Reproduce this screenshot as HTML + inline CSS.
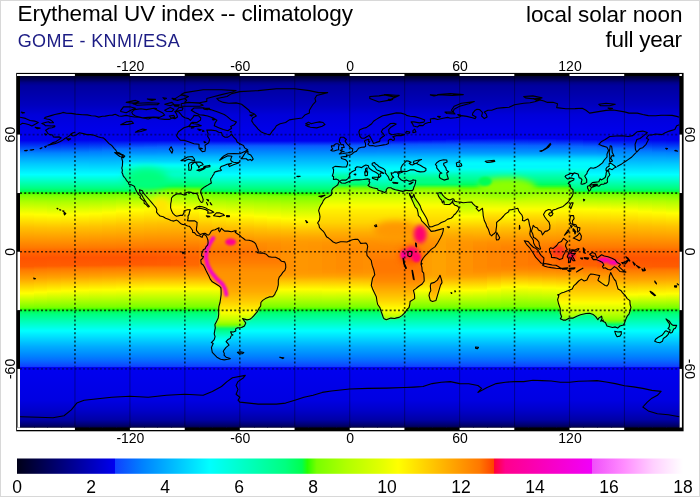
<!DOCTYPE html>
<html><head><meta charset="utf-8"><title>Erythemal UV index -- climatology</title>
<style>html,body{margin:0;padding:0;background:#fff}#wrap{position:relative;width:700px;height:497px;overflow:hidden;background:#fff}</style>
</head><body><div id="wrap"><svg width="700" height="497" viewBox="0 0 700 497" style="position:absolute;left:0;top:0"><defs><linearGradient id="s0" x1="0" y1="0" x2="0" y2="1"><stop offset="0.0000" stop-color="#000030"/><stop offset="0.0083" stop-color="#000051"/><stop offset="0.0194" stop-color="#00008a"/><stop offset="0.0278" stop-color="#00009e"/><stop offset="0.0833" stop-color="#0000bf"/><stop offset="0.1111" stop-color="#0000da"/><stop offset="0.1569" stop-color="#0000ea"/><stop offset="0.1833" stop-color="#0000ee"/><stop offset="0.2194" stop-color="#0084ff"/><stop offset="0.2333" stop-color="#00a6ff"/><stop offset="0.2500" stop-color="#00c8ff"/><stop offset="0.2806" stop-color="#00ffff"/><stop offset="0.3194" stop-color="#00ff80"/><stop offset="0.3278" stop-color="#00ff55"/><stop offset="0.3292" stop-color="#05ff46"/><stop offset="0.3319" stop-color="#24ff07"/><stop offset="0.3333" stop-color="#35ff00"/><stop offset="0.3389" stop-color="#79ff00"/><stop offset="0.3583" stop-color="#afff00"/><stop offset="0.3931" stop-color="#fffe00"/><stop offset="0.4306" stop-color="#ffc100"/><stop offset="0.4889" stop-color="#ff7900"/><stop offset="0.4958" stop-color="#ff6900"/><stop offset="0.5181" stop-color="#ff5300"/><stop offset="0.5417" stop-color="#ff5c00"/><stop offset="0.5514" stop-color="#ff7900"/><stop offset="0.5764" stop-color="#ffa200"/><stop offset="0.6181" stop-color="#ffff00"/><stop offset="0.6583" stop-color="#7cff00"/><stop offset="0.6597" stop-color="#74ff00"/><stop offset="0.6639" stop-color="#35ff00"/><stop offset="0.6653" stop-color="#21ff0d"/><stop offset="0.6681" stop-color="#00ff50"/><stop offset="0.6778" stop-color="#00ff7f"/><stop offset="0.7250" stop-color="#00ffff"/><stop offset="0.7694" stop-color="#00adff"/><stop offset="0.7972" stop-color="#0082ff"/><stop offset="0.8111" stop-color="#0668ff"/><stop offset="0.8264" stop-color="#1041ff"/><stop offset="0.8278" stop-color="#0000f0"/><stop offset="0.9222" stop-color="#0000e2"/><stop offset="0.9500" stop-color="#0000cb"/><stop offset="0.9778" stop-color="#0000a7"/><stop offset="0.9931" stop-color="#000070"/><stop offset="1.0000" stop-color="#000049"/></linearGradient><linearGradient id="s1" x1="0" y1="0" x2="0" y2="1"><stop offset="0.0000" stop-color="#000030"/><stop offset="0.0083" stop-color="#000051"/><stop offset="0.0194" stop-color="#00008a"/><stop offset="0.0278" stop-color="#00009e"/><stop offset="0.0833" stop-color="#0000bf"/><stop offset="0.1111" stop-color="#0000da"/><stop offset="0.1569" stop-color="#0000ea"/><stop offset="0.1833" stop-color="#0000ee"/><stop offset="0.2194" stop-color="#0083ff"/><stop offset="0.2333" stop-color="#00a5ff"/><stop offset="0.2500" stop-color="#00c8ff"/><stop offset="0.2806" stop-color="#00ffff"/><stop offset="0.3194" stop-color="#00ff80"/><stop offset="0.3278" stop-color="#00ff56"/><stop offset="0.3292" stop-color="#03ff4b"/><stop offset="0.3319" stop-color="#22ff0c"/><stop offset="0.3333" stop-color="#32ff00"/><stop offset="0.3389" stop-color="#77ff00"/><stop offset="0.3597" stop-color="#b0ff00"/><stop offset="0.3944" stop-color="#ffff00"/><stop offset="0.4319" stop-color="#ffc100"/><stop offset="0.4889" stop-color="#ff7900"/><stop offset="0.4958" stop-color="#ff6900"/><stop offset="0.5181" stop-color="#ff5300"/><stop offset="0.5403" stop-color="#ff5b00"/><stop offset="0.5500" stop-color="#ff7900"/><stop offset="0.5750" stop-color="#ffa300"/><stop offset="0.6153" stop-color="#fffe00"/><stop offset="0.6583" stop-color="#7aff00"/><stop offset="0.6597" stop-color="#6fff00"/><stop offset="0.6639" stop-color="#33ff00"/><stop offset="0.6653" stop-color="#21ff0f"/><stop offset="0.6681" stop-color="#00ff50"/><stop offset="0.6778" stop-color="#00ff7f"/><stop offset="0.7250" stop-color="#00ffff"/><stop offset="0.7694" stop-color="#00adff"/><stop offset="0.7972" stop-color="#0082ff"/><stop offset="0.8111" stop-color="#0668ff"/><stop offset="0.8264" stop-color="#1041ff"/><stop offset="0.8278" stop-color="#0000f0"/><stop offset="0.9222" stop-color="#0000e2"/><stop offset="0.9500" stop-color="#0000cb"/><stop offset="0.9778" stop-color="#0000a7"/><stop offset="0.9931" stop-color="#000070"/><stop offset="1.0000" stop-color="#000049"/></linearGradient><linearGradient id="s2" x1="0" y1="0" x2="0" y2="1"><stop offset="0.0000" stop-color="#000030"/><stop offset="0.0083" stop-color="#000051"/><stop offset="0.0194" stop-color="#00008a"/><stop offset="0.0278" stop-color="#00009e"/><stop offset="0.0833" stop-color="#0000bf"/><stop offset="0.1111" stop-color="#0000da"/><stop offset="0.1569" stop-color="#0000ea"/><stop offset="0.1833" stop-color="#0000ee"/><stop offset="0.1847" stop-color="#0001ee"/><stop offset="0.2194" stop-color="#0083ff"/><stop offset="0.2333" stop-color="#00a5ff"/><stop offset="0.2500" stop-color="#00c8ff"/><stop offset="0.2806" stop-color="#00ffff"/><stop offset="0.3194" stop-color="#00ff80"/><stop offset="0.3292" stop-color="#01ff4f"/><stop offset="0.3306" stop-color="#12ff2d"/><stop offset="0.3319" stop-color="#20ff11"/><stop offset="0.3333" stop-color="#2fff00"/><stop offset="0.3389" stop-color="#72ff00"/><stop offset="0.3403" stop-color="#7aff00"/><stop offset="0.3597" stop-color="#aeff00"/><stop offset="0.3833" stop-color="#e0ff00"/><stop offset="0.3958" stop-color="#ffff00"/><stop offset="0.4319" stop-color="#ffc200"/><stop offset="0.4889" stop-color="#ff7900"/><stop offset="0.4958" stop-color="#ff6900"/><stop offset="0.5167" stop-color="#ff5300"/><stop offset="0.5403" stop-color="#ff5d00"/><stop offset="0.5486" stop-color="#ff7800"/><stop offset="0.5736" stop-color="#ffa300"/><stop offset="0.6125" stop-color="#fffd00"/><stop offset="0.6583" stop-color="#79ff00"/><stop offset="0.6597" stop-color="#6aff00"/><stop offset="0.6639" stop-color="#31ff00"/><stop offset="0.6653" stop-color="#20ff10"/><stop offset="0.6681" stop-color="#00ff50"/><stop offset="0.6778" stop-color="#00ff7f"/><stop offset="0.7250" stop-color="#00ffff"/><stop offset="0.7694" stop-color="#00adff"/><stop offset="0.7972" stop-color="#0082ff"/><stop offset="0.8111" stop-color="#0668ff"/><stop offset="0.8264" stop-color="#1041ff"/><stop offset="0.8278" stop-color="#0000f0"/><stop offset="0.9222" stop-color="#0000e2"/><stop offset="0.9500" stop-color="#0000cb"/><stop offset="0.9778" stop-color="#0000a7"/><stop offset="0.9931" stop-color="#000070"/><stop offset="1.0000" stop-color="#000049"/></linearGradient><linearGradient id="s3" x1="0" y1="0" x2="0" y2="1"><stop offset="0.0000" stop-color="#000030"/><stop offset="0.0083" stop-color="#000051"/><stop offset="0.0194" stop-color="#00008a"/><stop offset="0.0278" stop-color="#00009e"/><stop offset="0.0833" stop-color="#0000bf"/><stop offset="0.1111" stop-color="#0000da"/><stop offset="0.1569" stop-color="#0000ea"/><stop offset="0.1833" stop-color="#0000ee"/><stop offset="0.2194" stop-color="#0084ff"/><stop offset="0.2333" stop-color="#00a6ff"/><stop offset="0.2500" stop-color="#00c8ff"/><stop offset="0.2806" stop-color="#00ffff"/><stop offset="0.3194" stop-color="#00ff80"/><stop offset="0.3278" stop-color="#00ff56"/><stop offset="0.3292" stop-color="#02ff4c"/><stop offset="0.3306" stop-color="#13ff2a"/><stop offset="0.3319" stop-color="#21ff0d"/><stop offset="0.3333" stop-color="#31ff00"/><stop offset="0.3389" stop-color="#76ff00"/><stop offset="0.3403" stop-color="#7bff00"/><stop offset="0.3597" stop-color="#b0ff00"/><stop offset="0.3819" stop-color="#e0ff00"/><stop offset="0.3944" stop-color="#ffff00"/><stop offset="0.3958" stop-color="#fffd00"/><stop offset="0.4319" stop-color="#ffc100"/><stop offset="0.4889" stop-color="#ff7900"/><stop offset="0.4944" stop-color="#ff6b00"/><stop offset="0.5167" stop-color="#ff5300"/><stop offset="0.5389" stop-color="#ff5b00"/><stop offset="0.5486" stop-color="#ff7900"/><stop offset="0.5722" stop-color="#ffa200"/><stop offset="0.6111" stop-color="#fffe00"/><stop offset="0.6583" stop-color="#78ff00"/><stop offset="0.6639" stop-color="#30ff00"/><stop offset="0.6653" stop-color="#1fff11"/><stop offset="0.6681" stop-color="#00ff50"/><stop offset="0.6778" stop-color="#00ff7f"/><stop offset="0.7250" stop-color="#00ffff"/><stop offset="0.7694" stop-color="#00adff"/><stop offset="0.7972" stop-color="#0082ff"/><stop offset="0.8111" stop-color="#0668ff"/><stop offset="0.8264" stop-color="#1041ff"/><stop offset="0.8278" stop-color="#0000f0"/><stop offset="0.9222" stop-color="#0000e2"/><stop offset="0.9500" stop-color="#0000cb"/><stop offset="0.9778" stop-color="#0000a7"/><stop offset="0.9931" stop-color="#000070"/><stop offset="1.0000" stop-color="#000049"/></linearGradient><linearGradient id="s4" x1="0" y1="0" x2="0" y2="1"><stop offset="0.0000" stop-color="#000030"/><stop offset="0.0083" stop-color="#000051"/><stop offset="0.0194" stop-color="#00008a"/><stop offset="0.0278" stop-color="#00009e"/><stop offset="0.0833" stop-color="#0000bf"/><stop offset="0.1111" stop-color="#0000da"/><stop offset="0.1569" stop-color="#0000ea"/><stop offset="0.1819" stop-color="#0000ee"/><stop offset="0.2181" stop-color="#0082ff"/><stop offset="0.2319" stop-color="#00a3ff"/><stop offset="0.2500" stop-color="#00c8ff"/><stop offset="0.2806" stop-color="#00ffff"/><stop offset="0.3194" stop-color="#00ff80"/><stop offset="0.3278" stop-color="#00ff55"/><stop offset="0.3292" stop-color="#04ff47"/><stop offset="0.3319" stop-color="#24ff08"/><stop offset="0.3333" stop-color="#35ff00"/><stop offset="0.3389" stop-color="#79ff00"/><stop offset="0.3583" stop-color="#afff00"/><stop offset="0.3931" stop-color="#ffff00"/><stop offset="0.4306" stop-color="#ffc100"/><stop offset="0.4889" stop-color="#ff7900"/><stop offset="0.4944" stop-color="#ff6b00"/><stop offset="0.5167" stop-color="#ff5300"/><stop offset="0.5389" stop-color="#ff5c00"/><stop offset="0.5472" stop-color="#ff7800"/><stop offset="0.5722" stop-color="#ffa400"/><stop offset="0.6097" stop-color="#fffe00"/><stop offset="0.6583" stop-color="#77ff00"/><stop offset="0.6639" stop-color="#2fff00"/><stop offset="0.6653" stop-color="#1fff12"/><stop offset="0.6681" stop-color="#00ff50"/><stop offset="0.6778" stop-color="#00ff7f"/><stop offset="0.7250" stop-color="#00ffff"/><stop offset="0.7694" stop-color="#00adff"/><stop offset="0.7972" stop-color="#0082ff"/><stop offset="0.8111" stop-color="#0668ff"/><stop offset="0.8264" stop-color="#1041ff"/><stop offset="0.8278" stop-color="#0000f0"/><stop offset="0.9222" stop-color="#0000e2"/><stop offset="0.9500" stop-color="#0000cb"/><stop offset="0.9778" stop-color="#0000a7"/><stop offset="0.9931" stop-color="#000070"/><stop offset="1.0000" stop-color="#000049"/></linearGradient><linearGradient id="s5" x1="0" y1="0" x2="0" y2="1"><stop offset="0.0000" stop-color="#000030"/><stop offset="0.0083" stop-color="#000051"/><stop offset="0.0194" stop-color="#00008a"/><stop offset="0.0278" stop-color="#00009e"/><stop offset="0.0833" stop-color="#0000bf"/><stop offset="0.1111" stop-color="#0000da"/><stop offset="0.1569" stop-color="#0000ea"/><stop offset="0.1819" stop-color="#0001ee"/><stop offset="0.2139" stop-color="#0277ff"/><stop offset="0.2181" stop-color="#0084ff"/><stop offset="0.2333" stop-color="#00a7ff"/><stop offset="0.2806" stop-color="#00ffff"/><stop offset="0.3194" stop-color="#00ff80"/><stop offset="0.3222" stop-color="#00ff72"/><stop offset="0.3278" stop-color="#00ff55"/><stop offset="0.3292" stop-color="#07ff42"/><stop offset="0.3319" stop-color="#27ff03"/><stop offset="0.3375" stop-color="#6fff00"/><stop offset="0.3389" stop-color="#7aff00"/><stop offset="0.3583" stop-color="#b1ff00"/><stop offset="0.3917" stop-color="#fffe00"/><stop offset="0.4292" stop-color="#ffc200"/><stop offset="0.4889" stop-color="#ff7800"/><stop offset="0.4944" stop-color="#ff6b00"/><stop offset="0.5167" stop-color="#ff5300"/><stop offset="0.5389" stop-color="#ff5d00"/><stop offset="0.5472" stop-color="#ff7900"/><stop offset="0.5708" stop-color="#ffa300"/><stop offset="0.6083" stop-color="#fffd00"/><stop offset="0.6569" stop-color="#7bff00"/><stop offset="0.6583" stop-color="#75ff00"/><stop offset="0.6639" stop-color="#2eff00"/><stop offset="0.6653" stop-color="#1fff13"/><stop offset="0.6681" stop-color="#00ff50"/><stop offset="0.6778" stop-color="#00ff7f"/><stop offset="0.7250" stop-color="#00ffff"/><stop offset="0.7694" stop-color="#00adff"/><stop offset="0.7972" stop-color="#0082ff"/><stop offset="0.8111" stop-color="#0668ff"/><stop offset="0.8264" stop-color="#1041ff"/><stop offset="0.8278" stop-color="#0000f0"/><stop offset="0.9222" stop-color="#0000e2"/><stop offset="0.9500" stop-color="#0000cb"/><stop offset="0.9778" stop-color="#0000a7"/><stop offset="0.9931" stop-color="#000070"/><stop offset="1.0000" stop-color="#000049"/></linearGradient><linearGradient id="s6" x1="0" y1="0" x2="0" y2="1"><stop offset="0.0000" stop-color="#000030"/><stop offset="0.0083" stop-color="#000051"/><stop offset="0.0194" stop-color="#00008a"/><stop offset="0.0278" stop-color="#00009e"/><stop offset="0.0833" stop-color="#0000bf"/><stop offset="0.1111" stop-color="#0000da"/><stop offset="0.1556" stop-color="#0000ea"/><stop offset="0.1819" stop-color="#0000ee"/><stop offset="0.2111" stop-color="#0473ff"/><stop offset="0.2167" stop-color="#0083ff"/><stop offset="0.2319" stop-color="#00a5ff"/><stop offset="0.2806" stop-color="#00ffff"/><stop offset="0.3194" stop-color="#00ff80"/><stop offset="0.3222" stop-color="#00ff72"/><stop offset="0.3278" stop-color="#00ff53"/><stop offset="0.3292" stop-color="#0bff3b"/><stop offset="0.3306" stop-color="#1bff19"/><stop offset="0.3319" stop-color="#2cff00"/><stop offset="0.3375" stop-color="#77ff00"/><stop offset="0.3569" stop-color="#b1ff00"/><stop offset="0.3889" stop-color="#fffe00"/><stop offset="0.4278" stop-color="#ffc100"/><stop offset="0.4889" stop-color="#ff7800"/><stop offset="0.4944" stop-color="#ff6a00"/><stop offset="0.5167" stop-color="#ff5300"/><stop offset="0.5375" stop-color="#ff5b00"/><stop offset="0.5472" stop-color="#ff7a00"/><stop offset="0.5708" stop-color="#ffa500"/><stop offset="0.6083" stop-color="#feff00"/><stop offset="0.6569" stop-color="#7bff00"/><stop offset="0.6583" stop-color="#73ff00"/><stop offset="0.6639" stop-color="#2eff00"/><stop offset="0.6653" stop-color="#1eff13"/><stop offset="0.6681" stop-color="#00ff50"/><stop offset="0.6778" stop-color="#00ff7f"/><stop offset="0.7250" stop-color="#00ffff"/><stop offset="0.7694" stop-color="#00adff"/><stop offset="0.7972" stop-color="#0082ff"/><stop offset="0.8111" stop-color="#0668ff"/><stop offset="0.8264" stop-color="#1041ff"/><stop offset="0.8278" stop-color="#0000f0"/><stop offset="0.9222" stop-color="#0000e2"/><stop offset="0.9500" stop-color="#0000cb"/><stop offset="0.9778" stop-color="#0000a7"/><stop offset="0.9931" stop-color="#000070"/><stop offset="1.0000" stop-color="#000049"/></linearGradient><linearGradient id="s7" x1="0" y1="0" x2="0" y2="1"><stop offset="0.0000" stop-color="#000030"/><stop offset="0.0083" stop-color="#000051"/><stop offset="0.0194" stop-color="#00008a"/><stop offset="0.0278" stop-color="#00009e"/><stop offset="0.0833" stop-color="#0000bf"/><stop offset="0.1111" stop-color="#0000da"/><stop offset="0.1556" stop-color="#0000ea"/><stop offset="0.1819" stop-color="#0000ee"/><stop offset="0.1833" stop-color="#0002ef"/><stop offset="0.2069" stop-color="#0569ff"/><stop offset="0.2153" stop-color="#0081ff"/><stop offset="0.2319" stop-color="#00a6ff"/><stop offset="0.2806" stop-color="#00ffff"/><stop offset="0.3194" stop-color="#00ff80"/><stop offset="0.3222" stop-color="#00ff72"/><stop offset="0.3278" stop-color="#00ff52"/><stop offset="0.3306" stop-color="#21ff0e"/><stop offset="0.3319" stop-color="#33ff00"/><stop offset="0.3361" stop-color="#6fff00"/><stop offset="0.3375" stop-color="#7aff00"/><stop offset="0.3542" stop-color="#afff00"/><stop offset="0.3847" stop-color="#ffff00"/><stop offset="0.4250" stop-color="#ffc200"/><stop offset="0.4875" stop-color="#ff7900"/><stop offset="0.4944" stop-color="#ff6a00"/><stop offset="0.5167" stop-color="#ff5300"/><stop offset="0.5375" stop-color="#ff5b00"/><stop offset="0.5458" stop-color="#ff7800"/><stop offset="0.5694" stop-color="#ffa300"/><stop offset="0.6069" stop-color="#ffff00"/><stop offset="0.6569" stop-color="#7aff00"/><stop offset="0.6583" stop-color="#71ff00"/><stop offset="0.6639" stop-color="#2dff00"/><stop offset="0.6653" stop-color="#1eff14"/><stop offset="0.6681" stop-color="#00ff50"/><stop offset="0.6778" stop-color="#00ff7f"/><stop offset="0.7250" stop-color="#00ffff"/><stop offset="0.7694" stop-color="#00adff"/><stop offset="0.7972" stop-color="#0082ff"/><stop offset="0.8111" stop-color="#0668ff"/><stop offset="0.8264" stop-color="#1041ff"/><stop offset="0.8278" stop-color="#0000f0"/><stop offset="0.9222" stop-color="#0000e2"/><stop offset="0.9500" stop-color="#0000cb"/><stop offset="0.9778" stop-color="#0000a7"/><stop offset="0.9931" stop-color="#000070"/><stop offset="1.0000" stop-color="#000049"/></linearGradient><linearGradient id="s8" x1="0" y1="0" x2="0" y2="1"><stop offset="0.0000" stop-color="#000030"/><stop offset="0.0083" stop-color="#000051"/><stop offset="0.0194" stop-color="#00008a"/><stop offset="0.0278" stop-color="#00009e"/><stop offset="0.0833" stop-color="#0000bf"/><stop offset="0.1111" stop-color="#0000da"/><stop offset="0.1556" stop-color="#0000ea"/><stop offset="0.1833" stop-color="#0000ef"/><stop offset="0.2042" stop-color="#0765ff"/><stop offset="0.2139" stop-color="#017fff"/><stop offset="0.2306" stop-color="#00a4ff"/><stop offset="0.2806" stop-color="#00ffff"/><stop offset="0.3194" stop-color="#00ff80"/><stop offset="0.3222" stop-color="#00ff72"/><stop offset="0.3278" stop-color="#01ff4e"/><stop offset="0.3292" stop-color="#16ff25"/><stop offset="0.3306" stop-color="#27ff02"/><stop offset="0.3361" stop-color="#79ff00"/><stop offset="0.3528" stop-color="#b0ff00"/><stop offset="0.3708" stop-color="#e0ff00"/><stop offset="0.3806" stop-color="#feff00"/><stop offset="0.3819" stop-color="#fffd00"/><stop offset="0.4222" stop-color="#ffc200"/><stop offset="0.4875" stop-color="#ff7900"/><stop offset="0.4944" stop-color="#ff6a00"/><stop offset="0.5167" stop-color="#ff5300"/><stop offset="0.5375" stop-color="#ff5c00"/><stop offset="0.5458" stop-color="#ff7800"/><stop offset="0.5694" stop-color="#ffa400"/><stop offset="0.6056" stop-color="#fffd00"/><stop offset="0.6569" stop-color="#7aff00"/><stop offset="0.6583" stop-color="#70ff00"/><stop offset="0.6639" stop-color="#2dff00"/><stop offset="0.6653" stop-color="#1eff14"/><stop offset="0.6681" stop-color="#00ff50"/><stop offset="0.6778" stop-color="#00ff7f"/><stop offset="0.7250" stop-color="#00ffff"/><stop offset="0.7694" stop-color="#00adff"/><stop offset="0.7972" stop-color="#0082ff"/><stop offset="0.8111" stop-color="#0668ff"/><stop offset="0.8264" stop-color="#1041ff"/><stop offset="0.8278" stop-color="#0000f0"/><stop offset="0.9222" stop-color="#0000e2"/><stop offset="0.9500" stop-color="#0000cb"/><stop offset="0.9778" stop-color="#0000a7"/><stop offset="0.9931" stop-color="#000070"/><stop offset="1.0000" stop-color="#000049"/></linearGradient><linearGradient id="s9" x1="0" y1="0" x2="0" y2="1"><stop offset="0.0000" stop-color="#000030"/><stop offset="0.0083" stop-color="#000051"/><stop offset="0.0194" stop-color="#00008a"/><stop offset="0.0278" stop-color="#00009e"/><stop offset="0.0833" stop-color="#0000bf"/><stop offset="0.1111" stop-color="#0000da"/><stop offset="0.1556" stop-color="#0000ea"/><stop offset="0.1833" stop-color="#0000ef"/><stop offset="0.2028" stop-color="#0762ff"/><stop offset="0.2139" stop-color="#0081ff"/><stop offset="0.2306" stop-color="#00a5ff"/><stop offset="0.2806" stop-color="#00ffff"/><stop offset="0.3194" stop-color="#00ff80"/><stop offset="0.3222" stop-color="#00ff72"/><stop offset="0.3264" stop-color="#00ff57"/><stop offset="0.3278" stop-color="#07ff43"/><stop offset="0.3292" stop-color="#1bff1a"/><stop offset="0.3306" stop-color="#2fff00"/><stop offset="0.3347" stop-color="#73ff00"/><stop offset="0.3361" stop-color="#7cff00"/><stop offset="0.3514" stop-color="#b2ff00"/><stop offset="0.3778" stop-color="#fffe00"/><stop offset="0.4208" stop-color="#ffc100"/><stop offset="0.4875" stop-color="#ff7800"/><stop offset="0.4944" stop-color="#ff6a00"/><stop offset="0.5167" stop-color="#ff5400"/><stop offset="0.5375" stop-color="#ff5d00"/><stop offset="0.5458" stop-color="#ff7900"/><stop offset="0.5694" stop-color="#ffa500"/><stop offset="0.6056" stop-color="#ffff00"/><stop offset="0.6167" stop-color="#e0ff00"/><stop offset="0.6569" stop-color="#7aff00"/><stop offset="0.6583" stop-color="#6fff00"/><stop offset="0.6639" stop-color="#2cff00"/><stop offset="0.6653" stop-color="#1eff14"/><stop offset="0.6681" stop-color="#00ff50"/><stop offset="0.6778" stop-color="#00ff7f"/><stop offset="0.7250" stop-color="#00ffff"/><stop offset="0.7694" stop-color="#00adff"/><stop offset="0.7972" stop-color="#0082ff"/><stop offset="0.8111" stop-color="#0668ff"/><stop offset="0.8264" stop-color="#1041ff"/><stop offset="0.8278" stop-color="#0000f0"/><stop offset="0.9222" stop-color="#0000e2"/><stop offset="0.9500" stop-color="#0000cb"/><stop offset="0.9778" stop-color="#0000a7"/><stop offset="0.9931" stop-color="#000070"/><stop offset="1.0000" stop-color="#000049"/></linearGradient><linearGradient id="s10" x1="0" y1="0" x2="0" y2="1"><stop offset="0.0000" stop-color="#000030"/><stop offset="0.0083" stop-color="#000051"/><stop offset="0.0194" stop-color="#00008a"/><stop offset="0.0278" stop-color="#00009e"/><stop offset="0.0833" stop-color="#0000bf"/><stop offset="0.1111" stop-color="#0000da"/><stop offset="0.1556" stop-color="#0000ea"/><stop offset="0.1833" stop-color="#0000ef"/><stop offset="0.2014" stop-color="#085fff"/><stop offset="0.2139" stop-color="#0082ff"/><stop offset="0.2306" stop-color="#00a5ff"/><stop offset="0.2806" stop-color="#00ffff"/><stop offset="0.3194" stop-color="#00ff80"/><stop offset="0.3222" stop-color="#00ff72"/><stop offset="0.3264" stop-color="#00ff55"/><stop offset="0.3278" stop-color="#0cff39"/><stop offset="0.3292" stop-color="#20ff10"/><stop offset="0.3306" stop-color="#36ff00"/><stop offset="0.3333" stop-color="#66ff00"/><stop offset="0.3347" stop-color="#79ff00"/><stop offset="0.3500" stop-color="#b2ff00"/><stop offset="0.3750" stop-color="#fffe00"/><stop offset="0.4194" stop-color="#ffc100"/><stop offset="0.4875" stop-color="#ff7800"/><stop offset="0.4944" stop-color="#ff6a00"/><stop offset="0.5167" stop-color="#ff5600"/><stop offset="0.5375" stop-color="#ff5e00"/><stop offset="0.5458" stop-color="#ff7900"/><stop offset="0.5694" stop-color="#ffa500"/><stop offset="0.6056" stop-color="#ffff00"/><stop offset="0.6167" stop-color="#e0ff00"/><stop offset="0.6569" stop-color="#7aff00"/><stop offset="0.6583" stop-color="#6fff00"/><stop offset="0.6639" stop-color="#2cff00"/><stop offset="0.6653" stop-color="#1eff14"/><stop offset="0.6681" stop-color="#00ff50"/><stop offset="0.6778" stop-color="#00ff7f"/><stop offset="0.7250" stop-color="#00ffff"/><stop offset="0.7694" stop-color="#00adff"/><stop offset="0.7972" stop-color="#0082ff"/><stop offset="0.8111" stop-color="#0668ff"/><stop offset="0.8264" stop-color="#1041ff"/><stop offset="0.8278" stop-color="#0000f0"/><stop offset="0.9222" stop-color="#0000e2"/><stop offset="0.9500" stop-color="#0000cb"/><stop offset="0.9778" stop-color="#0000a7"/><stop offset="0.9931" stop-color="#000070"/><stop offset="1.0000" stop-color="#000049"/></linearGradient><linearGradient id="s11" x1="0" y1="0" x2="0" y2="1"><stop offset="0.0000" stop-color="#000030"/><stop offset="0.0083" stop-color="#000051"/><stop offset="0.0194" stop-color="#00008a"/><stop offset="0.0278" stop-color="#00009e"/><stop offset="0.0833" stop-color="#0000bf"/><stop offset="0.1111" stop-color="#0000da"/><stop offset="0.1556" stop-color="#0000ea"/><stop offset="0.1833" stop-color="#0000ef"/><stop offset="0.2000" stop-color="#085cfe"/><stop offset="0.2028" stop-color="#0766ff"/><stop offset="0.2139" stop-color="#0083ff"/><stop offset="0.2306" stop-color="#00a6ff"/><stop offset="0.2806" stop-color="#00ffff"/><stop offset="0.3194" stop-color="#00ff80"/><stop offset="0.3222" stop-color="#00ff72"/><stop offset="0.3264" stop-color="#00ff54"/><stop offset="0.3278" stop-color="#0eff34"/><stop offset="0.3292" stop-color="#23ff0b"/><stop offset="0.3306" stop-color="#3aff00"/><stop offset="0.3333" stop-color="#6bff00"/><stop offset="0.3347" stop-color="#7aff00"/><stop offset="0.3486" stop-color="#b0ff00"/><stop offset="0.3736" stop-color="#ffff00"/><stop offset="0.4181" stop-color="#ffc100"/><stop offset="0.4875" stop-color="#ff7800"/><stop offset="0.4931" stop-color="#ff6d00"/><stop offset="0.5167" stop-color="#ff5900"/><stop offset="0.5375" stop-color="#ff6000"/><stop offset="0.5458" stop-color="#ff7900"/><stop offset="0.5694" stop-color="#ffa500"/><stop offset="0.6056" stop-color="#ffff00"/><stop offset="0.6167" stop-color="#e0ff00"/><stop offset="0.6569" stop-color="#7aff00"/><stop offset="0.6583" stop-color="#6fff00"/><stop offset="0.6639" stop-color="#2cff00"/><stop offset="0.6653" stop-color="#1eff14"/><stop offset="0.6681" stop-color="#00ff50"/><stop offset="0.6778" stop-color="#00ff7f"/><stop offset="0.7250" stop-color="#00ffff"/><stop offset="0.7694" stop-color="#00adff"/><stop offset="0.7972" stop-color="#0082ff"/><stop offset="0.8111" stop-color="#0668ff"/><stop offset="0.8264" stop-color="#1041ff"/><stop offset="0.8278" stop-color="#0000f0"/><stop offset="0.9222" stop-color="#0000e2"/><stop offset="0.9500" stop-color="#0000cb"/><stop offset="0.9778" stop-color="#0000a7"/><stop offset="0.9931" stop-color="#000070"/><stop offset="1.0000" stop-color="#000049"/></linearGradient><linearGradient id="s12" x1="0" y1="0" x2="0" y2="1"><stop offset="0.0000" stop-color="#000030"/><stop offset="0.0083" stop-color="#000051"/><stop offset="0.0194" stop-color="#00008a"/><stop offset="0.0278" stop-color="#00009e"/><stop offset="0.0833" stop-color="#0000bf"/><stop offset="0.1111" stop-color="#0000da"/><stop offset="0.1556" stop-color="#0000ea"/><stop offset="0.1833" stop-color="#0000ef"/><stop offset="0.2014" stop-color="#0763ff"/><stop offset="0.2139" stop-color="#0083ff"/><stop offset="0.2292" stop-color="#00a3ff"/><stop offset="0.2806" stop-color="#00ffff"/><stop offset="0.3194" stop-color="#00ff80"/><stop offset="0.3222" stop-color="#00ff72"/><stop offset="0.3264" stop-color="#00ff58"/><stop offset="0.3278" stop-color="#03ff4a"/><stop offset="0.3292" stop-color="#18ff21"/><stop offset="0.3306" stop-color="#2aff00"/><stop offset="0.3347" stop-color="#6bff00"/><stop offset="0.3361" stop-color="#7aff00"/><stop offset="0.3514" stop-color="#aeff00"/><stop offset="0.3694" stop-color="#dfff00"/><stop offset="0.3792" stop-color="#feff00"/><stop offset="0.3806" stop-color="#fffd00"/><stop offset="0.4222" stop-color="#ffc100"/><stop offset="0.4944" stop-color="#ff7100"/><stop offset="0.5167" stop-color="#ff6300"/><stop offset="0.5375" stop-color="#ff6900"/><stop offset="0.5444" stop-color="#ff7800"/><stop offset="0.5681" stop-color="#ffa200"/><stop offset="0.6056" stop-color="#ffff00"/><stop offset="0.6167" stop-color="#e0ff00"/><stop offset="0.6569" stop-color="#7aff00"/><stop offset="0.6583" stop-color="#6fff00"/><stop offset="0.6639" stop-color="#2cff00"/><stop offset="0.6653" stop-color="#1eff14"/><stop offset="0.6681" stop-color="#00ff50"/><stop offset="0.6778" stop-color="#00ff7f"/><stop offset="0.7250" stop-color="#00ffff"/><stop offset="0.7694" stop-color="#00adff"/><stop offset="0.7972" stop-color="#0082ff"/><stop offset="0.8111" stop-color="#0668ff"/><stop offset="0.8264" stop-color="#1041ff"/><stop offset="0.8278" stop-color="#0000f0"/><stop offset="0.9222" stop-color="#0000e2"/><stop offset="0.9500" stop-color="#0000cb"/><stop offset="0.9778" stop-color="#0000a7"/><stop offset="0.9931" stop-color="#000070"/><stop offset="1.0000" stop-color="#000049"/></linearGradient><linearGradient id="s13" x1="0" y1="0" x2="0" y2="1"><stop offset="0.0000" stop-color="#000030"/><stop offset="0.0083" stop-color="#000051"/><stop offset="0.0194" stop-color="#00008a"/><stop offset="0.0278" stop-color="#00009e"/><stop offset="0.0833" stop-color="#0000bf"/><stop offset="0.1111" stop-color="#0000da"/><stop offset="0.1556" stop-color="#0000ea"/><stop offset="0.1833" stop-color="#0000ef"/><stop offset="0.1847" stop-color="#0105f0"/><stop offset="0.1986" stop-color="#0957fe"/><stop offset="0.2014" stop-color="#0763ff"/><stop offset="0.2139" stop-color="#0083ff"/><stop offset="0.2292" stop-color="#00a3ff"/><stop offset="0.2806" stop-color="#00ffff"/><stop offset="0.3194" stop-color="#00ff80"/><stop offset="0.3222" stop-color="#00ff72"/><stop offset="0.3278" stop-color="#00ff52"/><stop offset="0.3306" stop-color="#1fff12"/><stop offset="0.3319" stop-color="#31ff00"/><stop offset="0.3361" stop-color="#6bff00"/><stop offset="0.3375" stop-color="#7aff00"/><stop offset="0.3556" stop-color="#b1ff00"/><stop offset="0.3861" stop-color="#fffe00"/><stop offset="0.4264" stop-color="#ffc100"/><stop offset="0.4764" stop-color="#ff8700"/><stop offset="0.4931" stop-color="#ff7900"/><stop offset="0.5167" stop-color="#ff7000"/><stop offset="0.5375" stop-color="#ff7300"/><stop offset="0.5514" stop-color="#ff8400"/><stop offset="0.5694" stop-color="#ffa500"/><stop offset="0.6056" stop-color="#ffff00"/><stop offset="0.6167" stop-color="#e0ff00"/><stop offset="0.6569" stop-color="#7aff00"/><stop offset="0.6583" stop-color="#6fff00"/><stop offset="0.6639" stop-color="#2cff00"/><stop offset="0.6653" stop-color="#1eff14"/><stop offset="0.6681" stop-color="#00ff50"/><stop offset="0.6778" stop-color="#00ff7f"/><stop offset="0.7250" stop-color="#00ffff"/><stop offset="0.7694" stop-color="#00adff"/><stop offset="0.7972" stop-color="#0082ff"/><stop offset="0.8111" stop-color="#0668ff"/><stop offset="0.8264" stop-color="#1041ff"/><stop offset="0.8278" stop-color="#0000f0"/><stop offset="0.9222" stop-color="#0000e2"/><stop offset="0.9500" stop-color="#0000cb"/><stop offset="0.9778" stop-color="#0000a7"/><stop offset="0.9931" stop-color="#000070"/><stop offset="1.0000" stop-color="#000049"/></linearGradient><linearGradient id="s14" x1="0" y1="0" x2="0" y2="1"><stop offset="0.0000" stop-color="#000030"/><stop offset="0.0083" stop-color="#000051"/><stop offset="0.0194" stop-color="#00008a"/><stop offset="0.0278" stop-color="#00009e"/><stop offset="0.0833" stop-color="#0000bf"/><stop offset="0.1111" stop-color="#0000da"/><stop offset="0.1556" stop-color="#0000ea"/><stop offset="0.1833" stop-color="#0000ef"/><stop offset="0.1847" stop-color="#0002ef"/><stop offset="0.1986" stop-color="#0958ff"/><stop offset="0.2014" stop-color="#0763ff"/><stop offset="0.2139" stop-color="#0083ff"/><stop offset="0.2292" stop-color="#00a3ff"/><stop offset="0.2806" stop-color="#00ffff"/><stop offset="0.3194" stop-color="#00ff80"/><stop offset="0.3222" stop-color="#00ff72"/><stop offset="0.3278" stop-color="#00ff54"/><stop offset="0.3292" stop-color="#07ff41"/><stop offset="0.3319" stop-color="#27ff01"/><stop offset="0.3375" stop-color="#70ff00"/><stop offset="0.3389" stop-color="#7aff00"/><stop offset="0.3583" stop-color="#b2ff00"/><stop offset="0.3792" stop-color="#e1ff00"/><stop offset="0.3903" stop-color="#feff00"/><stop offset="0.3917" stop-color="#fffd00"/><stop offset="0.4292" stop-color="#ffc100"/><stop offset="0.4778" stop-color="#ff8700"/><stop offset="0.4944" stop-color="#ff7c00"/><stop offset="0.5250" stop-color="#ff7a00"/><stop offset="0.5417" stop-color="#ff7c00"/><stop offset="0.5556" stop-color="#ff8b00"/><stop offset="0.5694" stop-color="#ffa400"/><stop offset="0.6056" stop-color="#fffe00"/><stop offset="0.6569" stop-color="#7aff00"/><stop offset="0.6583" stop-color="#6fff00"/><stop offset="0.6639" stop-color="#2dff00"/><stop offset="0.6653" stop-color="#1eff14"/><stop offset="0.6681" stop-color="#00ff50"/><stop offset="0.6778" stop-color="#00ff7f"/><stop offset="0.7250" stop-color="#00ffff"/><stop offset="0.7694" stop-color="#00adff"/><stop offset="0.7972" stop-color="#0082ff"/><stop offset="0.8111" stop-color="#0668ff"/><stop offset="0.8264" stop-color="#1041ff"/><stop offset="0.8278" stop-color="#0000f0"/><stop offset="0.9222" stop-color="#0000e2"/><stop offset="0.9500" stop-color="#0000cb"/><stop offset="0.9778" stop-color="#0000a7"/><stop offset="0.9931" stop-color="#000070"/><stop offset="1.0000" stop-color="#000049"/></linearGradient><linearGradient id="s15" x1="0" y1="0" x2="0" y2="1"><stop offset="0.0000" stop-color="#000030"/><stop offset="0.0083" stop-color="#000051"/><stop offset="0.0194" stop-color="#00008a"/><stop offset="0.0278" stop-color="#00009e"/><stop offset="0.0833" stop-color="#0000bf"/><stop offset="0.1111" stop-color="#0000da"/><stop offset="0.1556" stop-color="#0000ea"/><stop offset="0.1847" stop-color="#0000ef"/><stop offset="0.1986" stop-color="#0a59ff"/><stop offset="0.2014" stop-color="#0763ff"/><stop offset="0.2139" stop-color="#0083ff"/><stop offset="0.2292" stop-color="#00a3ff"/><stop offset="0.2806" stop-color="#00ffff"/><stop offset="0.3194" stop-color="#00ff80"/><stop offset="0.3278" stop-color="#00ff56"/><stop offset="0.3292" stop-color="#03ff49"/><stop offset="0.3319" stop-color="#23ff0b"/><stop offset="0.3333" stop-color="#33ff00"/><stop offset="0.3389" stop-color="#78ff00"/><stop offset="0.3597" stop-color="#b1ff00"/><stop offset="0.3944" stop-color="#fffe00"/><stop offset="0.4306" stop-color="#ffc200"/><stop offset="0.4778" stop-color="#ff8900"/><stop offset="0.4944" stop-color="#ff7f00"/><stop offset="0.5375" stop-color="#ff7e00"/><stop offset="0.5528" stop-color="#ff8700"/><stop offset="0.5694" stop-color="#ffa300"/><stop offset="0.6069" stop-color="#ffff00"/><stop offset="0.6181" stop-color="#dfff00"/><stop offset="0.6569" stop-color="#7aff00"/><stop offset="0.6583" stop-color="#71ff00"/><stop offset="0.6639" stop-color="#2dff00"/><stop offset="0.6653" stop-color="#1eff14"/><stop offset="0.6681" stop-color="#00ff50"/><stop offset="0.6778" stop-color="#00ff7f"/><stop offset="0.7250" stop-color="#00ffff"/><stop offset="0.7694" stop-color="#00adff"/><stop offset="0.7972" stop-color="#0082ff"/><stop offset="0.8111" stop-color="#0668ff"/><stop offset="0.8264" stop-color="#1041ff"/><stop offset="0.8278" stop-color="#0000f0"/><stop offset="0.9222" stop-color="#0000e2"/><stop offset="0.9500" stop-color="#0000cb"/><stop offset="0.9778" stop-color="#0000a7"/><stop offset="0.9931" stop-color="#000070"/><stop offset="1.0000" stop-color="#000049"/></linearGradient><linearGradient id="s16" x1="0" y1="0" x2="0" y2="1"><stop offset="0.0000" stop-color="#000030"/><stop offset="0.0083" stop-color="#000051"/><stop offset="0.0194" stop-color="#00008a"/><stop offset="0.0278" stop-color="#00009e"/><stop offset="0.0833" stop-color="#0000bf"/><stop offset="0.1111" stop-color="#0000da"/><stop offset="0.1556" stop-color="#0000ea"/><stop offset="0.1847" stop-color="#0000ef"/><stop offset="0.1986" stop-color="#0a59ff"/><stop offset="0.2014" stop-color="#0763ff"/><stop offset="0.2139" stop-color="#0083ff"/><stop offset="0.2292" stop-color="#00a3ff"/><stop offset="0.2806" stop-color="#00ffff"/><stop offset="0.3194" stop-color="#00ff80"/><stop offset="0.3292" stop-color="#00ff50"/><stop offset="0.3306" stop-color="#10ff2f"/><stop offset="0.3319" stop-color="#1eff13"/><stop offset="0.3333" stop-color="#2dff00"/><stop offset="0.3389" stop-color="#70ff00"/><stop offset="0.3403" stop-color="#7aff00"/><stop offset="0.3611" stop-color="#b0ff00"/><stop offset="0.3972" stop-color="#fffe00"/><stop offset="0.4333" stop-color="#ffc100"/><stop offset="0.4694" stop-color="#ff9300"/><stop offset="0.4861" stop-color="#ff8500"/><stop offset="0.5028" stop-color="#ff8100"/><stop offset="0.5417" stop-color="#ff8100"/><stop offset="0.5556" stop-color="#ff8b00"/><stop offset="0.5708" stop-color="#ffa500"/><stop offset="0.6069" stop-color="#fffd00"/><stop offset="0.6569" stop-color="#7aff00"/><stop offset="0.6583" stop-color="#72ff00"/><stop offset="0.6639" stop-color="#2eff00"/><stop offset="0.6653" stop-color="#1eff13"/><stop offset="0.6681" stop-color="#00ff50"/><stop offset="0.6778" stop-color="#00ff7f"/><stop offset="0.7250" stop-color="#00ffff"/><stop offset="0.7694" stop-color="#00adff"/><stop offset="0.7972" stop-color="#0082ff"/><stop offset="0.8111" stop-color="#0668ff"/><stop offset="0.8264" stop-color="#1041ff"/><stop offset="0.8278" stop-color="#0000f0"/><stop offset="0.9222" stop-color="#0000e2"/><stop offset="0.9500" stop-color="#0000cb"/><stop offset="0.9778" stop-color="#0000a7"/><stop offset="0.9931" stop-color="#000070"/><stop offset="1.0000" stop-color="#000049"/></linearGradient><linearGradient id="s17" x1="0" y1="0" x2="0" y2="1"><stop offset="0.0000" stop-color="#000030"/><stop offset="0.0083" stop-color="#000051"/><stop offset="0.0194" stop-color="#00008a"/><stop offset="0.0278" stop-color="#00009e"/><stop offset="0.0833" stop-color="#0000bf"/><stop offset="0.1111" stop-color="#0000da"/><stop offset="0.1556" stop-color="#0000ea"/><stop offset="0.1847" stop-color="#0000ef"/><stop offset="0.1986" stop-color="#0a59ff"/><stop offset="0.2014" stop-color="#0763ff"/><stop offset="0.2139" stop-color="#0083ff"/><stop offset="0.2292" stop-color="#00a3ff"/><stop offset="0.2806" stop-color="#00ffff"/><stop offset="0.3194" stop-color="#00ff80"/><stop offset="0.3292" stop-color="#00ff52"/><stop offset="0.3333" stop-color="#28ff00"/><stop offset="0.3403" stop-color="#78ff00"/><stop offset="0.3625" stop-color="#b0ff00"/><stop offset="0.3861" stop-color="#dfff00"/><stop offset="0.4000" stop-color="#ffff00"/><stop offset="0.4347" stop-color="#ffc200"/><stop offset="0.4764" stop-color="#ff8e00"/><stop offset="0.4931" stop-color="#ff8500"/><stop offset="0.5417" stop-color="#ff8500"/><stop offset="0.5556" stop-color="#ff8c00"/><stop offset="0.5694" stop-color="#ffa100"/><stop offset="0.6083" stop-color="#ffff00"/><stop offset="0.6194" stop-color="#deff00"/><stop offset="0.6569" stop-color="#7bff00"/><stop offset="0.6583" stop-color="#73ff00"/><stop offset="0.6639" stop-color="#2eff00"/><stop offset="0.6653" stop-color="#1eff13"/><stop offset="0.6681" stop-color="#00ff50"/><stop offset="0.6778" stop-color="#00ff7f"/><stop offset="0.7250" stop-color="#00ffff"/><stop offset="0.7694" stop-color="#00adff"/><stop offset="0.7972" stop-color="#0082ff"/><stop offset="0.8111" stop-color="#0668ff"/><stop offset="0.8264" stop-color="#1041ff"/><stop offset="0.8278" stop-color="#0000f0"/><stop offset="0.9222" stop-color="#0000e2"/><stop offset="0.9500" stop-color="#0000cb"/><stop offset="0.9778" stop-color="#0000a7"/><stop offset="0.9931" stop-color="#000070"/><stop offset="1.0000" stop-color="#000049"/></linearGradient><linearGradient id="s18" x1="0" y1="0" x2="0" y2="1"><stop offset="0.0000" stop-color="#000030"/><stop offset="0.0083" stop-color="#000051"/><stop offset="0.0194" stop-color="#00008a"/><stop offset="0.0278" stop-color="#00009e"/><stop offset="0.0833" stop-color="#0000bf"/><stop offset="0.1111" stop-color="#0000da"/><stop offset="0.1556" stop-color="#0000ea"/><stop offset="0.1847" stop-color="#0000ef"/><stop offset="0.1986" stop-color="#0a59ff"/><stop offset="0.2014" stop-color="#0763ff"/><stop offset="0.2139" stop-color="#0083ff"/><stop offset="0.2292" stop-color="#00a3ff"/><stop offset="0.2806" stop-color="#00ffff"/><stop offset="0.3194" stop-color="#00ff80"/><stop offset="0.3292" stop-color="#00ff53"/><stop offset="0.3306" stop-color="#09ff3d"/><stop offset="0.3333" stop-color="#24ff07"/><stop offset="0.3347" stop-color="#33ff00"/><stop offset="0.3403" stop-color="#71ff00"/><stop offset="0.3417" stop-color="#7aff00"/><stop offset="0.3639" stop-color="#b0ff00"/><stop offset="0.4028" stop-color="#ffff00"/><stop offset="0.4375" stop-color="#ffc100"/><stop offset="0.4639" stop-color="#ff9d00"/><stop offset="0.4750" stop-color="#ff9200"/><stop offset="0.4903" stop-color="#ff8b00"/><stop offset="0.5444" stop-color="#ff8b00"/><stop offset="0.5569" stop-color="#ff9000"/><stop offset="0.5694" stop-color="#ffa100"/><stop offset="0.6083" stop-color="#feff00"/><stop offset="0.6569" stop-color="#7bff00"/><stop offset="0.6583" stop-color="#73ff00"/><stop offset="0.6639" stop-color="#2eff00"/><stop offset="0.6653" stop-color="#1eff13"/><stop offset="0.6681" stop-color="#00ff50"/><stop offset="0.6778" stop-color="#00ff7f"/><stop offset="0.7250" stop-color="#00ffff"/><stop offset="0.7694" stop-color="#00adff"/><stop offset="0.7972" stop-color="#0082ff"/><stop offset="0.8111" stop-color="#0668ff"/><stop offset="0.8264" stop-color="#1041ff"/><stop offset="0.8278" stop-color="#0000f0"/><stop offset="0.9222" stop-color="#0000e2"/><stop offset="0.9500" stop-color="#0000cb"/><stop offset="0.9778" stop-color="#0000a7"/><stop offset="0.9931" stop-color="#000070"/><stop offset="1.0000" stop-color="#000049"/></linearGradient><linearGradient id="s19" x1="0" y1="0" x2="0" y2="1"><stop offset="0.0000" stop-color="#000030"/><stop offset="0.0083" stop-color="#000051"/><stop offset="0.0194" stop-color="#00008a"/><stop offset="0.0278" stop-color="#00009e"/><stop offset="0.0833" stop-color="#0000bf"/><stop offset="0.1111" stop-color="#0000da"/><stop offset="0.1556" stop-color="#0000ea"/><stop offset="0.1847" stop-color="#0000ef"/><stop offset="0.1986" stop-color="#0a59ff"/><stop offset="0.2014" stop-color="#0763ff"/><stop offset="0.2139" stop-color="#0083ff"/><stop offset="0.2292" stop-color="#00a3ff"/><stop offset="0.2806" stop-color="#00ffff"/><stop offset="0.3194" stop-color="#00ff80"/><stop offset="0.3292" stop-color="#00ff54"/><stop offset="0.3306" stop-color="#06ff44"/><stop offset="0.3333" stop-color="#21ff0e"/><stop offset="0.3347" stop-color="#2fff00"/><stop offset="0.3417" stop-color="#78ff00"/><stop offset="0.3653" stop-color="#b0ff00"/><stop offset="0.4056" stop-color="#fffe00"/><stop offset="0.4389" stop-color="#ffc100"/><stop offset="0.4611" stop-color="#ffa200"/><stop offset="0.4722" stop-color="#ff9700"/><stop offset="0.4875" stop-color="#ff9000"/><stop offset="0.5472" stop-color="#ff9000"/><stop offset="0.5583" stop-color="#ff9400"/><stop offset="0.5694" stop-color="#ffa200"/><stop offset="0.6083" stop-color="#feff00"/><stop offset="0.6569" stop-color="#7bff00"/><stop offset="0.6583" stop-color="#73ff00"/><stop offset="0.6639" stop-color="#2eff00"/><stop offset="0.6653" stop-color="#1eff13"/><stop offset="0.6681" stop-color="#00ff50"/><stop offset="0.6778" stop-color="#00ff7f"/><stop offset="0.7250" stop-color="#00ffff"/><stop offset="0.7694" stop-color="#00adff"/><stop offset="0.7972" stop-color="#0082ff"/><stop offset="0.8111" stop-color="#0668ff"/><stop offset="0.8264" stop-color="#1041ff"/><stop offset="0.8278" stop-color="#0000f0"/><stop offset="0.9222" stop-color="#0000e2"/><stop offset="0.9500" stop-color="#0000cb"/><stop offset="0.9778" stop-color="#0000a7"/><stop offset="0.9931" stop-color="#000070"/><stop offset="1.0000" stop-color="#000049"/></linearGradient><linearGradient id="s20" x1="0" y1="0" x2="0" y2="1"><stop offset="0.0000" stop-color="#000030"/><stop offset="0.0083" stop-color="#000051"/><stop offset="0.0194" stop-color="#00008a"/><stop offset="0.0278" stop-color="#00009e"/><stop offset="0.0833" stop-color="#0000bf"/><stop offset="0.1111" stop-color="#0000da"/><stop offset="0.1556" stop-color="#0000ea"/><stop offset="0.1847" stop-color="#0000ef"/><stop offset="0.1986" stop-color="#0a59ff"/><stop offset="0.2014" stop-color="#0763ff"/><stop offset="0.2139" stop-color="#0083ff"/><stop offset="0.2292" stop-color="#00a3ff"/><stop offset="0.2806" stop-color="#00ffff"/><stop offset="0.3194" stop-color="#00ff80"/><stop offset="0.3292" stop-color="#00ff55"/><stop offset="0.3306" stop-color="#03ff49"/><stop offset="0.3319" stop-color="#12ff2c"/><stop offset="0.3347" stop-color="#2aff00"/><stop offset="0.3417" stop-color="#73ff00"/><stop offset="0.3431" stop-color="#7aff00"/><stop offset="0.3667" stop-color="#b0ff00"/><stop offset="0.4083" stop-color="#fffe00"/><stop offset="0.4403" stop-color="#ffc200"/><stop offset="0.4569" stop-color="#ffaa00"/><stop offset="0.4708" stop-color="#ff9b00"/><stop offset="0.4847" stop-color="#ff9600"/><stop offset="0.5514" stop-color="#ff9600"/><stop offset="0.5625" stop-color="#ff9b00"/><stop offset="0.5722" stop-color="#ffa800"/><stop offset="0.6069" stop-color="#fffd00"/><stop offset="0.6569" stop-color="#7bff00"/><stop offset="0.6583" stop-color="#72ff00"/><stop offset="0.6639" stop-color="#2eff00"/><stop offset="0.6653" stop-color="#1eff13"/><stop offset="0.6681" stop-color="#00ff50"/><stop offset="0.6778" stop-color="#00ff7f"/><stop offset="0.7250" stop-color="#00ffff"/><stop offset="0.7694" stop-color="#00adff"/><stop offset="0.7972" stop-color="#0082ff"/><stop offset="0.8111" stop-color="#0668ff"/><stop offset="0.8264" stop-color="#1041ff"/><stop offset="0.8278" stop-color="#0000f0"/><stop offset="0.9222" stop-color="#0000e2"/><stop offset="0.9500" stop-color="#0000cb"/><stop offset="0.9778" stop-color="#0000a7"/><stop offset="0.9931" stop-color="#000070"/><stop offset="1.0000" stop-color="#000049"/></linearGradient><linearGradient id="s21" x1="0" y1="0" x2="0" y2="1"><stop offset="0.0000" stop-color="#000030"/><stop offset="0.0083" stop-color="#000051"/><stop offset="0.0194" stop-color="#00008a"/><stop offset="0.0278" stop-color="#00009e"/><stop offset="0.0833" stop-color="#0000bf"/><stop offset="0.1111" stop-color="#0000da"/><stop offset="0.1556" stop-color="#0000ea"/><stop offset="0.1847" stop-color="#0000ef"/><stop offset="0.1986" stop-color="#0a59ff"/><stop offset="0.2014" stop-color="#0763ff"/><stop offset="0.2139" stop-color="#0083ff"/><stop offset="0.2292" stop-color="#00a3ff"/><stop offset="0.2806" stop-color="#00ffff"/><stop offset="0.3194" stop-color="#00ff80"/><stop offset="0.3292" stop-color="#00ff54"/><stop offset="0.3306" stop-color="#04ff49"/><stop offset="0.3333" stop-color="#1eff14"/><stop offset="0.3347" stop-color="#2bff00"/><stop offset="0.3417" stop-color="#74ff00"/><stop offset="0.3431" stop-color="#7aff00"/><stop offset="0.3667" stop-color="#b0ff00"/><stop offset="0.4083" stop-color="#fffe00"/><stop offset="0.4403" stop-color="#ffc100"/><stop offset="0.4597" stop-color="#ffa600"/><stop offset="0.4736" stop-color="#ff9800"/><stop offset="0.4875" stop-color="#ff9400"/><stop offset="0.5500" stop-color="#ff9400"/><stop offset="0.5611" stop-color="#ff9900"/><stop offset="0.5708" stop-color="#ffa500"/><stop offset="0.6069" stop-color="#fffd00"/><stop offset="0.6569" stop-color="#7bff00"/><stop offset="0.6583" stop-color="#73ff00"/><stop offset="0.6639" stop-color="#2eff00"/><stop offset="0.6653" stop-color="#1eff13"/><stop offset="0.6681" stop-color="#00ff50"/><stop offset="0.6778" stop-color="#00ff7f"/><stop offset="0.7250" stop-color="#00ffff"/><stop offset="0.7694" stop-color="#00adff"/><stop offset="0.7972" stop-color="#0082ff"/><stop offset="0.8111" stop-color="#0668ff"/><stop offset="0.8264" stop-color="#1041ff"/><stop offset="0.8278" stop-color="#0000f0"/><stop offset="0.9222" stop-color="#0000e2"/><stop offset="0.9500" stop-color="#0000cb"/><stop offset="0.9778" stop-color="#0000a7"/><stop offset="0.9931" stop-color="#000070"/><stop offset="1.0000" stop-color="#000049"/></linearGradient><linearGradient id="s22" x1="0" y1="0" x2="0" y2="1"><stop offset="0.0000" stop-color="#000030"/><stop offset="0.0083" stop-color="#000051"/><stop offset="0.0194" stop-color="#00008a"/><stop offset="0.0278" stop-color="#00009e"/><stop offset="0.0833" stop-color="#0000bf"/><stop offset="0.1111" stop-color="#0000da"/><stop offset="0.1556" stop-color="#0000ea"/><stop offset="0.1847" stop-color="#0000ef"/><stop offset="0.1986" stop-color="#0a59ff"/><stop offset="0.2014" stop-color="#0763ff"/><stop offset="0.2139" stop-color="#0083ff"/><stop offset="0.2292" stop-color="#00a3ff"/><stop offset="0.2806" stop-color="#00ffff"/><stop offset="0.3194" stop-color="#00ff80"/><stop offset="0.3292" stop-color="#00ff54"/><stop offset="0.3306" stop-color="#05ff47"/><stop offset="0.3333" stop-color="#1fff12"/><stop offset="0.3347" stop-color="#2cff00"/><stop offset="0.3417" stop-color="#76ff00"/><stop offset="0.3431" stop-color="#7bff00"/><stop offset="0.3667" stop-color="#b1ff00"/><stop offset="0.3917" stop-color="#dfff00"/><stop offset="0.4069" stop-color="#ffff00"/><stop offset="0.4403" stop-color="#ffc100"/><stop offset="0.4625" stop-color="#ffa100"/><stop offset="0.4736" stop-color="#ff9600"/><stop offset="0.4875" stop-color="#ff9000"/><stop offset="0.5472" stop-color="#ff9000"/><stop offset="0.5583" stop-color="#ff9400"/><stop offset="0.5694" stop-color="#ffa200"/><stop offset="0.6083" stop-color="#feff00"/><stop offset="0.6569" stop-color="#7bff00"/><stop offset="0.6583" stop-color="#73ff00"/><stop offset="0.6639" stop-color="#2eff00"/><stop offset="0.6653" stop-color="#1eff13"/><stop offset="0.6681" stop-color="#00ff50"/><stop offset="0.6778" stop-color="#00ff7f"/><stop offset="0.7250" stop-color="#00ffff"/><stop offset="0.7694" stop-color="#00adff"/><stop offset="0.7972" stop-color="#0082ff"/><stop offset="0.8111" stop-color="#0668ff"/><stop offset="0.8264" stop-color="#1041ff"/><stop offset="0.8278" stop-color="#0000f0"/><stop offset="0.9222" stop-color="#0000e2"/><stop offset="0.9500" stop-color="#0000cb"/><stop offset="0.9778" stop-color="#0000a7"/><stop offset="0.9931" stop-color="#000070"/><stop offset="1.0000" stop-color="#000049"/></linearGradient><linearGradient id="s23" x1="0" y1="0" x2="0" y2="1"><stop offset="0.0000" stop-color="#000030"/><stop offset="0.0083" stop-color="#000051"/><stop offset="0.0194" stop-color="#00008a"/><stop offset="0.0278" stop-color="#00009e"/><stop offset="0.0833" stop-color="#0000bf"/><stop offset="0.1111" stop-color="#0000da"/><stop offset="0.1556" stop-color="#0000ea"/><stop offset="0.1847" stop-color="#0000ef"/><stop offset="0.1986" stop-color="#0a59ff"/><stop offset="0.2014" stop-color="#0763ff"/><stop offset="0.2139" stop-color="#0083ff"/><stop offset="0.2292" stop-color="#00a3ff"/><stop offset="0.2806" stop-color="#00ffff"/><stop offset="0.3194" stop-color="#00ff80"/><stop offset="0.3292" stop-color="#00ff54"/><stop offset="0.3306" stop-color="#05ff45"/><stop offset="0.3333" stop-color="#20ff10"/><stop offset="0.3347" stop-color="#2dff00"/><stop offset="0.3417" stop-color="#78ff00"/><stop offset="0.3653" stop-color="#afff00"/><stop offset="0.4069" stop-color="#fffd00"/><stop offset="0.4389" stop-color="#ffc200"/><stop offset="0.4639" stop-color="#ff9f00"/><stop offset="0.4750" stop-color="#ff9300"/><stop offset="0.4903" stop-color="#ff8c00"/><stop offset="0.5458" stop-color="#ff8c00"/><stop offset="0.5569" stop-color="#ff9100"/><stop offset="0.5694" stop-color="#ffa100"/><stop offset="0.6083" stop-color="#ffff00"/><stop offset="0.6194" stop-color="#deff00"/><stop offset="0.6569" stop-color="#7bff00"/><stop offset="0.6583" stop-color="#73ff00"/><stop offset="0.6639" stop-color="#2eff00"/><stop offset="0.6653" stop-color="#1eff13"/><stop offset="0.6681" stop-color="#00ff50"/><stop offset="0.6778" stop-color="#00ff7f"/><stop offset="0.7250" stop-color="#00ffff"/><stop offset="0.7694" stop-color="#00adff"/><stop offset="0.7972" stop-color="#0082ff"/><stop offset="0.8111" stop-color="#0668ff"/><stop offset="0.8264" stop-color="#1041ff"/><stop offset="0.8278" stop-color="#0000f0"/><stop offset="0.9222" stop-color="#0000e2"/><stop offset="0.9500" stop-color="#0000cb"/><stop offset="0.9778" stop-color="#0000a7"/><stop offset="0.9931" stop-color="#000070"/><stop offset="1.0000" stop-color="#000049"/></linearGradient><linearGradient id="s24" x1="0" y1="0" x2="0" y2="1"><stop offset="0.0000" stop-color="#000030"/><stop offset="0.0083" stop-color="#000051"/><stop offset="0.0194" stop-color="#00008a"/><stop offset="0.0278" stop-color="#00009e"/><stop offset="0.0833" stop-color="#0000bf"/><stop offset="0.1111" stop-color="#0000da"/><stop offset="0.1556" stop-color="#0000ea"/><stop offset="0.1847" stop-color="#0000ef"/><stop offset="0.1972" stop-color="#0a53fe"/><stop offset="0.2014" stop-color="#0764ff"/><stop offset="0.2139" stop-color="#0084ff"/><stop offset="0.2292" stop-color="#00a3ff"/><stop offset="0.2806" stop-color="#00ffff"/><stop offset="0.3194" stop-color="#00ff80"/><stop offset="0.3292" stop-color="#00ff54"/><stop offset="0.3306" stop-color="#06ff44"/><stop offset="0.3333" stop-color="#21ff0e"/><stop offset="0.3347" stop-color="#2fff00"/><stop offset="0.3417" stop-color="#78ff00"/><stop offset="0.3653" stop-color="#b0ff00"/><stop offset="0.4056" stop-color="#fffe00"/><stop offset="0.4389" stop-color="#ffc100"/><stop offset="0.4639" stop-color="#ff9e00"/><stop offset="0.4750" stop-color="#ff9300"/><stop offset="0.4903" stop-color="#ff8c00"/><stop offset="0.5458" stop-color="#ff8c00"/><stop offset="0.5583" stop-color="#ff9200"/><stop offset="0.5694" stop-color="#ffa100"/><stop offset="0.6083" stop-color="#ffff00"/><stop offset="0.6569" stop-color="#7bff00"/><stop offset="0.6583" stop-color="#74ff00"/><stop offset="0.6639" stop-color="#2eff00"/><stop offset="0.6653" stop-color="#1eff13"/><stop offset="0.6681" stop-color="#00ff50"/><stop offset="0.6778" stop-color="#00ff7f"/><stop offset="0.7250" stop-color="#00ffff"/><stop offset="0.7694" stop-color="#00adff"/><stop offset="0.7972" stop-color="#0082ff"/><stop offset="0.8111" stop-color="#0668ff"/><stop offset="0.8264" stop-color="#1041ff"/><stop offset="0.8278" stop-color="#0000f0"/><stop offset="0.9222" stop-color="#0000e2"/><stop offset="0.9500" stop-color="#0000cb"/><stop offset="0.9778" stop-color="#0000a7"/><stop offset="0.9931" stop-color="#000070"/><stop offset="1.0000" stop-color="#000049"/></linearGradient><linearGradient id="s25" x1="0" y1="0" x2="0" y2="1"><stop offset="0.0000" stop-color="#000030"/><stop offset="0.0083" stop-color="#000051"/><stop offset="0.0194" stop-color="#00008a"/><stop offset="0.0278" stop-color="#00009e"/><stop offset="0.0833" stop-color="#0000bf"/><stop offset="0.1111" stop-color="#0000da"/><stop offset="0.1556" stop-color="#0000ea"/><stop offset="0.1833" stop-color="#0000ef"/><stop offset="0.1847" stop-color="#0105f0"/><stop offset="0.1972" stop-color="#0a57ff"/><stop offset="0.2014" stop-color="#0765ff"/><stop offset="0.2125" stop-color="#0082ff"/><stop offset="0.2292" stop-color="#00a4ff"/><stop offset="0.2806" stop-color="#00ffff"/><stop offset="0.3194" stop-color="#00ff80"/><stop offset="0.3292" stop-color="#00ff53"/><stop offset="0.3306" stop-color="#07ff42"/><stop offset="0.3333" stop-color="#22ff0c"/><stop offset="0.3347" stop-color="#30ff00"/><stop offset="0.3417" stop-color="#79ff00"/><stop offset="0.3653" stop-color="#b1ff00"/><stop offset="0.4056" stop-color="#fffd00"/><stop offset="0.4389" stop-color="#ffc000"/><stop offset="0.4625" stop-color="#ffa000"/><stop offset="0.4736" stop-color="#ff9500"/><stop offset="0.4875" stop-color="#ff8f00"/><stop offset="0.5472" stop-color="#ff8f00"/><stop offset="0.5597" stop-color="#ff9500"/><stop offset="0.5708" stop-color="#ffa400"/><stop offset="0.6083" stop-color="#fffe00"/><stop offset="0.6569" stop-color="#7bff00"/><stop offset="0.6583" stop-color="#74ff00"/><stop offset="0.6639" stop-color="#2eff00"/><stop offset="0.6653" stop-color="#1fff13"/><stop offset="0.6681" stop-color="#00ff50"/><stop offset="0.6778" stop-color="#00ff7f"/><stop offset="0.7250" stop-color="#00ffff"/><stop offset="0.7694" stop-color="#00adff"/><stop offset="0.7972" stop-color="#0082ff"/><stop offset="0.8111" stop-color="#0668ff"/><stop offset="0.8264" stop-color="#1041ff"/><stop offset="0.8278" stop-color="#0000f0"/><stop offset="0.9222" stop-color="#0000e2"/><stop offset="0.9500" stop-color="#0000cb"/><stop offset="0.9778" stop-color="#0000a7"/><stop offset="0.9931" stop-color="#000070"/><stop offset="1.0000" stop-color="#000049"/></linearGradient><linearGradient id="s26" x1="0" y1="0" x2="0" y2="1"><stop offset="0.0000" stop-color="#000030"/><stop offset="0.0083" stop-color="#000051"/><stop offset="0.0194" stop-color="#00008a"/><stop offset="0.0278" stop-color="#00009e"/><stop offset="0.0833" stop-color="#0000bf"/><stop offset="0.1111" stop-color="#0000da"/><stop offset="0.1542" stop-color="#0000ea"/><stop offset="0.1833" stop-color="#0000ef"/><stop offset="0.1958" stop-color="#0a52fe"/><stop offset="0.2000" stop-color="#0763ff"/><stop offset="0.2125" stop-color="#0083ff"/><stop offset="0.2292" stop-color="#00a4ff"/><stop offset="0.2806" stop-color="#00ffff"/><stop offset="0.3194" stop-color="#00ff80"/><stop offset="0.3292" stop-color="#00ff53"/><stop offset="0.3306" stop-color="#08ff40"/><stop offset="0.3333" stop-color="#23ff0b"/><stop offset="0.3347" stop-color="#31ff00"/><stop offset="0.3403" stop-color="#6eff00"/><stop offset="0.3417" stop-color="#79ff00"/><stop offset="0.3639" stop-color="#aeff00"/><stop offset="0.4042" stop-color="#fffe00"/><stop offset="0.4375" stop-color="#ffc200"/><stop offset="0.4583" stop-color="#ffa500"/><stop offset="0.4736" stop-color="#ff9600"/><stop offset="0.4875" stop-color="#ff9200"/><stop offset="0.5500" stop-color="#ff9200"/><stop offset="0.5611" stop-color="#ff9700"/><stop offset="0.5708" stop-color="#ffa400"/><stop offset="0.6083" stop-color="#fffe00"/><stop offset="0.6569" stop-color="#7bff00"/><stop offset="0.6583" stop-color="#74ff00"/><stop offset="0.6639" stop-color="#2eff00"/><stop offset="0.6653" stop-color="#1fff13"/><stop offset="0.6681" stop-color="#00ff50"/><stop offset="0.6778" stop-color="#00ff7f"/><stop offset="0.7250" stop-color="#00ffff"/><stop offset="0.7694" stop-color="#00adff"/><stop offset="0.7972" stop-color="#0082ff"/><stop offset="0.8111" stop-color="#0668ff"/><stop offset="0.8264" stop-color="#1041ff"/><stop offset="0.8278" stop-color="#0000f0"/><stop offset="0.9222" stop-color="#0000e2"/><stop offset="0.9500" stop-color="#0000cb"/><stop offset="0.9778" stop-color="#0000a7"/><stop offset="0.9931" stop-color="#000070"/><stop offset="1.0000" stop-color="#000049"/></linearGradient><linearGradient id="s27" x1="0" y1="0" x2="0" y2="1"><stop offset="0.0000" stop-color="#000030"/><stop offset="0.0083" stop-color="#000051"/><stop offset="0.0194" stop-color="#00008a"/><stop offset="0.0278" stop-color="#00009e"/><stop offset="0.0833" stop-color="#0000bf"/><stop offset="0.1111" stop-color="#0000da"/><stop offset="0.1542" stop-color="#0000ea"/><stop offset="0.1819" stop-color="#0000ef"/><stop offset="0.1833" stop-color="#0105f0"/><stop offset="0.1958" stop-color="#0a56ff"/><stop offset="0.2000" stop-color="#0765ff"/><stop offset="0.2125" stop-color="#0083ff"/><stop offset="0.2292" stop-color="#00a5ff"/><stop offset="0.2806" stop-color="#00ffff"/><stop offset="0.3194" stop-color="#00ff80"/><stop offset="0.3292" stop-color="#00ff53"/><stop offset="0.3306" stop-color="#09ff3f"/><stop offset="0.3333" stop-color="#24ff09"/><stop offset="0.3347" stop-color="#32ff00"/><stop offset="0.3403" stop-color="#70ff00"/><stop offset="0.3417" stop-color="#7aff00"/><stop offset="0.3639" stop-color="#afff00"/><stop offset="0.4042" stop-color="#fffd00"/><stop offset="0.4375" stop-color="#ffc100"/><stop offset="0.4583" stop-color="#ffa500"/><stop offset="0.4694" stop-color="#ff9b00"/><stop offset="0.4833" stop-color="#ff9500"/><stop offset="0.5500" stop-color="#ff9500"/><stop offset="0.5611" stop-color="#ff9900"/><stop offset="0.5708" stop-color="#ffa400"/><stop offset="0.6083" stop-color="#fffe00"/><stop offset="0.6569" stop-color="#7bff00"/><stop offset="0.6583" stop-color="#74ff00"/><stop offset="0.6639" stop-color="#2eff00"/><stop offset="0.6653" stop-color="#1fff13"/><stop offset="0.6681" stop-color="#00ff50"/><stop offset="0.6778" stop-color="#00ff7f"/><stop offset="0.7250" stop-color="#00ffff"/><stop offset="0.7694" stop-color="#00adff"/><stop offset="0.7972" stop-color="#0082ff"/><stop offset="0.8111" stop-color="#0668ff"/><stop offset="0.8264" stop-color="#1041ff"/><stop offset="0.8278" stop-color="#0000f0"/><stop offset="0.9222" stop-color="#0000e2"/><stop offset="0.9500" stop-color="#0000cb"/><stop offset="0.9778" stop-color="#0000a7"/><stop offset="0.9931" stop-color="#000070"/><stop offset="1.0000" stop-color="#000049"/></linearGradient><linearGradient id="s28" x1="0" y1="0" x2="0" y2="1"><stop offset="0.0000" stop-color="#000030"/><stop offset="0.0083" stop-color="#000051"/><stop offset="0.0194" stop-color="#00008a"/><stop offset="0.0278" stop-color="#00009e"/><stop offset="0.0833" stop-color="#0000bf"/><stop offset="0.1111" stop-color="#0000da"/><stop offset="0.1542" stop-color="#0000ea"/><stop offset="0.1819" stop-color="#0000ef"/><stop offset="0.1944" stop-color="#0a51fe"/><stop offset="0.2000" stop-color="#0766ff"/><stop offset="0.2111" stop-color="#0081ff"/><stop offset="0.2292" stop-color="#00a5ff"/><stop offset="0.2806" stop-color="#00ffff"/><stop offset="0.3194" stop-color="#00ff80"/><stop offset="0.3292" stop-color="#00ff52"/><stop offset="0.3306" stop-color="#0aff3d"/><stop offset="0.3333" stop-color="#25ff07"/><stop offset="0.3347" stop-color="#34ff00"/><stop offset="0.3403" stop-color="#72ff00"/><stop offset="0.3417" stop-color="#7aff00"/><stop offset="0.3639" stop-color="#b0ff00"/><stop offset="0.4028" stop-color="#fffe00"/><stop offset="0.4361" stop-color="#ffc300"/><stop offset="0.4528" stop-color="#ffac00"/><stop offset="0.4667" stop-color="#ff9e00"/><stop offset="0.4819" stop-color="#ff9900"/><stop offset="0.5542" stop-color="#ff9900"/><stop offset="0.5639" stop-color="#ff9d00"/><stop offset="0.5736" stop-color="#ffaa00"/><stop offset="0.6083" stop-color="#fffd00"/><stop offset="0.6569" stop-color="#7bff00"/><stop offset="0.6583" stop-color="#75ff00"/><stop offset="0.6639" stop-color="#2eff00"/><stop offset="0.6653" stop-color="#1fff13"/><stop offset="0.6681" stop-color="#00ff50"/><stop offset="0.6778" stop-color="#00ff7f"/><stop offset="0.7250" stop-color="#00ffff"/><stop offset="0.7694" stop-color="#00adff"/><stop offset="0.7972" stop-color="#0082ff"/><stop offset="0.8111" stop-color="#0668ff"/><stop offset="0.8264" stop-color="#1041ff"/><stop offset="0.8278" stop-color="#0000f0"/><stop offset="0.9222" stop-color="#0000e2"/><stop offset="0.9500" stop-color="#0000cb"/><stop offset="0.9778" stop-color="#0000a7"/><stop offset="0.9931" stop-color="#000070"/><stop offset="1.0000" stop-color="#000049"/></linearGradient><linearGradient id="s29" x1="0" y1="0" x2="0" y2="1"><stop offset="0.0000" stop-color="#000030"/><stop offset="0.0083" stop-color="#000051"/><stop offset="0.0194" stop-color="#00008a"/><stop offset="0.0278" stop-color="#00009e"/><stop offset="0.0833" stop-color="#0000bf"/><stop offset="0.1111" stop-color="#0000da"/><stop offset="0.1542" stop-color="#0000ea"/><stop offset="0.1806" stop-color="#0000ef"/><stop offset="0.1819" stop-color="#0003f0"/><stop offset="0.1944" stop-color="#0a53fe"/><stop offset="0.1986" stop-color="#0763ff"/><stop offset="0.2111" stop-color="#0082ff"/><stop offset="0.2278" stop-color="#00a3ff"/><stop offset="0.2806" stop-color="#00ffff"/><stop offset="0.3194" stop-color="#00ff80"/><stop offset="0.3292" stop-color="#00ff52"/><stop offset="0.3333" stop-color="#26ff04"/><stop offset="0.3347" stop-color="#35ff00"/><stop offset="0.3403" stop-color="#74ff00"/><stop offset="0.3417" stop-color="#7bff00"/><stop offset="0.3639" stop-color="#b1ff00"/><stop offset="0.3875" stop-color="#e0ff00"/><stop offset="0.4014" stop-color="#ffff00"/><stop offset="0.4361" stop-color="#ffc100"/><stop offset="0.4514" stop-color="#ffad00"/><stop offset="0.4639" stop-color="#ffa200"/><stop offset="0.4778" stop-color="#ff9e00"/><stop offset="0.5556" stop-color="#ff9e00"/><stop offset="0.5653" stop-color="#ffa100"/><stop offset="0.5736" stop-color="#ffaa00"/><stop offset="0.6097" stop-color="#feff00"/><stop offset="0.6194" stop-color="#e1ff00"/><stop offset="0.6569" stop-color="#7bff00"/><stop offset="0.6583" stop-color="#76ff00"/><stop offset="0.6639" stop-color="#2fff00"/><stop offset="0.6653" stop-color="#1fff12"/><stop offset="0.6681" stop-color="#00ff50"/><stop offset="0.6778" stop-color="#00ff7f"/><stop offset="0.7250" stop-color="#00ffff"/><stop offset="0.7694" stop-color="#00adff"/><stop offset="0.7972" stop-color="#0082ff"/><stop offset="0.8111" stop-color="#0668ff"/><stop offset="0.8264" stop-color="#1041ff"/><stop offset="0.8278" stop-color="#0000f0"/><stop offset="0.9222" stop-color="#0000e2"/><stop offset="0.9500" stop-color="#0000cb"/><stop offset="0.9778" stop-color="#0000a7"/><stop offset="0.9931" stop-color="#000070"/><stop offset="1.0000" stop-color="#000049"/></linearGradient><linearGradient id="s30" x1="0" y1="0" x2="0" y2="1"><stop offset="0.0000" stop-color="#000030"/><stop offset="0.0083" stop-color="#000051"/><stop offset="0.0194" stop-color="#00008a"/><stop offset="0.0278" stop-color="#00009e"/><stop offset="0.0833" stop-color="#0000bf"/><stop offset="0.1111" stop-color="#0000da"/><stop offset="0.1542" stop-color="#0000ea"/><stop offset="0.1806" stop-color="#0001ef"/><stop offset="0.1944" stop-color="#0954fe"/><stop offset="0.1986" stop-color="#0764ff"/><stop offset="0.2111" stop-color="#0082ff"/><stop offset="0.2278" stop-color="#00a3ff"/><stop offset="0.2806" stop-color="#00ffff"/><stop offset="0.3194" stop-color="#00ff80"/><stop offset="0.3292" stop-color="#00ff52"/><stop offset="0.3333" stop-color="#27ff01"/><stop offset="0.3403" stop-color="#77ff00"/><stop offset="0.3625" stop-color="#b0ff00"/><stop offset="0.4014" stop-color="#fffd00"/><stop offset="0.4361" stop-color="#ffc000"/><stop offset="0.4500" stop-color="#ffaf00"/><stop offset="0.4611" stop-color="#ffa600"/><stop offset="0.4736" stop-color="#ffa200"/><stop offset="0.5583" stop-color="#ffa200"/><stop offset="0.5681" stop-color="#ffa500"/><stop offset="0.5750" stop-color="#ffad00"/><stop offset="0.6097" stop-color="#ffff00"/><stop offset="0.6583" stop-color="#76ff00"/><stop offset="0.6639" stop-color="#2fff00"/><stop offset="0.6653" stop-color="#1fff12"/><stop offset="0.6681" stop-color="#00ff50"/><stop offset="0.6778" stop-color="#00ff7f"/><stop offset="0.7250" stop-color="#00ffff"/><stop offset="0.7694" stop-color="#00adff"/><stop offset="0.7972" stop-color="#0082ff"/><stop offset="0.8111" stop-color="#0668ff"/><stop offset="0.8264" stop-color="#1041ff"/><stop offset="0.8278" stop-color="#0000f0"/><stop offset="0.9222" stop-color="#0000e2"/><stop offset="0.9500" stop-color="#0000cb"/><stop offset="0.9778" stop-color="#0000a7"/><stop offset="0.9931" stop-color="#000070"/><stop offset="1.0000" stop-color="#000049"/></linearGradient><linearGradient id="s31" x1="0" y1="0" x2="0" y2="1"><stop offset="0.0000" stop-color="#000030"/><stop offset="0.0083" stop-color="#000051"/><stop offset="0.0194" stop-color="#00008a"/><stop offset="0.0278" stop-color="#00009e"/><stop offset="0.0833" stop-color="#0000bf"/><stop offset="0.1111" stop-color="#0000da"/><stop offset="0.1542" stop-color="#0000ea"/><stop offset="0.1792" stop-color="#0000ef"/><stop offset="0.1944" stop-color="#0955fe"/><stop offset="0.1986" stop-color="#0765ff"/><stop offset="0.2111" stop-color="#0083ff"/><stop offset="0.2278" stop-color="#00a3ff"/><stop offset="0.2806" stop-color="#00ffff"/><stop offset="0.3194" stop-color="#00ff80"/><stop offset="0.3292" stop-color="#00ff52"/><stop offset="0.3333" stop-color="#28ff01"/><stop offset="0.3403" stop-color="#78ff00"/><stop offset="0.3625" stop-color="#b0ff00"/><stop offset="0.3861" stop-color="#dfff00"/><stop offset="0.4000" stop-color="#ffff00"/><stop offset="0.4347" stop-color="#ffc200"/><stop offset="0.4500" stop-color="#ffae00"/><stop offset="0.4653" stop-color="#ffa000"/><stop offset="0.4806" stop-color="#ff9b00"/><stop offset="0.5556" stop-color="#ff9b00"/><stop offset="0.5653" stop-color="#ff9f00"/><stop offset="0.5750" stop-color="#ffac00"/><stop offset="0.6097" stop-color="#fffe00"/><stop offset="0.6583" stop-color="#76ff00"/><stop offset="0.6639" stop-color="#2fff00"/><stop offset="0.6653" stop-color="#1fff12"/><stop offset="0.6681" stop-color="#00ff50"/><stop offset="0.6778" stop-color="#00ff7f"/><stop offset="0.7250" stop-color="#00ffff"/><stop offset="0.7694" stop-color="#00adff"/><stop offset="0.7972" stop-color="#0082ff"/><stop offset="0.8111" stop-color="#0668ff"/><stop offset="0.8264" stop-color="#1041ff"/><stop offset="0.8278" stop-color="#0000f0"/><stop offset="0.9222" stop-color="#0000e2"/><stop offset="0.9500" stop-color="#0000cb"/><stop offset="0.9778" stop-color="#0000a7"/><stop offset="0.9931" stop-color="#000070"/><stop offset="1.0000" stop-color="#000049"/></linearGradient><linearGradient id="s32" x1="0" y1="0" x2="0" y2="1"><stop offset="0.0000" stop-color="#000030"/><stop offset="0.0083" stop-color="#000051"/><stop offset="0.0194" stop-color="#00008a"/><stop offset="0.0278" stop-color="#00009e"/><stop offset="0.0833" stop-color="#0000bf"/><stop offset="0.1111" stop-color="#0000da"/><stop offset="0.1542" stop-color="#0000ea"/><stop offset="0.1778" stop-color="#0000ef"/><stop offset="0.1792" stop-color="#0003ef"/><stop offset="0.1958" stop-color="#095dff"/><stop offset="0.1986" stop-color="#0765ff"/><stop offset="0.2111" stop-color="#0083ff"/><stop offset="0.2278" stop-color="#00a3ff"/><stop offset="0.2806" stop-color="#00ffff"/><stop offset="0.3194" stop-color="#00ff80"/><stop offset="0.3292" stop-color="#00ff52"/><stop offset="0.3333" stop-color="#28ff01"/><stop offset="0.3403" stop-color="#78ff00"/><stop offset="0.3625" stop-color="#b0ff00"/><stop offset="0.3861" stop-color="#dfff00"/><stop offset="0.4000" stop-color="#ffff00"/><stop offset="0.4347" stop-color="#ffc200"/><stop offset="0.4569" stop-color="#ffa500"/><stop offset="0.4722" stop-color="#ff9700"/><stop offset="0.4875" stop-color="#ff9200"/><stop offset="0.5514" stop-color="#ff9200"/><stop offset="0.5625" stop-color="#ff9800"/><stop offset="0.5722" stop-color="#ffa500"/><stop offset="0.6097" stop-color="#fffe00"/><stop offset="0.6583" stop-color="#76ff00"/><stop offset="0.6639" stop-color="#2fff00"/><stop offset="0.6653" stop-color="#1fff12"/><stop offset="0.6681" stop-color="#00ff50"/><stop offset="0.6778" stop-color="#00ff7f"/><stop offset="0.7250" stop-color="#00ffff"/><stop offset="0.7694" stop-color="#00adff"/><stop offset="0.7972" stop-color="#0082ff"/><stop offset="0.8111" stop-color="#0668ff"/><stop offset="0.8264" stop-color="#1041ff"/><stop offset="0.8278" stop-color="#0000f0"/><stop offset="0.9222" stop-color="#0000e2"/><stop offset="0.9500" stop-color="#0000cb"/><stop offset="0.9778" stop-color="#0000a7"/><stop offset="0.9931" stop-color="#000070"/><stop offset="1.0000" stop-color="#000049"/></linearGradient><linearGradient id="s33" x1="0" y1="0" x2="0" y2="1"><stop offset="0.0000" stop-color="#000030"/><stop offset="0.0083" stop-color="#000051"/><stop offset="0.0194" stop-color="#00008a"/><stop offset="0.0278" stop-color="#00009e"/><stop offset="0.0833" stop-color="#0000bf"/><stop offset="0.1111" stop-color="#0000da"/><stop offset="0.1542" stop-color="#0000ea"/><stop offset="0.1778" stop-color="#0000ef"/><stop offset="0.1958" stop-color="#085cfe"/><stop offset="0.1986" stop-color="#0765ff"/><stop offset="0.2111" stop-color="#0083ff"/><stop offset="0.2278" stop-color="#00a3ff"/><stop offset="0.2806" stop-color="#00ffff"/><stop offset="0.3194" stop-color="#00ff80"/><stop offset="0.3292" stop-color="#00ff51"/><stop offset="0.3333" stop-color="#28ff00"/><stop offset="0.3403" stop-color="#78ff00"/><stop offset="0.3625" stop-color="#b0ff00"/><stop offset="0.4000" stop-color="#fffe00"/><stop offset="0.4347" stop-color="#ffc200"/><stop offset="0.4736" stop-color="#ff9200"/><stop offset="0.4903" stop-color="#ff8a00"/><stop offset="0.5444" stop-color="#ff8a00"/><stop offset="0.5569" stop-color="#ff8f00"/><stop offset="0.5708" stop-color="#ffa200"/><stop offset="0.6097" stop-color="#feff00"/><stop offset="0.6194" stop-color="#e0ff00"/><stop offset="0.6569" stop-color="#7bff00"/><stop offset="0.6583" stop-color="#75ff00"/><stop offset="0.6639" stop-color="#2fff00"/><stop offset="0.6653" stop-color="#1fff13"/><stop offset="0.6681" stop-color="#00ff50"/><stop offset="0.6778" stop-color="#00ff7f"/><stop offset="0.7250" stop-color="#00ffff"/><stop offset="0.7694" stop-color="#00adff"/><stop offset="0.7972" stop-color="#0082ff"/><stop offset="0.8111" stop-color="#0668ff"/><stop offset="0.8264" stop-color="#1041ff"/><stop offset="0.8278" stop-color="#0000f0"/><stop offset="0.9222" stop-color="#0000e2"/><stop offset="0.9500" stop-color="#0000cb"/><stop offset="0.9778" stop-color="#0000a7"/><stop offset="0.9931" stop-color="#000070"/><stop offset="1.0000" stop-color="#000049"/></linearGradient><linearGradient id="s34" x1="0" y1="0" x2="0" y2="1"><stop offset="0.0000" stop-color="#000030"/><stop offset="0.0083" stop-color="#000051"/><stop offset="0.0194" stop-color="#00008a"/><stop offset="0.0278" stop-color="#00009e"/><stop offset="0.0833" stop-color="#0000bf"/><stop offset="0.1111" stop-color="#0000da"/><stop offset="0.1542" stop-color="#0000ea"/><stop offset="0.1764" stop-color="#0000ee"/><stop offset="0.1778" stop-color="#0002ef"/><stop offset="0.1972" stop-color="#0862ff"/><stop offset="0.1986" stop-color="#0765ff"/><stop offset="0.2111" stop-color="#0083ff"/><stop offset="0.2278" stop-color="#00a3ff"/><stop offset="0.2806" stop-color="#00ffff"/><stop offset="0.3194" stop-color="#00ff80"/><stop offset="0.3292" stop-color="#00ff51"/><stop offset="0.3319" stop-color="#1dff15"/><stop offset="0.3333" stop-color="#2cff00"/><stop offset="0.3389" stop-color="#6eff00"/><stop offset="0.3403" stop-color="#79ff00"/><stop offset="0.3611" stop-color="#b0ff00"/><stop offset="0.3986" stop-color="#fffd00"/><stop offset="0.4333" stop-color="#ffc200"/><stop offset="0.4750" stop-color="#ff8e00"/><stop offset="0.4931" stop-color="#ff8500"/><stop offset="0.5403" stop-color="#ff8500"/><stop offset="0.5542" stop-color="#ff8c00"/><stop offset="0.5681" stop-color="#ffa200"/><stop offset="0.6056" stop-color="#ffff00"/><stop offset="0.6167" stop-color="#e0ff00"/><stop offset="0.6569" stop-color="#7aff00"/><stop offset="0.6583" stop-color="#6fff00"/><stop offset="0.6639" stop-color="#2cff00"/><stop offset="0.6653" stop-color="#1eff14"/><stop offset="0.6681" stop-color="#00ff50"/><stop offset="0.6778" stop-color="#00ff7f"/><stop offset="0.7250" stop-color="#00ffff"/><stop offset="0.7694" stop-color="#00adff"/><stop offset="0.7972" stop-color="#0082ff"/><stop offset="0.8111" stop-color="#0668ff"/><stop offset="0.8264" stop-color="#1041ff"/><stop offset="0.8278" stop-color="#0000f0"/><stop offset="0.9222" stop-color="#0000e2"/><stop offset="0.9500" stop-color="#0000cb"/><stop offset="0.9778" stop-color="#0000a7"/><stop offset="0.9931" stop-color="#000070"/><stop offset="1.0000" stop-color="#000049"/></linearGradient><linearGradient id="s35" x1="0" y1="0" x2="0" y2="1"><stop offset="0.0000" stop-color="#000030"/><stop offset="0.0083" stop-color="#000051"/><stop offset="0.0194" stop-color="#00008a"/><stop offset="0.0278" stop-color="#00009e"/><stop offset="0.0833" stop-color="#0000bf"/><stop offset="0.1111" stop-color="#0000da"/><stop offset="0.1542" stop-color="#0000ea"/><stop offset="0.1764" stop-color="#0000ee"/><stop offset="0.1778" stop-color="#0003ef"/><stop offset="0.1972" stop-color="#0862ff"/><stop offset="0.1986" stop-color="#0765ff"/><stop offset="0.2111" stop-color="#0083ff"/><stop offset="0.2278" stop-color="#00a3ff"/><stop offset="0.2806" stop-color="#00ffff"/><stop offset="0.3194" stop-color="#00ff80"/><stop offset="0.3292" stop-color="#01ff4e"/><stop offset="0.3306" stop-color="#12ff2c"/><stop offset="0.3319" stop-color="#20ff10"/><stop offset="0.3333" stop-color="#30ff00"/><stop offset="0.3389" stop-color="#73ff00"/><stop offset="0.3403" stop-color="#7bff00"/><stop offset="0.3597" stop-color="#afff00"/><stop offset="0.3958" stop-color="#fffe00"/><stop offset="0.4319" stop-color="#ffc200"/><stop offset="0.4708" stop-color="#ff9100"/><stop offset="0.4875" stop-color="#ff8300"/><stop offset="0.5042" stop-color="#ff8000"/><stop offset="0.5389" stop-color="#ff8100"/><stop offset="0.5514" stop-color="#ff8900"/><stop offset="0.5667" stop-color="#ffa400"/><stop offset="0.6014" stop-color="#fffe00"/><stop offset="0.6569" stop-color="#78ff00"/><stop offset="0.6639" stop-color="#2aff00"/><stop offset="0.6667" stop-color="#10ff30"/><stop offset="0.6681" stop-color="#00ff50"/><stop offset="0.6778" stop-color="#00ff7f"/><stop offset="0.7250" stop-color="#00ffff"/><stop offset="0.7694" stop-color="#00adff"/><stop offset="0.7972" stop-color="#0082ff"/><stop offset="0.8111" stop-color="#0668ff"/><stop offset="0.8264" stop-color="#1041ff"/><stop offset="0.8278" stop-color="#0000f0"/><stop offset="0.9222" stop-color="#0000e2"/><stop offset="0.9500" stop-color="#0000cb"/><stop offset="0.9778" stop-color="#0000a7"/><stop offset="0.9931" stop-color="#000070"/><stop offset="1.0000" stop-color="#000049"/></linearGradient><linearGradient id="s36" x1="0" y1="0" x2="0" y2="1"><stop offset="0.0000" stop-color="#000030"/><stop offset="0.0083" stop-color="#000051"/><stop offset="0.0194" stop-color="#00008a"/><stop offset="0.0278" stop-color="#00009e"/><stop offset="0.0833" stop-color="#0000bf"/><stop offset="0.1111" stop-color="#0000da"/><stop offset="0.1542" stop-color="#0000ea"/><stop offset="0.1764" stop-color="#0000ee"/><stop offset="0.1778" stop-color="#0002ef"/><stop offset="0.1986" stop-color="#0765ff"/><stop offset="0.2111" stop-color="#0083ff"/><stop offset="0.2278" stop-color="#00a3ff"/><stop offset="0.2806" stop-color="#00ffff"/><stop offset="0.3194" stop-color="#00ff80"/><stop offset="0.3278" stop-color="#00ff55"/><stop offset="0.3292" stop-color="#05ff46"/><stop offset="0.3319" stop-color="#25ff07"/><stop offset="0.3333" stop-color="#36ff00"/><stop offset="0.3375" stop-color="#6bff00"/><stop offset="0.3389" stop-color="#79ff00"/><stop offset="0.3583" stop-color="#afff00"/><stop offset="0.3931" stop-color="#fffe00"/><stop offset="0.4306" stop-color="#ffc100"/><stop offset="0.4736" stop-color="#ff8c00"/><stop offset="0.4917" stop-color="#ff7e00"/><stop offset="0.5097" stop-color="#ff7c00"/><stop offset="0.5375" stop-color="#ff7c00"/><stop offset="0.5500" stop-color="#ff8700"/><stop offset="0.5653" stop-color="#ffa300"/><stop offset="0.6000" stop-color="#fffd00"/><stop offset="0.6569" stop-color="#77ff00"/><stop offset="0.6639" stop-color="#2aff00"/><stop offset="0.6667" stop-color="#10ff30"/><stop offset="0.6681" stop-color="#00ff50"/><stop offset="0.6778" stop-color="#00ff7f"/><stop offset="0.7250" stop-color="#00ffff"/><stop offset="0.7694" stop-color="#00adff"/><stop offset="0.7972" stop-color="#0082ff"/><stop offset="0.8111" stop-color="#0668ff"/><stop offset="0.8264" stop-color="#1041ff"/><stop offset="0.8278" stop-color="#0000f0"/><stop offset="0.9222" stop-color="#0000e2"/><stop offset="0.9500" stop-color="#0000cb"/><stop offset="0.9778" stop-color="#0000a7"/><stop offset="0.9931" stop-color="#000070"/><stop offset="1.0000" stop-color="#000049"/></linearGradient><linearGradient id="s37" x1="0" y1="0" x2="0" y2="1"><stop offset="0.0000" stop-color="#000030"/><stop offset="0.0083" stop-color="#000051"/><stop offset="0.0194" stop-color="#00008a"/><stop offset="0.0278" stop-color="#00009e"/><stop offset="0.0833" stop-color="#0000bf"/><stop offset="0.1111" stop-color="#0000da"/><stop offset="0.1542" stop-color="#0000ea"/><stop offset="0.1778" stop-color="#0000ef"/><stop offset="0.1986" stop-color="#0764ff"/><stop offset="0.2111" stop-color="#0082ff"/><stop offset="0.2278" stop-color="#00a3ff"/><stop offset="0.2806" stop-color="#00ffff"/><stop offset="0.3194" stop-color="#00ff80"/><stop offset="0.3222" stop-color="#00ff72"/><stop offset="0.3278" stop-color="#00ff53"/><stop offset="0.3292" stop-color="#0bff3b"/><stop offset="0.3306" stop-color="#1bff19"/><stop offset="0.3319" stop-color="#2cff00"/><stop offset="0.3375" stop-color="#77ff00"/><stop offset="0.3569" stop-color="#b1ff00"/><stop offset="0.3889" stop-color="#fffe00"/><stop offset="0.4278" stop-color="#ffc100"/><stop offset="0.4764" stop-color="#ff8800"/><stop offset="0.4931" stop-color="#ff7b00"/><stop offset="0.5153" stop-color="#ff7600"/><stop offset="0.5361" stop-color="#ff7800"/><stop offset="0.5500" stop-color="#ff8500"/><stop offset="0.5667" stop-color="#ffa400"/><stop offset="0.6014" stop-color="#fffd00"/><stop offset="0.6569" stop-color="#78ff00"/><stop offset="0.6639" stop-color="#2bff00"/><stop offset="0.6667" stop-color="#10ff30"/><stop offset="0.6681" stop-color="#00ff50"/><stop offset="0.6778" stop-color="#00ff7f"/><stop offset="0.7250" stop-color="#00ffff"/><stop offset="0.7694" stop-color="#00adff"/><stop offset="0.7972" stop-color="#0082ff"/><stop offset="0.8111" stop-color="#0668ff"/><stop offset="0.8264" stop-color="#1041ff"/><stop offset="0.8278" stop-color="#0000f0"/><stop offset="0.9222" stop-color="#0000e2"/><stop offset="0.9500" stop-color="#0000cb"/><stop offset="0.9778" stop-color="#0000a7"/><stop offset="0.9931" stop-color="#000070"/><stop offset="1.0000" stop-color="#000049"/></linearGradient><linearGradient id="s38" x1="0" y1="0" x2="0" y2="1"><stop offset="0.0000" stop-color="#000030"/><stop offset="0.0083" stop-color="#000051"/><stop offset="0.0194" stop-color="#00008a"/><stop offset="0.0278" stop-color="#00009e"/><stop offset="0.0833" stop-color="#0000bf"/><stop offset="0.1111" stop-color="#0000da"/><stop offset="0.1542" stop-color="#0000ea"/><stop offset="0.1778" stop-color="#0000ef"/><stop offset="0.1986" stop-color="#0763ff"/><stop offset="0.2111" stop-color="#0082ff"/><stop offset="0.2278" stop-color="#00a3ff"/><stop offset="0.2806" stop-color="#00ffff"/><stop offset="0.3194" stop-color="#00ff80"/><stop offset="0.3222" stop-color="#00ff72"/><stop offset="0.3278" stop-color="#00ff51"/><stop offset="0.3306" stop-color="#22ff0d"/><stop offset="0.3319" stop-color="#35ff00"/><stop offset="0.3361" stop-color="#71ff00"/><stop offset="0.3375" stop-color="#7bff00"/><stop offset="0.3542" stop-color="#b0ff00"/><stop offset="0.3847" stop-color="#fffe00"/><stop offset="0.4250" stop-color="#ffc100"/><stop offset="0.4764" stop-color="#ff8600"/><stop offset="0.4944" stop-color="#ff7700"/><stop offset="0.5153" stop-color="#ff6d00"/><stop offset="0.5361" stop-color="#ff6f00"/><stop offset="0.5500" stop-color="#ff8300"/><stop offset="0.5681" stop-color="#ffa500"/><stop offset="0.6028" stop-color="#fffd00"/><stop offset="0.6569" stop-color="#79ff00"/><stop offset="0.6639" stop-color="#2bff00"/><stop offset="0.6653" stop-color="#1dff15"/><stop offset="0.6667" stop-color="#10ff30"/><stop offset="0.6681" stop-color="#00ff50"/><stop offset="0.6778" stop-color="#00ff7f"/><stop offset="0.7250" stop-color="#00ffff"/><stop offset="0.7694" stop-color="#00adff"/><stop offset="0.7972" stop-color="#0082ff"/><stop offset="0.8111" stop-color="#0668ff"/><stop offset="0.8264" stop-color="#1041ff"/><stop offset="0.8278" stop-color="#0000f0"/><stop offset="0.9222" stop-color="#0000e2"/><stop offset="0.9500" stop-color="#0000cb"/><stop offset="0.9778" stop-color="#0000a7"/><stop offset="0.9931" stop-color="#000070"/><stop offset="1.0000" stop-color="#000049"/></linearGradient><linearGradient id="s39" x1="0" y1="0" x2="0" y2="1"><stop offset="0.0000" stop-color="#000030"/><stop offset="0.0083" stop-color="#000051"/><stop offset="0.0194" stop-color="#00008a"/><stop offset="0.0278" stop-color="#00009e"/><stop offset="0.0833" stop-color="#0000bf"/><stop offset="0.1111" stop-color="#0000da"/><stop offset="0.1542" stop-color="#0000ea"/><stop offset="0.1778" stop-color="#0000ee"/><stop offset="0.1792" stop-color="#0002ef"/><stop offset="0.1986" stop-color="#0862ff"/><stop offset="0.2000" stop-color="#0766ff"/><stop offset="0.2111" stop-color="#0081ff"/><stop offset="0.2292" stop-color="#00a5ff"/><stop offset="0.2806" stop-color="#00ffff"/><stop offset="0.3194" stop-color="#00ff80"/><stop offset="0.3222" stop-color="#00ff72"/><stop offset="0.3264" stop-color="#00ff58"/><stop offset="0.3278" stop-color="#03ff4b"/><stop offset="0.3292" stop-color="#17ff22"/><stop offset="0.3306" stop-color="#29ff00"/><stop offset="0.3347" stop-color="#6aff00"/><stop offset="0.3361" stop-color="#7aff00"/><stop offset="0.3528" stop-color="#b2ff00"/><stop offset="0.3806" stop-color="#fffe00"/><stop offset="0.4222" stop-color="#ffc100"/><stop offset="0.4944" stop-color="#ff7200"/><stop offset="0.5167" stop-color="#ff6400"/><stop offset="0.5375" stop-color="#ff6900"/><stop offset="0.5681" stop-color="#ffa300"/><stop offset="0.6042" stop-color="#fffd00"/><stop offset="0.6569" stop-color="#79ff00"/><stop offset="0.6583" stop-color="#6eff00"/><stop offset="0.6639" stop-color="#2cff00"/><stop offset="0.6653" stop-color="#1eff15"/><stop offset="0.6681" stop-color="#00ff50"/><stop offset="0.6778" stop-color="#00ff7f"/><stop offset="0.7250" stop-color="#00ffff"/><stop offset="0.7694" stop-color="#00adff"/><stop offset="0.7972" stop-color="#0082ff"/><stop offset="0.8111" stop-color="#0668ff"/><stop offset="0.8264" stop-color="#1041ff"/><stop offset="0.8278" stop-color="#0000f0"/><stop offset="0.9222" stop-color="#0000e2"/><stop offset="0.9500" stop-color="#0000cb"/><stop offset="0.9778" stop-color="#0000a7"/><stop offset="0.9931" stop-color="#000070"/><stop offset="1.0000" stop-color="#000049"/></linearGradient><linearGradient id="s40" x1="0" y1="0" x2="0" y2="1"><stop offset="0.0000" stop-color="#000030"/><stop offset="0.0083" stop-color="#000051"/><stop offset="0.0194" stop-color="#00008a"/><stop offset="0.0278" stop-color="#00009e"/><stop offset="0.0833" stop-color="#0000bf"/><stop offset="0.1111" stop-color="#0000da"/><stop offset="0.1542" stop-color="#0000ea"/><stop offset="0.1792" stop-color="#0000ef"/><stop offset="0.2000" stop-color="#0764ff"/><stop offset="0.2125" stop-color="#0083ff"/><stop offset="0.2292" stop-color="#00a5ff"/><stop offset="0.2806" stop-color="#00ffff"/><stop offset="0.3194" stop-color="#00ff80"/><stop offset="0.3222" stop-color="#00ff72"/><stop offset="0.3264" stop-color="#00ff57"/><stop offset="0.3278" stop-color="#05ff46"/><stop offset="0.3292" stop-color="#1aff1d"/><stop offset="0.3306" stop-color="#2dff00"/><stop offset="0.3347" stop-color="#6fff00"/><stop offset="0.3361" stop-color="#7bff00"/><stop offset="0.3514" stop-color="#b0ff00"/><stop offset="0.3792" stop-color="#fffe00"/><stop offset="0.4208" stop-color="#ffc200"/><stop offset="0.4889" stop-color="#ff7800"/><stop offset="0.4944" stop-color="#ff6e00"/><stop offset="0.5167" stop-color="#ff5e00"/><stop offset="0.5375" stop-color="#ff6300"/><stop offset="0.5458" stop-color="#ff7800"/><stop offset="0.5708" stop-color="#ffa500"/><stop offset="0.6069" stop-color="#fffd00"/><stop offset="0.6569" stop-color="#7aff00"/><stop offset="0.6583" stop-color="#72ff00"/><stop offset="0.6639" stop-color="#2eff00"/><stop offset="0.6653" stop-color="#1eff13"/><stop offset="0.6681" stop-color="#00ff50"/><stop offset="0.6778" stop-color="#00ff7f"/><stop offset="0.7250" stop-color="#00ffff"/><stop offset="0.7694" stop-color="#00adff"/><stop offset="0.7972" stop-color="#0082ff"/><stop offset="0.8111" stop-color="#0668ff"/><stop offset="0.8264" stop-color="#1041ff"/><stop offset="0.8278" stop-color="#0000f0"/><stop offset="0.9222" stop-color="#0000e2"/><stop offset="0.9500" stop-color="#0000cb"/><stop offset="0.9778" stop-color="#0000a7"/><stop offset="0.9931" stop-color="#000070"/><stop offset="1.0000" stop-color="#000049"/></linearGradient><linearGradient id="s41" x1="0" y1="0" x2="0" y2="1"><stop offset="0.0000" stop-color="#000030"/><stop offset="0.0083" stop-color="#000051"/><stop offset="0.0194" stop-color="#00008a"/><stop offset="0.0278" stop-color="#00009e"/><stop offset="0.0833" stop-color="#0000bf"/><stop offset="0.1111" stop-color="#0000da"/><stop offset="0.1556" stop-color="#0000ea"/><stop offset="0.1806" stop-color="#0000ef"/><stop offset="0.2014" stop-color="#0765ff"/><stop offset="0.2125" stop-color="#0081ff"/><stop offset="0.2306" stop-color="#00a6ff"/><stop offset="0.2806" stop-color="#00ffff"/><stop offset="0.3194" stop-color="#00ff80"/><stop offset="0.3222" stop-color="#00ff72"/><stop offset="0.3264" stop-color="#00ff57"/><stop offset="0.3278" stop-color="#04ff49"/><stop offset="0.3292" stop-color="#18ff20"/><stop offset="0.3306" stop-color="#2bff00"/><stop offset="0.3347" stop-color="#6cff00"/><stop offset="0.3361" stop-color="#7aff00"/><stop offset="0.3514" stop-color="#afff00"/><stop offset="0.3694" stop-color="#e0ff00"/><stop offset="0.3792" stop-color="#ffff00"/><stop offset="0.3806" stop-color="#fffd00"/><stop offset="0.4222" stop-color="#ffc100"/><stop offset="0.4875" stop-color="#ff7900"/><stop offset="0.4944" stop-color="#ff6d00"/><stop offset="0.5167" stop-color="#ff5b00"/><stop offset="0.5389" stop-color="#ff6100"/><stop offset="0.5486" stop-color="#ff7900"/><stop offset="0.5736" stop-color="#ffa500"/><stop offset="0.6111" stop-color="#fffd00"/><stop offset="0.6583" stop-color="#78ff00"/><stop offset="0.6639" stop-color="#30ff00"/><stop offset="0.6653" stop-color="#1fff11"/><stop offset="0.6681" stop-color="#00ff50"/><stop offset="0.6778" stop-color="#00ff7f"/><stop offset="0.7250" stop-color="#00ffff"/><stop offset="0.7694" stop-color="#00adff"/><stop offset="0.7972" stop-color="#0082ff"/><stop offset="0.8111" stop-color="#0668ff"/><stop offset="0.8264" stop-color="#1041ff"/><stop offset="0.8278" stop-color="#0000f0"/><stop offset="0.9222" stop-color="#0000e2"/><stop offset="0.9500" stop-color="#0000cb"/><stop offset="0.9778" stop-color="#0000a7"/><stop offset="0.9931" stop-color="#000070"/><stop offset="1.0000" stop-color="#000049"/></linearGradient><linearGradient id="s42" x1="0" y1="0" x2="0" y2="1"><stop offset="0.0000" stop-color="#000030"/><stop offset="0.0083" stop-color="#000051"/><stop offset="0.0194" stop-color="#00008a"/><stop offset="0.0278" stop-color="#00009e"/><stop offset="0.0833" stop-color="#0000bf"/><stop offset="0.1111" stop-color="#0000da"/><stop offset="0.1556" stop-color="#0000ea"/><stop offset="0.1819" stop-color="#0000ef"/><stop offset="0.2028" stop-color="#0765ff"/><stop offset="0.2139" stop-color="#0082ff"/><stop offset="0.2306" stop-color="#00a5ff"/><stop offset="0.2806" stop-color="#00ffff"/><stop offset="0.3194" stop-color="#00ff80"/><stop offset="0.3222" stop-color="#00ff72"/><stop offset="0.3278" stop-color="#02ff4c"/><stop offset="0.3292" stop-color="#16ff23"/><stop offset="0.3306" stop-color="#28ff00"/><stop offset="0.3347" stop-color="#69ff00"/><stop offset="0.3361" stop-color="#79ff00"/><stop offset="0.3528" stop-color="#b1ff00"/><stop offset="0.3806" stop-color="#fffe00"/><stop offset="0.4222" stop-color="#ffc200"/><stop offset="0.4875" stop-color="#ff7900"/><stop offset="0.4944" stop-color="#ff6b00"/><stop offset="0.5181" stop-color="#ff5800"/><stop offset="0.5403" stop-color="#ff5e00"/><stop offset="0.5500" stop-color="#ff7900"/><stop offset="0.5764" stop-color="#ffa500"/><stop offset="0.6153" stop-color="#fffd00"/><stop offset="0.6583" stop-color="#7aff00"/><stop offset="0.6597" stop-color="#6fff00"/><stop offset="0.6639" stop-color="#33ff00"/><stop offset="0.6653" stop-color="#21ff0f"/><stop offset="0.6681" stop-color="#00ff50"/><stop offset="0.6778" stop-color="#00ff7f"/><stop offset="0.7250" stop-color="#00ffff"/><stop offset="0.7694" stop-color="#00adff"/><stop offset="0.7972" stop-color="#0082ff"/><stop offset="0.8111" stop-color="#0668ff"/><stop offset="0.8264" stop-color="#1041ff"/><stop offset="0.8278" stop-color="#0000f0"/><stop offset="0.9222" stop-color="#0000e2"/><stop offset="0.9500" stop-color="#0000cb"/><stop offset="0.9778" stop-color="#0000a7"/><stop offset="0.9931" stop-color="#000070"/><stop offset="1.0000" stop-color="#000049"/></linearGradient><linearGradient id="s43" x1="0" y1="0" x2="0" y2="1"><stop offset="0.0000" stop-color="#000030"/><stop offset="0.0083" stop-color="#000051"/><stop offset="0.0194" stop-color="#00008a"/><stop offset="0.0278" stop-color="#00009e"/><stop offset="0.0833" stop-color="#0000bf"/><stop offset="0.1111" stop-color="#0000da"/><stop offset="0.1556" stop-color="#0000ea"/><stop offset="0.1819" stop-color="#0000ef"/><stop offset="0.2056" stop-color="#066aff"/><stop offset="0.2139" stop-color="#0080ff"/><stop offset="0.2306" stop-color="#00a4ff"/><stop offset="0.2806" stop-color="#00ffff"/><stop offset="0.3194" stop-color="#00ff80"/><stop offset="0.3222" stop-color="#00ff72"/><stop offset="0.3278" stop-color="#01ff4f"/><stop offset="0.3292" stop-color="#15ff26"/><stop offset="0.3306" stop-color="#27ff03"/><stop offset="0.3361" stop-color="#79ff00"/><stop offset="0.3528" stop-color="#b0ff00"/><stop offset="0.3819" stop-color="#fffe00"/><stop offset="0.4236" stop-color="#ffc100"/><stop offset="0.4875" stop-color="#ff7900"/><stop offset="0.4944" stop-color="#ff6a00"/><stop offset="0.5181" stop-color="#ff5500"/><stop offset="0.5417" stop-color="#ff5c00"/><stop offset="0.5514" stop-color="#ff7800"/><stop offset="0.5778" stop-color="#ffa200"/><stop offset="0.6194" stop-color="#fffd00"/><stop offset="0.6597" stop-color="#78ff00"/><stop offset="0.6639" stop-color="#37ff00"/><stop offset="0.6653" stop-color="#22ff0c"/><stop offset="0.6681" stop-color="#00ff50"/><stop offset="0.6778" stop-color="#00ff7f"/><stop offset="0.7250" stop-color="#00ffff"/><stop offset="0.7694" stop-color="#00adff"/><stop offset="0.7972" stop-color="#0082ff"/><stop offset="0.8111" stop-color="#0668ff"/><stop offset="0.8264" stop-color="#1041ff"/><stop offset="0.8278" stop-color="#0000f0"/><stop offset="0.9222" stop-color="#0000e2"/><stop offset="0.9500" stop-color="#0000cb"/><stop offset="0.9778" stop-color="#0000a7"/><stop offset="0.9931" stop-color="#000070"/><stop offset="1.0000" stop-color="#000049"/></linearGradient><linearGradient id="s44" x1="0" y1="0" x2="0" y2="1"><stop offset="0.0000" stop-color="#000030"/><stop offset="0.0083" stop-color="#000051"/><stop offset="0.0194" stop-color="#00008a"/><stop offset="0.0278" stop-color="#00009e"/><stop offset="0.0833" stop-color="#0000bf"/><stop offset="0.1111" stop-color="#0000da"/><stop offset="0.1556" stop-color="#0000ea"/><stop offset="0.1819" stop-color="#0001ee"/><stop offset="0.2083" stop-color="#046dff"/><stop offset="0.2153" stop-color="#0081ff"/><stop offset="0.2319" stop-color="#00a6ff"/><stop offset="0.2806" stop-color="#00ffff"/><stop offset="0.3194" stop-color="#00ff80"/><stop offset="0.3222" stop-color="#00ff72"/><stop offset="0.3278" stop-color="#00ff51"/><stop offset="0.3306" stop-color="#24ff09"/><stop offset="0.3319" stop-color="#37ff00"/><stop offset="0.3361" stop-color="#75ff00"/><stop offset="0.3375" stop-color="#7cff00"/><stop offset="0.3542" stop-color="#b1ff00"/><stop offset="0.3833" stop-color="#fffe00"/><stop offset="0.4236" stop-color="#ffc200"/><stop offset="0.4875" stop-color="#ff7900"/><stop offset="0.4944" stop-color="#ff6a00"/><stop offset="0.5181" stop-color="#ff5300"/><stop offset="0.5431" stop-color="#ff5c00"/><stop offset="0.5528" stop-color="#ff7900"/><stop offset="0.5792" stop-color="#ffa300"/><stop offset="0.6222" stop-color="#feff00"/><stop offset="0.6597" stop-color="#79ff00"/><stop offset="0.6639" stop-color="#38ff00"/><stop offset="0.6653" stop-color="#23ff0a"/><stop offset="0.6667" stop-color="#10ff30"/><stop offset="0.6681" stop-color="#00ff50"/><stop offset="0.6778" stop-color="#00ff7f"/><stop offset="0.7250" stop-color="#00ffff"/><stop offset="0.7694" stop-color="#00adff"/><stop offset="0.7972" stop-color="#0082ff"/><stop offset="0.8111" stop-color="#0668ff"/><stop offset="0.8264" stop-color="#1041ff"/><stop offset="0.8278" stop-color="#0000f0"/><stop offset="0.9222" stop-color="#0000e2"/><stop offset="0.9500" stop-color="#0000cb"/><stop offset="0.9778" stop-color="#0000a7"/><stop offset="0.9931" stop-color="#000070"/><stop offset="1.0000" stop-color="#000049"/></linearGradient><linearGradient id="s45" x1="0" y1="0" x2="0" y2="1"><stop offset="0.0000" stop-color="#000030"/><stop offset="0.0083" stop-color="#000051"/><stop offset="0.0194" stop-color="#00008a"/><stop offset="0.0278" stop-color="#00009e"/><stop offset="0.0833" stop-color="#0000bf"/><stop offset="0.1111" stop-color="#0000da"/><stop offset="0.1556" stop-color="#0000ea"/><stop offset="0.1819" stop-color="#0001ee"/><stop offset="0.2125" stop-color="#0375ff"/><stop offset="0.2167" stop-color="#0081ff"/><stop offset="0.2319" stop-color="#00a5ff"/><stop offset="0.2806" stop-color="#00ffff"/><stop offset="0.3194" stop-color="#00ff80"/><stop offset="0.3222" stop-color="#00ff72"/><stop offset="0.3278" stop-color="#00ff52"/><stop offset="0.3306" stop-color="#1fff11"/><stop offset="0.3319" stop-color="#31ff00"/><stop offset="0.3361" stop-color="#6dff00"/><stop offset="0.3375" stop-color="#7aff00"/><stop offset="0.3556" stop-color="#b1ff00"/><stop offset="0.3861" stop-color="#fffe00"/><stop offset="0.4264" stop-color="#ffc100"/><stop offset="0.4875" stop-color="#ff7900"/><stop offset="0.4944" stop-color="#ff6a00"/><stop offset="0.5181" stop-color="#ff5300"/><stop offset="0.5431" stop-color="#ff5d00"/><stop offset="0.5528" stop-color="#ff7900"/><stop offset="0.5792" stop-color="#ffa400"/><stop offset="0.6208" stop-color="#fffe00"/><stop offset="0.6597" stop-color="#79ff00"/><stop offset="0.6639" stop-color="#38ff00"/><stop offset="0.6653" stop-color="#23ff0b"/><stop offset="0.6681" stop-color="#00ff50"/><stop offset="0.6778" stop-color="#00ff7f"/><stop offset="0.7250" stop-color="#00ffff"/><stop offset="0.7694" stop-color="#00adff"/><stop offset="0.7972" stop-color="#0082ff"/><stop offset="0.8111" stop-color="#0668ff"/><stop offset="0.8264" stop-color="#1041ff"/><stop offset="0.8278" stop-color="#0000f0"/><stop offset="0.9222" stop-color="#0000e2"/><stop offset="0.9500" stop-color="#0000cb"/><stop offset="0.9778" stop-color="#0000a7"/><stop offset="0.9931" stop-color="#000070"/><stop offset="1.0000" stop-color="#000049"/></linearGradient><linearGradient id="s46" x1="0" y1="0" x2="0" y2="1"><stop offset="0.0000" stop-color="#000030"/><stop offset="0.0083" stop-color="#000051"/><stop offset="0.0194" stop-color="#00008a"/><stop offset="0.0278" stop-color="#00009e"/><stop offset="0.0833" stop-color="#0000bf"/><stop offset="0.1111" stop-color="#0000da"/><stop offset="0.1569" stop-color="#0000ea"/><stop offset="0.1819" stop-color="#0000ee"/><stop offset="0.2181" stop-color="#0083ff"/><stop offset="0.2319" stop-color="#00a4ff"/><stop offset="0.2500" stop-color="#00c8ff"/><stop offset="0.2806" stop-color="#00ffff"/><stop offset="0.3194" stop-color="#00ff80"/><stop offset="0.3222" stop-color="#00ff72"/><stop offset="0.3278" stop-color="#00ff53"/><stop offset="0.3292" stop-color="#0bff3a"/><stop offset="0.3306" stop-color="#1cff19"/><stop offset="0.3319" stop-color="#2cff00"/><stop offset="0.3375" stop-color="#78ff00"/><stop offset="0.3569" stop-color="#b2ff00"/><stop offset="0.3889" stop-color="#fffd00"/><stop offset="0.4278" stop-color="#ffc100"/><stop offset="0.4889" stop-color="#ff7800"/><stop offset="0.4944" stop-color="#ff6a00"/><stop offset="0.5181" stop-color="#ff5300"/><stop offset="0.5417" stop-color="#ff5b00"/><stop offset="0.5514" stop-color="#ff7700"/><stop offset="0.5778" stop-color="#ffa200"/><stop offset="0.6208" stop-color="#feff00"/><stop offset="0.6597" stop-color="#78ff00"/><stop offset="0.6639" stop-color="#37ff00"/><stop offset="0.6653" stop-color="#22ff0b"/><stop offset="0.6681" stop-color="#00ff50"/><stop offset="0.6778" stop-color="#00ff7f"/><stop offset="0.7250" stop-color="#00ffff"/><stop offset="0.7694" stop-color="#00adff"/><stop offset="0.7972" stop-color="#0082ff"/><stop offset="0.8111" stop-color="#0668ff"/><stop offset="0.8264" stop-color="#1041ff"/><stop offset="0.8278" stop-color="#0000f0"/><stop offset="0.9222" stop-color="#0000e2"/><stop offset="0.9500" stop-color="#0000cb"/><stop offset="0.9778" stop-color="#0000a7"/><stop offset="0.9931" stop-color="#000070"/><stop offset="1.0000" stop-color="#000049"/></linearGradient><linearGradient id="s47" x1="0" y1="0" x2="0" y2="1"><stop offset="0.0000" stop-color="#000030"/><stop offset="0.0083" stop-color="#000051"/><stop offset="0.0194" stop-color="#00008a"/><stop offset="0.0278" stop-color="#00009e"/><stop offset="0.0833" stop-color="#0000bf"/><stop offset="0.1111" stop-color="#0000da"/><stop offset="0.1569" stop-color="#0000ea"/><stop offset="0.1819" stop-color="#0000ee"/><stop offset="0.1833" stop-color="#0002ee"/><stop offset="0.2181" stop-color="#0081ff"/><stop offset="0.2333" stop-color="#00a6ff"/><stop offset="0.2500" stop-color="#00c8ff"/><stop offset="0.2806" stop-color="#00ffff"/><stop offset="0.3194" stop-color="#00ff80"/><stop offset="0.3222" stop-color="#00ff72"/><stop offset="0.3278" stop-color="#00ff54"/><stop offset="0.3292" stop-color="#08ff41"/><stop offset="0.3319" stop-color="#27ff01"/><stop offset="0.3375" stop-color="#70ff00"/><stop offset="0.3389" stop-color="#7aff00"/><stop offset="0.3583" stop-color="#b2ff00"/><stop offset="0.3792" stop-color="#e1ff00"/><stop offset="0.3903" stop-color="#ffff00"/><stop offset="0.3917" stop-color="#fffd00"/><stop offset="0.4292" stop-color="#ffc100"/><stop offset="0.4889" stop-color="#ff7800"/><stop offset="0.4958" stop-color="#ff6900"/><stop offset="0.5181" stop-color="#ff5300"/><stop offset="0.5417" stop-color="#ff5b00"/><stop offset="0.5514" stop-color="#ff7800"/><stop offset="0.5778" stop-color="#ffa300"/><stop offset="0.6194" stop-color="#fffe00"/><stop offset="0.6597" stop-color="#77ff00"/><stop offset="0.6639" stop-color="#36ff00"/><stop offset="0.6653" stop-color="#22ff0c"/><stop offset="0.6681" stop-color="#00ff50"/><stop offset="0.6778" stop-color="#00ff7f"/><stop offset="0.7250" stop-color="#00ffff"/><stop offset="0.7694" stop-color="#00adff"/><stop offset="0.7972" stop-color="#0082ff"/><stop offset="0.8111" stop-color="#0668ff"/><stop offset="0.8264" stop-color="#1041ff"/><stop offset="0.8278" stop-color="#0000f0"/><stop offset="0.9222" stop-color="#0000e2"/><stop offset="0.9500" stop-color="#0000cb"/><stop offset="0.9778" stop-color="#0000a7"/><stop offset="0.9931" stop-color="#000070"/><stop offset="1.0000" stop-color="#000049"/></linearGradient><linearGradient id="l0" x1="0" y1="0" x2="0" y2="1"><stop offset="0.0000" stop-color="#066bff"/><stop offset="0.0185" stop-color="#0095ff"/><stop offset="0.0370" stop-color="#00d1ff"/><stop offset="0.0486" stop-color="#00e8ff"/><stop offset="0.0671" stop-color="#00fffe"/><stop offset="0.0718" stop-color="#00fffa"/><stop offset="0.0741" stop-color="#00eaff"/><stop offset="0.0833" stop-color="#00fffd"/><stop offset="0.1111" stop-color="#00ffc1"/><stop offset="0.1481" stop-color="#00ff81"/><stop offset="0.1667" stop-color="#00ff50"/><stop offset="0.1736" stop-color="#28ff00"/><stop offset="0.1852" stop-color="#78ff00"/><stop offset="0.2199" stop-color="#afff00"/><stop offset="0.2824" stop-color="#ffff00"/><stop offset="0.2963" stop-color="#ffed00"/><stop offset="0.3426" stop-color="#ffc200"/><stop offset="0.3889" stop-color="#ff9d00"/><stop offset="0.4560" stop-color="#ff7800"/><stop offset="0.4815" stop-color="#ff5500"/><stop offset="0.5278" stop-color="#ff5500"/><stop offset="0.5532" stop-color="#ff7800"/><stop offset="0.6204" stop-color="#ffa300"/><stop offset="0.6667" stop-color="#ffc800"/><stop offset="0.7130" stop-color="#fff300"/><stop offset="0.7222" stop-color="#ffff00"/><stop offset="0.7824" stop-color="#b0ff00"/><stop offset="0.8056" stop-color="#86ff00"/><stop offset="0.8102" stop-color="#79ff00"/><stop offset="0.8125" stop-color="#62ff00"/><stop offset="0.8171" stop-color="#28ff00"/><stop offset="0.8194" stop-color="#10ff30"/><stop offset="0.8218" stop-color="#00ff53"/><stop offset="0.8333" stop-color="#00ff82"/><stop offset="0.8519" stop-color="#00ffae"/><stop offset="0.8912" stop-color="#00fffd"/><stop offset="0.8981" stop-color="#00f1ff"/><stop offset="0.9120" stop-color="#00e5ff"/><stop offset="0.9259" stop-color="#00d1ff"/><stop offset="0.9537" stop-color="#0097ff"/><stop offset="0.9769" stop-color="#0082ff"/><stop offset="1.0000" stop-color="#0668ff"/></linearGradient><linearGradient id="l1" x1="0" y1="0" x2="0" y2="1"><stop offset="0.0000" stop-color="#066aff"/><stop offset="0.0093" stop-color="#0081ff"/><stop offset="0.0370" stop-color="#00baff"/><stop offset="0.0556" stop-color="#00d5ff"/><stop offset="0.0694" stop-color="#00fffe"/><stop offset="0.0880" stop-color="#00ffd8"/><stop offset="0.1065" stop-color="#00ffc0"/><stop offset="0.1088" stop-color="#00ffbe"/><stop offset="0.1111" stop-color="#00ffd4"/><stop offset="0.1574" stop-color="#00ff80"/><stop offset="0.1736" stop-color="#00ff51"/><stop offset="0.1782" stop-color="#1eff14"/><stop offset="0.1806" stop-color="#30ff00"/><stop offset="0.1875" stop-color="#6cff00"/><stop offset="0.1898" stop-color="#7aff00"/><stop offset="0.2176" stop-color="#afff00"/><stop offset="0.2731" stop-color="#ffff00"/><stop offset="0.2963" stop-color="#ffe000"/><stop offset="0.3426" stop-color="#ffb500"/><stop offset="0.3889" stop-color="#ff9700"/><stop offset="0.4722" stop-color="#ff7800"/><stop offset="0.4815" stop-color="#ff7100"/><stop offset="0.5278" stop-color="#ff7b00"/><stop offset="0.5741" stop-color="#ff9100"/><stop offset="0.6204" stop-color="#ff9700"/><stop offset="0.6667" stop-color="#ffa900"/><stop offset="0.7130" stop-color="#ffc800"/><stop offset="0.7593" stop-color="#fff300"/><stop offset="0.7662" stop-color="#ffff00"/><stop offset="0.8056" stop-color="#c0ff00"/><stop offset="0.8125" stop-color="#b0ff00"/><stop offset="0.8310" stop-color="#78ff00"/><stop offset="0.8356" stop-color="#38ff00"/><stop offset="0.8380" stop-color="#1bff1b"/><stop offset="0.8403" stop-color="#00ff50"/><stop offset="0.8519" stop-color="#00ff83"/><stop offset="0.8981" stop-color="#00fff3"/><stop offset="0.9074" stop-color="#00fffd"/><stop offset="0.9259" stop-color="#00dfff"/><stop offset="0.9537" stop-color="#0097ff"/><stop offset="0.9769" stop-color="#0082ff"/><stop offset="1.0000" stop-color="#0668ff"/></linearGradient><linearGradient id="l2" x1="0" y1="0" x2="0" y2="1"><stop offset="0.0000" stop-color="#056fff"/><stop offset="0.0093" stop-color="#0085ff"/><stop offset="0.0347" stop-color="#00b7ff"/><stop offset="0.0556" stop-color="#00d5ff"/><stop offset="0.0694" stop-color="#00fffe"/><stop offset="0.0880" stop-color="#00ffd8"/><stop offset="0.1065" stop-color="#00ffc0"/><stop offset="0.1088" stop-color="#00ffbe"/><stop offset="0.1111" stop-color="#00ffd4"/><stop offset="0.1574" stop-color="#00ff80"/><stop offset="0.1736" stop-color="#00ff51"/><stop offset="0.1782" stop-color="#1eff14"/><stop offset="0.1806" stop-color="#30ff00"/><stop offset="0.1875" stop-color="#6cff00"/><stop offset="0.1898" stop-color="#7aff00"/><stop offset="0.2176" stop-color="#afff00"/><stop offset="0.2731" stop-color="#ffff00"/><stop offset="0.2963" stop-color="#ffe000"/><stop offset="0.3426" stop-color="#ffb500"/><stop offset="0.3889" stop-color="#ff9700"/><stop offset="0.4722" stop-color="#ff7800"/><stop offset="0.4815" stop-color="#ff7100"/><stop offset="0.5278" stop-color="#ff7b00"/><stop offset="0.5741" stop-color="#ff9100"/><stop offset="0.6204" stop-color="#ff9700"/><stop offset="0.6667" stop-color="#ffa900"/><stop offset="0.7130" stop-color="#ffc800"/><stop offset="0.7593" stop-color="#fff300"/><stop offset="0.7662" stop-color="#ffff00"/><stop offset="0.8056" stop-color="#c0ff00"/><stop offset="0.8125" stop-color="#b0ff00"/><stop offset="0.8310" stop-color="#78ff00"/><stop offset="0.8356" stop-color="#38ff00"/><stop offset="0.8380" stop-color="#1bff1b"/><stop offset="0.8403" stop-color="#00ff50"/><stop offset="0.8519" stop-color="#00ff83"/><stop offset="0.8981" stop-color="#00fff3"/><stop offset="0.9074" stop-color="#00fffd"/><stop offset="0.9259" stop-color="#00dfff"/><stop offset="0.9537" stop-color="#0097ff"/><stop offset="0.9769" stop-color="#0082ff"/><stop offset="1.0000" stop-color="#0668ff"/></linearGradient><linearGradient id="l3" x1="0" y1="0" x2="0" y2="1"><stop offset="0.0000" stop-color="#0374ff"/><stop offset="0.0347" stop-color="#00b9ff"/><stop offset="0.0556" stop-color="#00d6ff"/><stop offset="0.0694" stop-color="#00fffe"/><stop offset="0.0880" stop-color="#00ffd8"/><stop offset="0.1065" stop-color="#00ffc0"/><stop offset="0.1088" stop-color="#00ffbe"/><stop offset="0.1111" stop-color="#00ffd4"/><stop offset="0.1574" stop-color="#00ff80"/><stop offset="0.1736" stop-color="#00ff51"/><stop offset="0.1782" stop-color="#1eff14"/><stop offset="0.1806" stop-color="#30ff00"/><stop offset="0.1875" stop-color="#6cff00"/><stop offset="0.1898" stop-color="#7aff00"/><stop offset="0.2176" stop-color="#afff00"/><stop offset="0.2731" stop-color="#ffff00"/><stop offset="0.2963" stop-color="#ffe000"/><stop offset="0.3426" stop-color="#ffb500"/><stop offset="0.3889" stop-color="#ff9700"/><stop offset="0.4722" stop-color="#ff7800"/><stop offset="0.4815" stop-color="#ff7100"/><stop offset="0.5278" stop-color="#ff7b00"/><stop offset="0.5741" stop-color="#ff9100"/><stop offset="0.6204" stop-color="#ff9700"/><stop offset="0.6667" stop-color="#ffa900"/><stop offset="0.7130" stop-color="#ffc800"/><stop offset="0.7593" stop-color="#fff300"/><stop offset="0.7662" stop-color="#ffff00"/><stop offset="0.8056" stop-color="#c0ff00"/><stop offset="0.8125" stop-color="#b0ff00"/><stop offset="0.8310" stop-color="#78ff00"/><stop offset="0.8356" stop-color="#38ff00"/><stop offset="0.8380" stop-color="#1bff1b"/><stop offset="0.8403" stop-color="#00ff50"/><stop offset="0.8519" stop-color="#00ff83"/><stop offset="0.8981" stop-color="#00fff3"/><stop offset="0.9074" stop-color="#00fffd"/><stop offset="0.9259" stop-color="#00dfff"/><stop offset="0.9537" stop-color="#0097ff"/><stop offset="0.9769" stop-color="#0082ff"/><stop offset="1.0000" stop-color="#0668ff"/></linearGradient><linearGradient id="l4" x1="0" y1="0" x2="0" y2="1"><stop offset="0.0000" stop-color="#0278ff"/><stop offset="0.0324" stop-color="#00b7ff"/><stop offset="0.0556" stop-color="#00d6ff"/><stop offset="0.0694" stop-color="#00fffe"/><stop offset="0.0880" stop-color="#00ffd8"/><stop offset="0.1065" stop-color="#00ffc0"/><stop offset="0.1088" stop-color="#00ffbe"/><stop offset="0.1111" stop-color="#00ffd4"/><stop offset="0.1574" stop-color="#00ff80"/><stop offset="0.1736" stop-color="#00ff51"/><stop offset="0.1782" stop-color="#1eff14"/><stop offset="0.1806" stop-color="#30ff00"/><stop offset="0.1875" stop-color="#6cff00"/><stop offset="0.1898" stop-color="#7aff00"/><stop offset="0.2176" stop-color="#afff00"/><stop offset="0.2731" stop-color="#ffff00"/><stop offset="0.2963" stop-color="#ffe000"/><stop offset="0.3426" stop-color="#ffb500"/><stop offset="0.3889" stop-color="#ff9700"/><stop offset="0.4722" stop-color="#ff7800"/><stop offset="0.4815" stop-color="#ff7100"/><stop offset="0.5278" stop-color="#ff7b00"/><stop offset="0.5741" stop-color="#ff9100"/><stop offset="0.6204" stop-color="#ff9700"/><stop offset="0.6667" stop-color="#ffa900"/><stop offset="0.7130" stop-color="#ffc800"/><stop offset="0.7593" stop-color="#fff300"/><stop offset="0.7662" stop-color="#ffff00"/><stop offset="0.8056" stop-color="#c0ff00"/><stop offset="0.8125" stop-color="#b0ff00"/><stop offset="0.8310" stop-color="#78ff00"/><stop offset="0.8356" stop-color="#38ff00"/><stop offset="0.8380" stop-color="#1bff1b"/><stop offset="0.8403" stop-color="#00ff50"/><stop offset="0.8519" stop-color="#00ff83"/><stop offset="0.8981" stop-color="#00fff3"/><stop offset="0.9074" stop-color="#00fffd"/><stop offset="0.9259" stop-color="#00dfff"/><stop offset="0.9537" stop-color="#0097ff"/><stop offset="0.9769" stop-color="#0082ff"/><stop offset="1.0000" stop-color="#0668ff"/></linearGradient><linearGradient id="l5" x1="0" y1="0" x2="0" y2="1"><stop offset="0.0000" stop-color="#027bff"/><stop offset="0.0324" stop-color="#00b8ff"/><stop offset="0.0556" stop-color="#00d6ff"/><stop offset="0.0694" stop-color="#00fffe"/><stop offset="0.0880" stop-color="#00ffd8"/><stop offset="0.1065" stop-color="#00ffc0"/><stop offset="0.1088" stop-color="#00ffbe"/><stop offset="0.1111" stop-color="#00ffd4"/><stop offset="0.1574" stop-color="#00ff80"/><stop offset="0.1736" stop-color="#00ff51"/><stop offset="0.1782" stop-color="#1eff14"/><stop offset="0.1806" stop-color="#30ff00"/><stop offset="0.1875" stop-color="#6cff00"/><stop offset="0.1898" stop-color="#7aff00"/><stop offset="0.2176" stop-color="#afff00"/><stop offset="0.2731" stop-color="#ffff00"/><stop offset="0.2963" stop-color="#ffe000"/><stop offset="0.3426" stop-color="#ffb500"/><stop offset="0.3889" stop-color="#ff9700"/><stop offset="0.4722" stop-color="#ff7800"/><stop offset="0.4815" stop-color="#ff7100"/><stop offset="0.5278" stop-color="#ff7b00"/><stop offset="0.5741" stop-color="#ff9100"/><stop offset="0.6204" stop-color="#ff9700"/><stop offset="0.6667" stop-color="#ffa900"/><stop offset="0.7130" stop-color="#ffc800"/><stop offset="0.7593" stop-color="#fff300"/><stop offset="0.7662" stop-color="#ffff00"/><stop offset="0.8056" stop-color="#c0ff00"/><stop offset="0.8125" stop-color="#b0ff00"/><stop offset="0.8310" stop-color="#78ff00"/><stop offset="0.8356" stop-color="#38ff00"/><stop offset="0.8380" stop-color="#1bff1b"/><stop offset="0.8403" stop-color="#00ff50"/><stop offset="0.8519" stop-color="#00ff83"/><stop offset="0.8981" stop-color="#00fff3"/><stop offset="0.9074" stop-color="#00fffd"/><stop offset="0.9259" stop-color="#00dfff"/><stop offset="0.9537" stop-color="#0097ff"/><stop offset="0.9769" stop-color="#0082ff"/><stop offset="1.0000" stop-color="#0668ff"/></linearGradient><linearGradient id="l6" x1="0" y1="0" x2="0" y2="1"><stop offset="0.0000" stop-color="#017cff"/><stop offset="0.0324" stop-color="#00b8ff"/><stop offset="0.0556" stop-color="#00d6ff"/><stop offset="0.0694" stop-color="#00fffe"/><stop offset="0.0880" stop-color="#00ffd8"/><stop offset="0.1065" stop-color="#00ffc0"/><stop offset="0.1088" stop-color="#00ffbe"/><stop offset="0.1111" stop-color="#00ffd4"/><stop offset="0.1574" stop-color="#00ff80"/><stop offset="0.1736" stop-color="#00ff51"/><stop offset="0.1782" stop-color="#1eff14"/><stop offset="0.1806" stop-color="#30ff00"/><stop offset="0.1875" stop-color="#6cff00"/><stop offset="0.1898" stop-color="#7aff00"/><stop offset="0.2176" stop-color="#afff00"/><stop offset="0.2731" stop-color="#ffff00"/><stop offset="0.2963" stop-color="#ffe000"/><stop offset="0.3426" stop-color="#ffb500"/><stop offset="0.3889" stop-color="#ff9700"/><stop offset="0.4722" stop-color="#ff7800"/><stop offset="0.4815" stop-color="#ff7100"/><stop offset="0.5278" stop-color="#ff7b00"/><stop offset="0.5741" stop-color="#ff9100"/><stop offset="0.6204" stop-color="#ff9700"/><stop offset="0.6667" stop-color="#ffa900"/><stop offset="0.7130" stop-color="#ffc800"/><stop offset="0.7593" stop-color="#fff300"/><stop offset="0.7662" stop-color="#ffff00"/><stop offset="0.8056" stop-color="#c0ff00"/><stop offset="0.8125" stop-color="#b0ff00"/><stop offset="0.8310" stop-color="#78ff00"/><stop offset="0.8356" stop-color="#38ff00"/><stop offset="0.8380" stop-color="#1bff1b"/><stop offset="0.8403" stop-color="#00ff50"/><stop offset="0.8519" stop-color="#00ff83"/><stop offset="0.8981" stop-color="#00fff3"/><stop offset="0.9074" stop-color="#00fffd"/><stop offset="0.9259" stop-color="#00dfff"/><stop offset="0.9537" stop-color="#0097ff"/><stop offset="0.9769" stop-color="#0082ff"/><stop offset="1.0000" stop-color="#0668ff"/></linearGradient><linearGradient id="l7" x1="0" y1="0" x2="0" y2="1"><stop offset="0.0000" stop-color="#017cff"/><stop offset="0.0324" stop-color="#00b8ff"/><stop offset="0.0556" stop-color="#00d6ff"/><stop offset="0.0694" stop-color="#00fffe"/><stop offset="0.0880" stop-color="#00ffd8"/><stop offset="0.1065" stop-color="#00ffc0"/><stop offset="0.1088" stop-color="#00ffbe"/><stop offset="0.1111" stop-color="#00ffd4"/><stop offset="0.1574" stop-color="#00ff80"/><stop offset="0.1736" stop-color="#00ff51"/><stop offset="0.1782" stop-color="#1eff14"/><stop offset="0.1806" stop-color="#30ff00"/><stop offset="0.1875" stop-color="#6cff00"/><stop offset="0.1898" stop-color="#7aff00"/><stop offset="0.2176" stop-color="#afff00"/><stop offset="0.2731" stop-color="#ffff00"/><stop offset="0.2963" stop-color="#ffe000"/><stop offset="0.3426" stop-color="#ffb500"/><stop offset="0.3889" stop-color="#ff9700"/><stop offset="0.4722" stop-color="#ff7800"/><stop offset="0.4815" stop-color="#ff7100"/><stop offset="0.5278" stop-color="#ff7b00"/><stop offset="0.5741" stop-color="#ff9100"/><stop offset="0.6204" stop-color="#ff9700"/><stop offset="0.6667" stop-color="#ffa900"/><stop offset="0.7130" stop-color="#ffc800"/><stop offset="0.7593" stop-color="#fff300"/><stop offset="0.7662" stop-color="#ffff00"/><stop offset="0.8056" stop-color="#c0ff00"/><stop offset="0.8125" stop-color="#b0ff00"/><stop offset="0.8310" stop-color="#78ff00"/><stop offset="0.8356" stop-color="#38ff00"/><stop offset="0.8380" stop-color="#1bff1b"/><stop offset="0.8403" stop-color="#00ff50"/><stop offset="0.8519" stop-color="#00ff83"/><stop offset="0.8981" stop-color="#00fff3"/><stop offset="0.9074" stop-color="#00fffd"/><stop offset="0.9259" stop-color="#00dfff"/><stop offset="0.9537" stop-color="#0097ff"/><stop offset="0.9769" stop-color="#0082ff"/><stop offset="1.0000" stop-color="#0668ff"/></linearGradient><linearGradient id="l8" x1="0" y1="0" x2="0" y2="1"><stop offset="0.0000" stop-color="#017cff"/><stop offset="0.0324" stop-color="#00b8ff"/><stop offset="0.0556" stop-color="#00d6ff"/><stop offset="0.0694" stop-color="#00fffe"/><stop offset="0.0880" stop-color="#00ffd8"/><stop offset="0.1065" stop-color="#00ffc0"/><stop offset="0.1088" stop-color="#00ffbe"/><stop offset="0.1111" stop-color="#00ffd4"/><stop offset="0.1574" stop-color="#00ff80"/><stop offset="0.1736" stop-color="#00ff51"/><stop offset="0.1782" stop-color="#1eff14"/><stop offset="0.1806" stop-color="#30ff00"/><stop offset="0.1875" stop-color="#6cff00"/><stop offset="0.1898" stop-color="#7aff00"/><stop offset="0.2176" stop-color="#afff00"/><stop offset="0.2731" stop-color="#ffff00"/><stop offset="0.2963" stop-color="#ffe000"/><stop offset="0.3426" stop-color="#ffb500"/><stop offset="0.3889" stop-color="#ff9700"/><stop offset="0.4722" stop-color="#ff7800"/><stop offset="0.4815" stop-color="#ff7100"/><stop offset="0.5278" stop-color="#ff7b00"/><stop offset="0.5741" stop-color="#ff9100"/><stop offset="0.6204" stop-color="#ff9700"/><stop offset="0.6667" stop-color="#ffa900"/><stop offset="0.7130" stop-color="#ffc800"/><stop offset="0.7593" stop-color="#fff300"/><stop offset="0.7662" stop-color="#ffff00"/><stop offset="0.8056" stop-color="#c0ff00"/><stop offset="0.8125" stop-color="#b0ff00"/><stop offset="0.8310" stop-color="#78ff00"/><stop offset="0.8356" stop-color="#38ff00"/><stop offset="0.8380" stop-color="#1bff1b"/><stop offset="0.8403" stop-color="#00ff50"/><stop offset="0.8519" stop-color="#00ff83"/><stop offset="0.8981" stop-color="#00fff3"/><stop offset="0.9074" stop-color="#00fffd"/><stop offset="0.9259" stop-color="#00dfff"/><stop offset="0.9537" stop-color="#0097ff"/><stop offset="0.9769" stop-color="#0082ff"/><stop offset="1.0000" stop-color="#0668ff"/></linearGradient><linearGradient id="l9" x1="0" y1="0" x2="0" y2="1"><stop offset="0.0000" stop-color="#017cff"/><stop offset="0.0324" stop-color="#00b8ff"/><stop offset="0.0556" stop-color="#00d6ff"/><stop offset="0.0694" stop-color="#00fffe"/><stop offset="0.0880" stop-color="#00ffd8"/><stop offset="0.1065" stop-color="#00ffc0"/><stop offset="0.1088" stop-color="#00ffbe"/><stop offset="0.1111" stop-color="#00ffd4"/><stop offset="0.1574" stop-color="#00ff80"/><stop offset="0.1736" stop-color="#00ff51"/><stop offset="0.1782" stop-color="#1eff14"/><stop offset="0.1806" stop-color="#30ff00"/><stop offset="0.1875" stop-color="#6cff00"/><stop offset="0.1898" stop-color="#7aff00"/><stop offset="0.2176" stop-color="#afff00"/><stop offset="0.2731" stop-color="#ffff00"/><stop offset="0.2963" stop-color="#ffe000"/><stop offset="0.3426" stop-color="#ffb500"/><stop offset="0.3889" stop-color="#ff9700"/><stop offset="0.4722" stop-color="#ff7800"/><stop offset="0.4815" stop-color="#ff7100"/><stop offset="0.5278" stop-color="#ff7b00"/><stop offset="0.5741" stop-color="#ff9100"/><stop offset="0.6204" stop-color="#ff9700"/><stop offset="0.6667" stop-color="#ffa900"/><stop offset="0.7130" stop-color="#ffc800"/><stop offset="0.7593" stop-color="#fff300"/><stop offset="0.7662" stop-color="#ffff00"/><stop offset="0.8056" stop-color="#c0ff00"/><stop offset="0.8125" stop-color="#b0ff00"/><stop offset="0.8310" stop-color="#78ff00"/><stop offset="0.8356" stop-color="#38ff00"/><stop offset="0.8380" stop-color="#1bff1b"/><stop offset="0.8403" stop-color="#00ff50"/><stop offset="0.8519" stop-color="#00ff83"/><stop offset="0.8981" stop-color="#00fff3"/><stop offset="0.9074" stop-color="#00fffd"/><stop offset="0.9259" stop-color="#00dfff"/><stop offset="0.9537" stop-color="#0097ff"/><stop offset="0.9769" stop-color="#0082ff"/><stop offset="1.0000" stop-color="#0668ff"/></linearGradient><linearGradient id="l10" x1="0" y1="0" x2="0" y2="1"><stop offset="0.0000" stop-color="#017cff"/><stop offset="0.0370" stop-color="#00bfff"/><stop offset="0.0741" stop-color="#00eeff"/><stop offset="0.0926" stop-color="#00fffd"/><stop offset="0.1204" stop-color="#00ffab"/><stop offset="0.1319" stop-color="#00ff8f"/><stop offset="0.1458" stop-color="#00ff76"/><stop offset="0.1481" stop-color="#00ff8f"/><stop offset="0.1551" stop-color="#00ff80"/><stop offset="0.1667" stop-color="#00ff55"/><stop offset="0.1690" stop-color="#08ff3f"/><stop offset="0.1713" stop-color="#1eff14"/><stop offset="0.1736" stop-color="#36ff00"/><stop offset="0.1782" stop-color="#6aff00"/><stop offset="0.1806" stop-color="#7bff00"/><stop offset="0.2037" stop-color="#b0ff00"/><stop offset="0.2222" stop-color="#d0ff00"/><stop offset="0.2662" stop-color="#feff00"/><stop offset="0.2778" stop-color="#fff300"/><stop offset="0.3426" stop-color="#ffd400"/><stop offset="0.3889" stop-color="#ffaf00"/><stop offset="0.4352" stop-color="#ff9100"/><stop offset="0.5278" stop-color="#ff7800"/><stop offset="0.5741" stop-color="#ff7800"/><stop offset="0.6204" stop-color="#ff8a00"/><stop offset="0.7130" stop-color="#ffd400"/><stop offset="0.7523" stop-color="#fffe00"/><stop offset="0.7593" stop-color="#f9ff00"/><stop offset="0.7986" stop-color="#aeff00"/><stop offset="0.8125" stop-color="#7aff00"/><stop offset="0.8148" stop-color="#58ff00"/><stop offset="0.8194" stop-color="#27ff02"/><stop offset="0.8218" stop-color="#10ff30"/><stop offset="0.8241" stop-color="#00ff53"/><stop offset="0.8333" stop-color="#00ff7f"/><stop offset="0.8472" stop-color="#00ffae"/><stop offset="0.8657" stop-color="#00fff9"/><stop offset="0.8681" stop-color="#00fbff"/><stop offset="0.8704" stop-color="#00f0ff"/><stop offset="0.9306" stop-color="#00adff"/><stop offset="0.9769" stop-color="#0082ff"/><stop offset="1.0000" stop-color="#0668ff"/></linearGradient><linearGradient id="l11" x1="0" y1="0" x2="0" y2="1"><stop offset="0.0000" stop-color="#017cff"/><stop offset="0.0370" stop-color="#00bfff"/><stop offset="0.0741" stop-color="#00eeff"/><stop offset="0.0926" stop-color="#00fffd"/><stop offset="0.1204" stop-color="#00ffab"/><stop offset="0.1319" stop-color="#00ff8f"/><stop offset="0.1458" stop-color="#00ff76"/><stop offset="0.1481" stop-color="#00ff8f"/><stop offset="0.1551" stop-color="#00ff80"/><stop offset="0.1667" stop-color="#00ff55"/><stop offset="0.1690" stop-color="#08ff3f"/><stop offset="0.1713" stop-color="#1eff14"/><stop offset="0.1736" stop-color="#36ff00"/><stop offset="0.1782" stop-color="#6aff00"/><stop offset="0.1806" stop-color="#7bff00"/><stop offset="0.2037" stop-color="#b0ff00"/><stop offset="0.2222" stop-color="#d0ff00"/><stop offset="0.2662" stop-color="#feff00"/><stop offset="0.2778" stop-color="#fff300"/><stop offset="0.3426" stop-color="#ffd400"/><stop offset="0.3889" stop-color="#ffaf00"/><stop offset="0.4352" stop-color="#ff9100"/><stop offset="0.5278" stop-color="#ff7800"/><stop offset="0.5741" stop-color="#ff7800"/><stop offset="0.6204" stop-color="#ff8a00"/><stop offset="0.7130" stop-color="#ffd400"/><stop offset="0.7523" stop-color="#fffe00"/><stop offset="0.7593" stop-color="#f9ff00"/><stop offset="0.7986" stop-color="#aeff00"/><stop offset="0.8125" stop-color="#7aff00"/><stop offset="0.8148" stop-color="#58ff00"/><stop offset="0.8194" stop-color="#27ff02"/><stop offset="0.8218" stop-color="#10ff30"/><stop offset="0.8241" stop-color="#00ff53"/><stop offset="0.8333" stop-color="#00ff7f"/><stop offset="0.8472" stop-color="#00ffae"/><stop offset="0.8657" stop-color="#00fff9"/><stop offset="0.8681" stop-color="#00fbff"/><stop offset="0.8704" stop-color="#00f0ff"/><stop offset="0.9306" stop-color="#00adff"/><stop offset="0.9769" stop-color="#0082ff"/><stop offset="1.0000" stop-color="#0668ff"/></linearGradient><linearGradient id="l12" x1="0" y1="0" x2="0" y2="1"><stop offset="0.0000" stop-color="#017dff"/><stop offset="0.0370" stop-color="#00c0ff"/><stop offset="0.0741" stop-color="#00eeff"/><stop offset="0.0926" stop-color="#00fffd"/><stop offset="0.1204" stop-color="#00ffab"/><stop offset="0.1319" stop-color="#00ff8f"/><stop offset="0.1458" stop-color="#00ff76"/><stop offset="0.1481" stop-color="#00ff8f"/><stop offset="0.1551" stop-color="#00ff80"/><stop offset="0.1667" stop-color="#00ff55"/><stop offset="0.1690" stop-color="#08ff3f"/><stop offset="0.1713" stop-color="#1eff14"/><stop offset="0.1736" stop-color="#36ff00"/><stop offset="0.1782" stop-color="#6aff00"/><stop offset="0.1806" stop-color="#7bff00"/><stop offset="0.2037" stop-color="#b0ff00"/><stop offset="0.2222" stop-color="#d0ff00"/><stop offset="0.2662" stop-color="#feff00"/><stop offset="0.2778" stop-color="#fff300"/><stop offset="0.3426" stop-color="#ffd400"/><stop offset="0.3889" stop-color="#ffaf00"/><stop offset="0.4352" stop-color="#ff9100"/><stop offset="0.5278" stop-color="#ff7800"/><stop offset="0.5741" stop-color="#ff7800"/><stop offset="0.6204" stop-color="#ff8a00"/><stop offset="0.7130" stop-color="#ffd400"/><stop offset="0.7523" stop-color="#fffe00"/><stop offset="0.7593" stop-color="#f9ff00"/><stop offset="0.7986" stop-color="#aeff00"/><stop offset="0.8125" stop-color="#7aff00"/><stop offset="0.8148" stop-color="#58ff00"/><stop offset="0.8194" stop-color="#27ff02"/><stop offset="0.8218" stop-color="#10ff30"/><stop offset="0.8241" stop-color="#00ff53"/><stop offset="0.8333" stop-color="#00ff7f"/><stop offset="0.8472" stop-color="#00ffae"/><stop offset="0.8657" stop-color="#00fff9"/><stop offset="0.8681" stop-color="#00fbff"/><stop offset="0.8704" stop-color="#00f0ff"/><stop offset="0.9306" stop-color="#00adff"/><stop offset="0.9769" stop-color="#0082ff"/><stop offset="1.0000" stop-color="#0668ff"/></linearGradient><linearGradient id="l13" x1="0" y1="0" x2="0" y2="1"><stop offset="0.0000" stop-color="#0180ff"/><stop offset="0.0370" stop-color="#00c0ff"/><stop offset="0.0741" stop-color="#00eeff"/><stop offset="0.0926" stop-color="#00fffd"/><stop offset="0.1204" stop-color="#00ffab"/><stop offset="0.1319" stop-color="#00ff8f"/><stop offset="0.1458" stop-color="#00ff76"/><stop offset="0.1481" stop-color="#00ff8f"/><stop offset="0.1551" stop-color="#00ff80"/><stop offset="0.1667" stop-color="#00ff55"/><stop offset="0.1690" stop-color="#08ff3f"/><stop offset="0.1713" stop-color="#1eff14"/><stop offset="0.1736" stop-color="#36ff00"/><stop offset="0.1782" stop-color="#6aff00"/><stop offset="0.1806" stop-color="#7bff00"/><stop offset="0.2037" stop-color="#b0ff00"/><stop offset="0.2222" stop-color="#d0ff00"/><stop offset="0.2662" stop-color="#feff00"/><stop offset="0.2778" stop-color="#fff300"/><stop offset="0.3426" stop-color="#ffd400"/><stop offset="0.3889" stop-color="#ffaf00"/><stop offset="0.4352" stop-color="#ff9100"/><stop offset="0.5278" stop-color="#ff7800"/><stop offset="0.5741" stop-color="#ff7800"/><stop offset="0.6204" stop-color="#ff8a00"/><stop offset="0.7130" stop-color="#ffd400"/><stop offset="0.7523" stop-color="#fffe00"/><stop offset="0.7593" stop-color="#f9ff00"/><stop offset="0.7986" stop-color="#aeff00"/><stop offset="0.8125" stop-color="#7aff00"/><stop offset="0.8148" stop-color="#58ff00"/><stop offset="0.8194" stop-color="#27ff02"/><stop offset="0.8218" stop-color="#10ff30"/><stop offset="0.8241" stop-color="#00ff53"/><stop offset="0.8333" stop-color="#00ff7f"/><stop offset="0.8472" stop-color="#00ffae"/><stop offset="0.8657" stop-color="#00fff9"/><stop offset="0.8681" stop-color="#00fbff"/><stop offset="0.8704" stop-color="#00f0ff"/><stop offset="0.9306" stop-color="#00adff"/><stop offset="0.9769" stop-color="#0082ff"/><stop offset="1.0000" stop-color="#0668ff"/></linearGradient><linearGradient id="l14" x1="0" y1="0" x2="0" y2="1"><stop offset="0.0000" stop-color="#0082ff"/><stop offset="0.0370" stop-color="#00c1ff"/><stop offset="0.0741" stop-color="#00eeff"/><stop offset="0.0926" stop-color="#00fffd"/><stop offset="0.1204" stop-color="#00ffab"/><stop offset="0.1319" stop-color="#00ff8f"/><stop offset="0.1458" stop-color="#00ff76"/><stop offset="0.1481" stop-color="#00ff8f"/><stop offset="0.1551" stop-color="#00ff80"/><stop offset="0.1667" stop-color="#00ff55"/><stop offset="0.1690" stop-color="#08ff3f"/><stop offset="0.1713" stop-color="#1eff14"/><stop offset="0.1736" stop-color="#36ff00"/><stop offset="0.1782" stop-color="#6aff00"/><stop offset="0.1806" stop-color="#7bff00"/><stop offset="0.2037" stop-color="#b0ff00"/><stop offset="0.2222" stop-color="#d0ff00"/><stop offset="0.2662" stop-color="#feff00"/><stop offset="0.2778" stop-color="#fff300"/><stop offset="0.3426" stop-color="#ffd400"/><stop offset="0.3889" stop-color="#ffaf00"/><stop offset="0.4352" stop-color="#ff9100"/><stop offset="0.5278" stop-color="#ff7800"/><stop offset="0.5741" stop-color="#ff7800"/><stop offset="0.6204" stop-color="#ff8a00"/><stop offset="0.7130" stop-color="#ffd400"/><stop offset="0.7523" stop-color="#fffe00"/><stop offset="0.7593" stop-color="#f9ff00"/><stop offset="0.7986" stop-color="#aeff00"/><stop offset="0.8125" stop-color="#7aff00"/><stop offset="0.8148" stop-color="#58ff00"/><stop offset="0.8194" stop-color="#27ff02"/><stop offset="0.8218" stop-color="#10ff30"/><stop offset="0.8241" stop-color="#00ff53"/><stop offset="0.8333" stop-color="#00ff7f"/><stop offset="0.8472" stop-color="#00ffae"/><stop offset="0.8657" stop-color="#00fff9"/><stop offset="0.8681" stop-color="#00fbff"/><stop offset="0.8704" stop-color="#00f0ff"/><stop offset="0.9306" stop-color="#00adff"/><stop offset="0.9769" stop-color="#0082ff"/><stop offset="1.0000" stop-color="#0668ff"/></linearGradient><linearGradient id="l15" x1="0" y1="0" x2="0" y2="1"><stop offset="0.0000" stop-color="#0083ff"/><stop offset="0.0370" stop-color="#00c1ff"/><stop offset="0.0741" stop-color="#00eeff"/><stop offset="0.0926" stop-color="#00fffd"/><stop offset="0.1204" stop-color="#00ffab"/><stop offset="0.1319" stop-color="#00ff8f"/><stop offset="0.1458" stop-color="#00ff76"/><stop offset="0.1481" stop-color="#00ff8f"/><stop offset="0.1551" stop-color="#00ff80"/><stop offset="0.1667" stop-color="#00ff55"/><stop offset="0.1690" stop-color="#08ff3f"/><stop offset="0.1713" stop-color="#1eff14"/><stop offset="0.1736" stop-color="#36ff00"/><stop offset="0.1782" stop-color="#6aff00"/><stop offset="0.1806" stop-color="#7bff00"/><stop offset="0.2037" stop-color="#b0ff00"/><stop offset="0.2222" stop-color="#d0ff00"/><stop offset="0.2662" stop-color="#feff00"/><stop offset="0.2778" stop-color="#fff300"/><stop offset="0.3426" stop-color="#ffd400"/><stop offset="0.3889" stop-color="#ffaf00"/><stop offset="0.4352" stop-color="#ff9100"/><stop offset="0.5278" stop-color="#ff7800"/><stop offset="0.5741" stop-color="#ff7800"/><stop offset="0.6204" stop-color="#ff8a00"/><stop offset="0.7130" stop-color="#ffd400"/><stop offset="0.7523" stop-color="#fffe00"/><stop offset="0.7593" stop-color="#f9ff00"/><stop offset="0.7986" stop-color="#aeff00"/><stop offset="0.8125" stop-color="#7aff00"/><stop offset="0.8148" stop-color="#58ff00"/><stop offset="0.8194" stop-color="#27ff02"/><stop offset="0.8218" stop-color="#10ff30"/><stop offset="0.8241" stop-color="#00ff53"/><stop offset="0.8333" stop-color="#00ff7f"/><stop offset="0.8472" stop-color="#00ffae"/><stop offset="0.8657" stop-color="#00fff9"/><stop offset="0.8681" stop-color="#00fbff"/><stop offset="0.8704" stop-color="#00f0ff"/><stop offset="0.9306" stop-color="#00adff"/><stop offset="0.9769" stop-color="#0082ff"/><stop offset="1.0000" stop-color="#0668ff"/></linearGradient><linearGradient id="l16" x1="0" y1="0" x2="0" y2="1"><stop offset="0.0000" stop-color="#0083ff"/><stop offset="0.0185" stop-color="#00a3ff"/><stop offset="0.0370" stop-color="#00d6ff"/><stop offset="0.0509" stop-color="#00eeff"/><stop offset="0.0648" stop-color="#00feff"/><stop offset="0.0718" stop-color="#00fffa"/><stop offset="0.0741" stop-color="#00eaff"/><stop offset="0.0833" stop-color="#00fffd"/><stop offset="0.1111" stop-color="#00ffc1"/><stop offset="0.1481" stop-color="#00ff81"/><stop offset="0.1667" stop-color="#00ff50"/><stop offset="0.1736" stop-color="#28ff00"/><stop offset="0.1852" stop-color="#78ff00"/><stop offset="0.2199" stop-color="#afff00"/><stop offset="0.2824" stop-color="#ffff00"/><stop offset="0.2963" stop-color="#ffed00"/><stop offset="0.3426" stop-color="#ffc200"/><stop offset="0.3889" stop-color="#ff9d00"/><stop offset="0.4560" stop-color="#ff7800"/><stop offset="0.4815" stop-color="#ff5500"/><stop offset="0.5278" stop-color="#ff5500"/><stop offset="0.5532" stop-color="#ff7800"/><stop offset="0.6204" stop-color="#ffa300"/><stop offset="0.6667" stop-color="#ffc800"/><stop offset="0.7130" stop-color="#fff300"/><stop offset="0.7222" stop-color="#ffff00"/><stop offset="0.7824" stop-color="#b0ff00"/><stop offset="0.8056" stop-color="#86ff00"/><stop offset="0.8102" stop-color="#79ff00"/><stop offset="0.8125" stop-color="#62ff00"/><stop offset="0.8171" stop-color="#28ff00"/><stop offset="0.8194" stop-color="#10ff30"/><stop offset="0.8218" stop-color="#00ff53"/><stop offset="0.8333" stop-color="#00ff82"/><stop offset="0.8519" stop-color="#00ffae"/><stop offset="0.8912" stop-color="#00fffd"/><stop offset="0.8981" stop-color="#00f1ff"/><stop offset="0.9120" stop-color="#00e5ff"/><stop offset="0.9259" stop-color="#00d1ff"/><stop offset="0.9537" stop-color="#0097ff"/><stop offset="0.9769" stop-color="#0082ff"/><stop offset="1.0000" stop-color="#0668ff"/></linearGradient><linearGradient id="l17" x1="0" y1="0" x2="0" y2="1"><stop offset="0.0000" stop-color="#0083ff"/><stop offset="0.0185" stop-color="#00a3ff"/><stop offset="0.0370" stop-color="#00d6ff"/><stop offset="0.0509" stop-color="#00eeff"/><stop offset="0.0648" stop-color="#00feff"/><stop offset="0.0718" stop-color="#00fffa"/><stop offset="0.0741" stop-color="#00eaff"/><stop offset="0.0833" stop-color="#00fffd"/><stop offset="0.1111" stop-color="#00ffc1"/><stop offset="0.1481" stop-color="#00ff81"/><stop offset="0.1667" stop-color="#00ff50"/><stop offset="0.1736" stop-color="#28ff00"/><stop offset="0.1852" stop-color="#78ff00"/><stop offset="0.2199" stop-color="#afff00"/><stop offset="0.2824" stop-color="#ffff00"/><stop offset="0.2963" stop-color="#ffed00"/><stop offset="0.3426" stop-color="#ffc200"/><stop offset="0.3889" stop-color="#ff9d00"/><stop offset="0.4560" stop-color="#ff7800"/><stop offset="0.4815" stop-color="#ff5500"/><stop offset="0.5278" stop-color="#ff5500"/><stop offset="0.5532" stop-color="#ff7800"/><stop offset="0.6204" stop-color="#ffa300"/><stop offset="0.6667" stop-color="#ffc800"/><stop offset="0.7130" stop-color="#fff300"/><stop offset="0.7222" stop-color="#ffff00"/><stop offset="0.7824" stop-color="#b0ff00"/><stop offset="0.8056" stop-color="#86ff00"/><stop offset="0.8102" stop-color="#79ff00"/><stop offset="0.8125" stop-color="#62ff00"/><stop offset="0.8171" stop-color="#28ff00"/><stop offset="0.8194" stop-color="#10ff30"/><stop offset="0.8218" stop-color="#00ff53"/><stop offset="0.8333" stop-color="#00ff82"/><stop offset="0.8519" stop-color="#00ffae"/><stop offset="0.8912" stop-color="#00fffd"/><stop offset="0.8981" stop-color="#00f1ff"/><stop offset="0.9120" stop-color="#00e5ff"/><stop offset="0.9259" stop-color="#00d1ff"/><stop offset="0.9537" stop-color="#0097ff"/><stop offset="0.9769" stop-color="#0082ff"/><stop offset="1.0000" stop-color="#0668ff"/></linearGradient><linearGradient id="l18" x1="0" y1="0" x2="0" y2="1"><stop offset="0.0000" stop-color="#0083ff"/><stop offset="0.0185" stop-color="#00a3ff"/><stop offset="0.0370" stop-color="#00d6ff"/><stop offset="0.0509" stop-color="#00eeff"/><stop offset="0.0648" stop-color="#00feff"/><stop offset="0.0718" stop-color="#00fffa"/><stop offset="0.0741" stop-color="#00eaff"/><stop offset="0.0833" stop-color="#00fffd"/><stop offset="0.1111" stop-color="#00ffc1"/><stop offset="0.1481" stop-color="#00ff81"/><stop offset="0.1667" stop-color="#00ff50"/><stop offset="0.1736" stop-color="#28ff00"/><stop offset="0.1852" stop-color="#78ff00"/><stop offset="0.2199" stop-color="#afff00"/><stop offset="0.2824" stop-color="#ffff00"/><stop offset="0.2963" stop-color="#ffed00"/><stop offset="0.3426" stop-color="#ffc200"/><stop offset="0.3889" stop-color="#ff9d00"/><stop offset="0.4560" stop-color="#ff7800"/><stop offset="0.4815" stop-color="#ff5500"/><stop offset="0.5278" stop-color="#ff5500"/><stop offset="0.5532" stop-color="#ff7800"/><stop offset="0.6204" stop-color="#ffa300"/><stop offset="0.6667" stop-color="#ffc800"/><stop offset="0.7130" stop-color="#fff300"/><stop offset="0.7222" stop-color="#ffff00"/><stop offset="0.7824" stop-color="#b0ff00"/><stop offset="0.8056" stop-color="#86ff00"/><stop offset="0.8102" stop-color="#79ff00"/><stop offset="0.8125" stop-color="#62ff00"/><stop offset="0.8171" stop-color="#28ff00"/><stop offset="0.8194" stop-color="#10ff30"/><stop offset="0.8218" stop-color="#00ff53"/><stop offset="0.8333" stop-color="#00ff82"/><stop offset="0.8519" stop-color="#00ffae"/><stop offset="0.8912" stop-color="#00fffd"/><stop offset="0.8981" stop-color="#00f1ff"/><stop offset="0.9120" stop-color="#00e5ff"/><stop offset="0.9259" stop-color="#00d1ff"/><stop offset="0.9537" stop-color="#0097ff"/><stop offset="0.9769" stop-color="#0082ff"/><stop offset="1.0000" stop-color="#0668ff"/></linearGradient><linearGradient id="l19" x1="0" y1="0" x2="0" y2="1"><stop offset="0.0000" stop-color="#0082ff"/><stop offset="0.0185" stop-color="#00a2ff"/><stop offset="0.0370" stop-color="#00d6ff"/><stop offset="0.0509" stop-color="#00eeff"/><stop offset="0.0648" stop-color="#00feff"/><stop offset="0.0718" stop-color="#00fffa"/><stop offset="0.0741" stop-color="#00eaff"/><stop offset="0.0833" stop-color="#00fffd"/><stop offset="0.1111" stop-color="#00ffc1"/><stop offset="0.1481" stop-color="#00ff81"/><stop offset="0.1667" stop-color="#00ff50"/><stop offset="0.1736" stop-color="#28ff00"/><stop offset="0.1852" stop-color="#78ff00"/><stop offset="0.2199" stop-color="#afff00"/><stop offset="0.2824" stop-color="#ffff00"/><stop offset="0.2963" stop-color="#ffed00"/><stop offset="0.3426" stop-color="#ffc200"/><stop offset="0.3889" stop-color="#ff9d00"/><stop offset="0.4560" stop-color="#ff7800"/><stop offset="0.4815" stop-color="#ff5500"/><stop offset="0.5278" stop-color="#ff5500"/><stop offset="0.5532" stop-color="#ff7800"/><stop offset="0.6204" stop-color="#ffa300"/><stop offset="0.6667" stop-color="#ffc800"/><stop offset="0.7130" stop-color="#fff300"/><stop offset="0.7222" stop-color="#ffff00"/><stop offset="0.7824" stop-color="#b0ff00"/><stop offset="0.8056" stop-color="#86ff00"/><stop offset="0.8102" stop-color="#79ff00"/><stop offset="0.8125" stop-color="#62ff00"/><stop offset="0.8171" stop-color="#28ff00"/><stop offset="0.8194" stop-color="#10ff30"/><stop offset="0.8218" stop-color="#00ff53"/><stop offset="0.8333" stop-color="#00ff82"/><stop offset="0.8519" stop-color="#00ffae"/><stop offset="0.8912" stop-color="#00fffd"/><stop offset="0.8981" stop-color="#00f1ff"/><stop offset="0.9120" stop-color="#00e5ff"/><stop offset="0.9259" stop-color="#00d1ff"/><stop offset="0.9537" stop-color="#0097ff"/><stop offset="0.9769" stop-color="#0082ff"/><stop offset="1.0000" stop-color="#0668ff"/></linearGradient><linearGradient id="l20" x1="0" y1="0" x2="0" y2="1"><stop offset="0.0000" stop-color="#017fff"/><stop offset="0.0185" stop-color="#00a0ff"/><stop offset="0.0347" stop-color="#00cfff"/><stop offset="0.0486" stop-color="#00eaff"/><stop offset="0.0671" stop-color="#00fffe"/><stop offset="0.0718" stop-color="#00fffa"/><stop offset="0.0741" stop-color="#00eaff"/><stop offset="0.0833" stop-color="#00fffd"/><stop offset="0.1111" stop-color="#00ffc1"/><stop offset="0.1481" stop-color="#00ff81"/><stop offset="0.1667" stop-color="#00ff50"/><stop offset="0.1736" stop-color="#28ff00"/><stop offset="0.1852" stop-color="#78ff00"/><stop offset="0.2199" stop-color="#afff00"/><stop offset="0.2824" stop-color="#ffff00"/><stop offset="0.2963" stop-color="#ffed00"/><stop offset="0.3426" stop-color="#ffc200"/><stop offset="0.3889" stop-color="#ff9d00"/><stop offset="0.4560" stop-color="#ff7800"/><stop offset="0.4815" stop-color="#ff5500"/><stop offset="0.5278" stop-color="#ff5500"/><stop offset="0.5532" stop-color="#ff7800"/><stop offset="0.6204" stop-color="#ffa300"/><stop offset="0.6667" stop-color="#ffc800"/><stop offset="0.7130" stop-color="#fff300"/><stop offset="0.7222" stop-color="#ffff00"/><stop offset="0.7824" stop-color="#b0ff00"/><stop offset="0.8056" stop-color="#86ff00"/><stop offset="0.8102" stop-color="#79ff00"/><stop offset="0.8125" stop-color="#62ff00"/><stop offset="0.8171" stop-color="#28ff00"/><stop offset="0.8194" stop-color="#10ff30"/><stop offset="0.8218" stop-color="#00ff53"/><stop offset="0.8333" stop-color="#00ff82"/><stop offset="0.8519" stop-color="#00ffae"/><stop offset="0.8912" stop-color="#00fffd"/><stop offset="0.8981" stop-color="#00f1ff"/><stop offset="0.9120" stop-color="#00e5ff"/><stop offset="0.9259" stop-color="#00d1ff"/><stop offset="0.9537" stop-color="#0097ff"/><stop offset="0.9769" stop-color="#0082ff"/><stop offset="1.0000" stop-color="#0668ff"/></linearGradient><linearGradient id="l21" x1="0" y1="0" x2="0" y2="1"><stop offset="0.0000" stop-color="#027aff"/><stop offset="0.0185" stop-color="#009eff"/><stop offset="0.0347" stop-color="#00ceff"/><stop offset="0.0486" stop-color="#00e9ff"/><stop offset="0.0671" stop-color="#00fffe"/><stop offset="0.0718" stop-color="#00fffa"/><stop offset="0.0741" stop-color="#00eaff"/><stop offset="0.0833" stop-color="#00fffd"/><stop offset="0.1111" stop-color="#00ffc1"/><stop offset="0.1481" stop-color="#00ff81"/><stop offset="0.1667" stop-color="#00ff50"/><stop offset="0.1736" stop-color="#28ff00"/><stop offset="0.1852" stop-color="#78ff00"/><stop offset="0.2199" stop-color="#afff00"/><stop offset="0.2824" stop-color="#ffff00"/><stop offset="0.2963" stop-color="#ffed00"/><stop offset="0.3426" stop-color="#ffc200"/><stop offset="0.3889" stop-color="#ff9d00"/><stop offset="0.4560" stop-color="#ff7800"/><stop offset="0.4815" stop-color="#ff5500"/><stop offset="0.5278" stop-color="#ff5500"/><stop offset="0.5532" stop-color="#ff7800"/><stop offset="0.6204" stop-color="#ffa300"/><stop offset="0.6667" stop-color="#ffc800"/><stop offset="0.7130" stop-color="#fff300"/><stop offset="0.7222" stop-color="#ffff00"/><stop offset="0.7824" stop-color="#b0ff00"/><stop offset="0.8056" stop-color="#86ff00"/><stop offset="0.8102" stop-color="#79ff00"/><stop offset="0.8125" stop-color="#62ff00"/><stop offset="0.8171" stop-color="#28ff00"/><stop offset="0.8194" stop-color="#10ff30"/><stop offset="0.8218" stop-color="#00ff53"/><stop offset="0.8333" stop-color="#00ff82"/><stop offset="0.8519" stop-color="#00ffae"/><stop offset="0.8912" stop-color="#00fffd"/><stop offset="0.8981" stop-color="#00f1ff"/><stop offset="0.9120" stop-color="#00e5ff"/><stop offset="0.9259" stop-color="#00d1ff"/><stop offset="0.9537" stop-color="#0097ff"/><stop offset="0.9769" stop-color="#0082ff"/><stop offset="1.0000" stop-color="#0668ff"/></linearGradient><linearGradient id="l22" x1="0" y1="0" x2="0" y2="1"><stop offset="0.0000" stop-color="#0473ff"/><stop offset="0.0185" stop-color="#009aff"/><stop offset="0.0347" stop-color="#00cdff"/><stop offset="0.0486" stop-color="#00e9ff"/><stop offset="0.0671" stop-color="#00fffe"/><stop offset="0.0718" stop-color="#00fffa"/><stop offset="0.0741" stop-color="#00eaff"/><stop offset="0.0833" stop-color="#00fffd"/><stop offset="0.1111" stop-color="#00ffc1"/><stop offset="0.1481" stop-color="#00ff81"/><stop offset="0.1667" stop-color="#00ff50"/><stop offset="0.1736" stop-color="#28ff00"/><stop offset="0.1852" stop-color="#78ff00"/><stop offset="0.2199" stop-color="#afff00"/><stop offset="0.2824" stop-color="#ffff00"/><stop offset="0.2963" stop-color="#ffed00"/><stop offset="0.3426" stop-color="#ffc200"/><stop offset="0.3889" stop-color="#ff9d00"/><stop offset="0.4560" stop-color="#ff7800"/><stop offset="0.4815" stop-color="#ff5500"/><stop offset="0.5278" stop-color="#ff5500"/><stop offset="0.5532" stop-color="#ff7800"/><stop offset="0.6204" stop-color="#ffa300"/><stop offset="0.6667" stop-color="#ffc800"/><stop offset="0.7130" stop-color="#fff300"/><stop offset="0.7222" stop-color="#ffff00"/><stop offset="0.7824" stop-color="#b0ff00"/><stop offset="0.8056" stop-color="#86ff00"/><stop offset="0.8102" stop-color="#79ff00"/><stop offset="0.8125" stop-color="#62ff00"/><stop offset="0.8171" stop-color="#28ff00"/><stop offset="0.8194" stop-color="#10ff30"/><stop offset="0.8218" stop-color="#00ff53"/><stop offset="0.8333" stop-color="#00ff82"/><stop offset="0.8519" stop-color="#00ffae"/><stop offset="0.8912" stop-color="#00fffd"/><stop offset="0.8981" stop-color="#00f1ff"/><stop offset="0.9120" stop-color="#00e5ff"/><stop offset="0.9259" stop-color="#00d1ff"/><stop offset="0.9537" stop-color="#0097ff"/><stop offset="0.9769" stop-color="#0082ff"/><stop offset="1.0000" stop-color="#0668ff"/></linearGradient><linearGradient id="l23" x1="0" y1="0" x2="0" y2="1"><stop offset="0.0000" stop-color="#056dff"/><stop offset="0.0185" stop-color="#0096ff"/><stop offset="0.0370" stop-color="#00d2ff"/><stop offset="0.0486" stop-color="#00e8ff"/><stop offset="0.0671" stop-color="#00fffe"/><stop offset="0.0718" stop-color="#00fffa"/><stop offset="0.0741" stop-color="#00eaff"/><stop offset="0.0833" stop-color="#00fffd"/><stop offset="0.1111" stop-color="#00ffc1"/><stop offset="0.1481" stop-color="#00ff81"/><stop offset="0.1667" stop-color="#00ff50"/><stop offset="0.1736" stop-color="#28ff00"/><stop offset="0.1852" stop-color="#78ff00"/><stop offset="0.2199" stop-color="#afff00"/><stop offset="0.2824" stop-color="#ffff00"/><stop offset="0.2963" stop-color="#ffed00"/><stop offset="0.3426" stop-color="#ffc200"/><stop offset="0.3889" stop-color="#ff9d00"/><stop offset="0.4560" stop-color="#ff7800"/><stop offset="0.4815" stop-color="#ff5500"/><stop offset="0.5278" stop-color="#ff5500"/><stop offset="0.5532" stop-color="#ff7800"/><stop offset="0.6204" stop-color="#ffa300"/><stop offset="0.6667" stop-color="#ffc800"/><stop offset="0.7130" stop-color="#fff300"/><stop offset="0.7222" stop-color="#ffff00"/><stop offset="0.7824" stop-color="#b0ff00"/><stop offset="0.8056" stop-color="#86ff00"/><stop offset="0.8102" stop-color="#79ff00"/><stop offset="0.8125" stop-color="#62ff00"/><stop offset="0.8171" stop-color="#28ff00"/><stop offset="0.8194" stop-color="#10ff30"/><stop offset="0.8218" stop-color="#00ff53"/><stop offset="0.8333" stop-color="#00ff82"/><stop offset="0.8519" stop-color="#00ffae"/><stop offset="0.8912" stop-color="#00fffd"/><stop offset="0.8981" stop-color="#00f1ff"/><stop offset="0.9120" stop-color="#00e5ff"/><stop offset="0.9259" stop-color="#00d1ff"/><stop offset="0.9537" stop-color="#0097ff"/><stop offset="0.9769" stop-color="#0082ff"/><stop offset="1.0000" stop-color="#0668ff"/></linearGradient><linearGradient id="cbg" x1="0" y1="0" x2="1" y2="0"><stop offset="0.0000" stop-color="#000018"/><stop offset="0.1472" stop-color="#0000f0"/><stop offset="0.1472" stop-color="#1040ff"/><stop offset="0.1889" stop-color="#0082ff"/><stop offset="0.2889" stop-color="#00ffff"/><stop offset="0.4028" stop-color="#00ff80"/><stop offset="0.4278" stop-color="#00ff50"/><stop offset="0.4361" stop-color="#28ff00"/><stop offset="0.4500" stop-color="#78ff00"/><stop offset="0.4944" stop-color="#b0ff00"/><stop offset="0.5444" stop-color="#e0ff00"/><stop offset="0.5722" stop-color="#ffff00"/><stop offset="0.6944" stop-color="#ff7800"/><stop offset="0.7167" stop-color="#ff4000"/><stop offset="0.7167" stop-color="#ff0038"/><stop offset="0.7333" stop-color="#ff008c"/><stop offset="0.8639" stop-color="#f000fa"/><stop offset="0.8639" stop-color="#f050fa"/><stop offset="0.9111" stop-color="#ff8cff"/><stop offset="0.9556" stop-color="#ffd0ff"/><stop offset="1.0000" stop-color="#ffffff"/></linearGradient><clipPath id="mapclip"><rect x="20.0" y="76.0" width="659.4" height="351.5"/></clipPath><clipPath id="brightclip"><rect x="20.0" y="142.39" width="659.4" height="224.18"/></clipPath><clipPath id="darkclip"><rect x="20.0" y="76.0" width="659.4" height="66.39"/><rect x="20.0" y="366.57" width="659.4" height="60.93"/></clipPath><clipPath id="landclip"><path d="M41.8 123.6L45.3 122.5L48.6 121.7L49.9 122.7L53.5 122.7L52.1 121.1L49.7 119.5L46.7 119.0L44.2 118.3L45.5 117.2L51.1 115.6L54.8 114.5L60.3 113.4L62.9 112.4L66.7 113.3L71.3 113.4L75.9 114.1L82.3 114.8L87.2 114.9L91.4 115.7L95.1 116.0L98.8 117.1L102.4 116.2L105.2 116.1L109.8 115.3L112.5 115.1L115.2 114.3L118.9 116.0L121.7 116.2L126.2 115.4L129.9 116.2L134.5 117.0L139.1 117.2L142.7 118.0L148.2 119.0L151.9 117.8L155.5 117.4L159.2 118.8L164.7 119.4L169.3 119.4L172.0 118.0L174.8 118.8L177.5 117.0L176.6 114.1L174.8 111.5L178.4 111.7L181.2 114.7L182.1 116.0L184.8 117.8L188.5 118.6L190.3 120.3L193.1 117.2L194.0 115.4L198.6 115.8L200.8 118.0L200.4 120.3L196.8 122.5L192.2 122.3L190.3 124.4L188.5 126.4L183.9 127.7L178.4 131.7L176.6 135.6L177.5 137.1L180.3 140.1L184.8 140.4L188.5 141.8L194.0 143.8L199.0 144.2L199.1 148.4L202.3 151.6L205.0 151.2L205.4 148.3L205.0 145.3L208.7 142.8L209.6 139.5L207.7 136.5L208.1 133.6L206.8 130.1L211.4 130.1L216.0 130.7L218.7 132.2L221.5 132.6L222.4 135.6L225.1 137.3L227.9 137.1L230.6 135.4L231.6 134.0L233.4 136.9L236.1 139.5L237.1 142.0L239.8 143.8L243.5 145.5L244.7 147.9L247.7 149.8L245.3 151.2L239.8 153.7L234.3 153.5L227.9 153.7L224.2 155.7L221.5 158.0L219.7 160.2L223.3 158.0L227.9 155.7L231.9 156.3L231.0 158.4L230.6 160.0L231.6 161.3L233.4 162.3L237.1 162.7L239.8 162.1L238.0 163.3L233.4 164.7L229.4 166.6L228.4 164.7L231.6 163.3L227.0 164.3L224.2 165.4L221.1 166.6L220.0 168.6L221.5 170.1L220.6 170.7L218.7 170.9L215.1 171.9L214.2 172.7L214.0 174.0L212.5 175.8L212.1 177.0L210.5 179.1L211.0 181.6L211.4 183.0L209.6 184.0L207.0 185.6L204.6 186.9L202.3 188.7L201.0 190.2L200.6 192.6L202.1 196.1L203.2 199.4L202.8 202.0L201.3 202.5L200.1 201.0L198.4 198.0L198.0 195.5L196.4 193.4L194.9 193.2L193.3 193.8L191.3 192.4L188.5 192.0L185.8 192.8L186.3 194.7L183.9 194.9L181.2 193.9L177.9 193.8L175.7 194.5L172.9 196.3L171.5 198.0L171.3 201.0L170.7 203.9L170.6 207.8L171.7 211.1L173.1 213.7L174.8 215.2L176.6 216.2L180.3 215.4L182.5 215.4L183.9 213.1L184.1 210.7L187.6 209.8L190.3 209.8L189.6 211.7L188.9 214.6L188.0 216.0L188.1 218.6L187.4 220.7L189.4 220.9L192.2 220.7L194.9 220.9L197.1 222.5L196.9 225.4L196.4 229.3L196.6 230.7L198.6 233.2L200.4 234.6L203.2 233.6L205.0 233.2L207.7 235.0L208.7 235.0L209.9 233.6L211.2 231.2L212.7 230.3L215.1 229.7L217.5 228.5L219.1 227.7L218.6 230.3L219.7 231.8L220.9 229.3L221.5 228.3L222.4 229.3L224.6 231.1L227.9 231.1L231.6 231.8L234.3 230.9L236.3 230.9L235.2 232.2L238.0 234.2L239.8 235.3L241.6 237.1L243.5 238.5L245.3 240.0L249.0 240.2L251.7 241.0L254.5 242.6L255.7 243.9L257.2 247.8L258.1 249.8L258.3 251.8L257.2 252.7L260.9 253.1L262.7 252.9L266.4 254.3L268.7 256.6L271.9 257.2L275.5 257.2L279.2 259.0L281.6 261.3L284.7 261.9L285.6 264.4L285.8 267.4L284.9 270.3L282.8 272.4L281.0 275.2L279.2 277.1L278.3 280.1L278.3 284.9L277.0 289.8L275.5 292.4L274.6 294.7L272.8 296.7L269.1 296.9L265.4 298.6L262.7 300.4L260.9 302.5L260.7 306.0L259.0 308.4L257.2 311.9L255.4 313.8L253.5 316.2L251.7 317.8L249.9 319.3L247.1 319.9L244.4 319.1L242.5 318.5L244.4 321.1L245.8 323.0L244.4 326.0L241.6 327.5L237.1 327.9L235.6 328.9L235.8 331.0L233.4 332.0L230.6 331.8L231.6 334.2L233.0 334.9L231.0 336.1L230.1 338.6L227.9 339.6L226.1 341.6L227.9 343.5L229.0 345.1L226.1 347.4L224.2 349.8L223.3 351.3L224.4 353.9L224.0 355.2L226.1 357.2L230.3 358.6L227.9 359.2L224.2 359.9L220.6 359.2L216.9 357.2L214.2 354.3L212.3 352.3L211.4 347.4L213.2 343.5L211.4 342.6L214.2 339.6L215.1 336.7L214.2 333.8L214.7 330.8L215.3 327.9L214.9 324.6L216.4 321.7L218.2 318.1L218.7 314.2L218.6 310.3L218.9 306.4L220.0 302.5L220.6 298.6L221.1 294.7L221.1 290.8L220.9 287.7L218.7 285.7L216.0 284.0L212.3 281.8L210.1 278.9L209.0 276.2L207.4 273.2L205.9 270.3L204.4 267.0L203.2 265.0L201.2 263.5L201.0 261.5L200.8 260.0L202.6 258.4L203.5 256.6L201.5 256.0L201.7 253.7L203.0 250.8L203.2 249.8L205.2 248.8L205.9 246.9L207.7 244.9L208.1 243.0L207.9 240.0L207.2 238.1L206.1 235.7L204.1 234.4L202.6 235.7L202.4 237.3L201.0 236.9L199.9 235.9L197.7 235.5L196.4 235.0L194.4 232.6L192.7 232.4L192.5 230.3L190.7 227.7L189.2 226.2L187.6 226.0L184.8 224.8L182.1 224.4L180.3 223.2L178.4 221.3L176.6 220.1L173.9 221.1L171.1 220.5L168.4 219.3L165.6 218.2L163.2 216.8L160.1 216.0L158.3 214.3L156.5 212.1L156.8 209.8L155.9 207.6L154.1 205.5L151.9 202.9L149.5 200.0L147.3 197.5L145.5 195.5L143.6 193.2L142.4 190.8L139.4 189.7L140.0 192.8L141.8 195.1L143.1 197.5L144.6 200.0L146.4 202.9L147.7 204.5L149.3 206.4L148.2 207.0L146.4 204.9L144.2 203.3L144.0 201.0L141.8 199.4L140.0 197.5L140.5 196.1L138.1 194.1L136.7 191.6L135.8 189.7L135.0 187.9L134.5 186.5L132.8 185.4L131.2 184.8L128.8 184.2L128.4 182.4L126.4 180.3L125.5 178.5L124.4 177.3L123.1 175.6L122.6 173.6L122.0 172.7L122.4 170.1L121.8 168.2L122.4 165.8L122.6 161.5L121.5 157.2L123.5 157.6L124.8 156.1L123.5 155.1L120.9 154.1L119.8 153.1L117.1 152.2L115.8 150.2L114.3 148.6L112.1 145.9L110.7 144.7L108.8 143.4L107.0 141.4L105.2 139.5L103.3 137.9L100.6 137.5L97.8 136.7L94.2 135.2L90.5 134.6L86.9 134.6L83.2 133.6L79.5 132.8L77.7 134.0L75.9 135.2L73.1 136.0L71.5 135.2L72.2 133.0L75.0 132.2L71.3 133.6L69.5 135.6L67.6 136.9L64.9 138.5L63.0 139.9L60.3 141.4L57.5 142.8L54.8 143.6L52.1 144.3L49.3 144.9L47.8 145.3L50.2 144.2L53.0 142.6L55.7 141.8L58.5 139.9L61.2 137.9L59.4 136.9L55.7 137.1L53.3 136.9L52.6 135.0L49.7 134.6L47.8 133.4L46.9 131.7L45.6 130.3L47.8 129.1L48.4 128.3L52.1 127.7L54.8 126.8L54.8 125.8L51.5 126.0L48.4 125.8L45.3 125.6L44.2 124.4L41.8 123.6Z M216.9 98.5L227.0 96.5L231.6 93.6L239.8 91.6L258.1 90.6L276.4 88.7L294.8 88.7L309.4 90.6L318.6 92.6L327.7 92.6L316.7 95.5L314.9 98.5L315.8 101.4L313.1 104.3L311.2 107.2L309.4 110.2L309.4 113.1L304.8 115.1L302.1 118.0L294.8 119.0L289.3 119.9L285.6 122.5L280.1 123.8L276.4 125.8L274.6 128.7L271.9 131.7L270.0 134.6L267.3 134.2L263.6 133.0L260.9 131.7L258.1 129.1L256.3 126.8L253.5 123.8L251.7 120.9L252.6 118.0L256.3 116.0L254.5 114.1L249.9 112.1L249.0 110.2L245.3 107.2L241.6 104.3L236.1 102.9L228.8 103.3L223.3 102.4L218.7 100.4L216.9 98.5Z M203.2 107.8L210.5 109.6L217.8 112.1L224.2 114.5L227.0 116.4L231.6 120.3L236.5 121.9L234.3 124.8L230.6 126.4L231.6 128.3L227.9 130.7L223.3 129.5L218.7 127.7L214.2 125.8L215.1 122.9L216.9 120.3L213.2 118.0L207.7 116.0L203.2 115.1L199.5 114.7L194.9 112.5L191.3 110.2L194.0 108.0L203.2 107.8Z M131.7 112.1L134.5 109.6L140.9 108.8L146.4 109.6L153.7 108.2L157.4 110.2L162.9 113.1L164.7 115.1L159.2 117.4L153.7 117.0L148.2 117.4L142.7 117.8L135.4 116.0L132.6 114.1L131.7 112.1Z M120.7 110.6L123.5 106.9L129.9 106.7L135.4 108.2L130.8 110.2L126.2 112.7L120.7 111.5L120.7 110.6Z M184.8 102.4L199.5 102.8L206.8 101.4L206.8 98.5L214.2 96.5L221.5 94.6L232.5 92.0L236.1 90.6L221.5 89.7L203.2 89.7L184.8 92.6L181.2 94.6L188.5 96.5L184.8 98.5L186.7 100.4L184.8 102.4Z M181.2 106.3L199.5 106.3L203.2 105.3L199.5 103.3L188.5 102.4L181.2 103.7L181.2 106.3Z M137.2 103.3L148.2 102.8L159.2 103.3L157.4 104.7L148.2 104.7L137.2 105.3L134.5 104.3L137.2 103.3Z M173.9 99.4L181.2 94.9L188.5 96.5L184.8 98.5L177.5 100.4L173.9 99.4Z M164.7 110.2L170.2 107.6L173.9 109.2L172.0 111.5L166.5 111.2L164.7 110.2Z M175.7 111.2L179.4 107.2L183.0 107.8L182.1 110.2L175.7 111.2Z M189.4 126.8L195.8 126.4L201.3 125.8L197.7 124.2L194.0 123.8L191.3 122.9L190.3 124.4L189.4 126.8Z M164.7 104.3L172.0 102.4L173.9 104.3L170.2 105.7L164.7 104.3Z M126.2 102.4L135.4 100.4L139.1 101.8L133.6 103.3L126.2 102.4Z M240.9 158.8L242.7 157.0L243.8 155.1L245.3 152.7L248.0 151.0L247.9 153.7L250.8 155.1L252.1 157.0L253.2 159.0L251.7 160.6L250.4 159.4L248.0 160.2L246.2 158.8L240.9 158.8Z M114.7 152.5L119.8 156.5L123.7 157.2L121.7 154.9L117.1 153.1L114.7 152.5Z M194.2 209.0L196.8 207.0L199.5 206.4L202.3 206.8L205.9 208.0L208.3 209.6L211.0 210.5L213.8 212.3L211.4 212.9L207.7 213.1L208.1 211.3L205.9 209.8L202.3 208.8L199.5 208.2L197.7 208.8L194.2 209.0Z M213.4 215.8L216.4 212.9L219.7 212.9L223.3 214.3L224.4 215.4L222.4 215.8L219.7 216.6L216.9 216.2L213.4 215.8Z M206.3 215.8L209.6 216.2L209.9 216.8L207.7 217.0L206.3 215.8Z M226.6 215.6L229.5 215.8L229.4 216.6L226.6 216.6L226.6 215.6Z M206.8 199.4L208.7 200.0L208.3 201.2L206.8 199.4Z M206.5 202.5L207.4 204.3L207.7 204.9L206.5 202.5Z M210.1 202.5L210.9 204.3L211.8 204.9L210.1 202.5Z M64.1 212.3L65.8 213.5L64.5 214.8L64.0 213.3L64.1 212.3Z M62.7 210.9L64.0 211.1L63.2 211.5L62.7 210.9Z M59.7 209.6L60.8 210.0L60.1 210.2L59.7 209.6Z M57.0 208.4L57.9 208.6L57.5 209.0L57.0 208.4Z M237.4 352.3L240.7 351.9L243.8 352.5L242.5 353.7L238.9 353.7L237.4 352.3Z M279.7 357.2L283.8 357.8L282.8 358.6L279.7 357.2Z M44.7 146.5L46.6 146.1L45.3 147.3L44.7 146.5Z M40.1 148.6L42.0 147.7L41.1 148.4L40.1 148.6Z M30.1 150.0L33.7 149.6L31.9 150.2L30.1 150.0Z M24.6 150.6L27.3 150.4L26.4 151.0L24.6 150.6Z M674.8 150.6L677.6 151.2L676.1 150.4L674.8 150.6Z M665.7 148.3L667.5 148.6L666.6 149.2L665.7 148.3Z M66.7 138.7L70.7 138.9L68.5 140.4L66.7 138.7Z M35.2 127.2L40.1 128.1L37.4 128.7L35.2 127.2Z M44.7 133.8L46.6 134.4L45.3 135.0L44.7 133.8Z M339.3 153.9L343.3 153.5L347.9 152.7L352.3 151.8L352.8 149.0L350.2 147.5L349.3 146.1L347.0 143.8L345.9 142.4L345.1 141.2L346.4 139.5L343.7 137.3L340.5 137.3L339.6 139.5L339.3 141.8L340.5 143.0L340.9 144.7L343.3 144.5L343.8 146.1L344.2 147.5L341.5 147.5L342.0 148.4L342.2 149.6L340.2 150.6L342.0 151.0L344.2 151.8L342.0 151.8L339.3 153.9Z M338.7 149.8L338.5 147.7L338.7 146.3L339.3 144.7L337.8 143.8L336.0 143.8L334.1 144.9L334.1 145.9L331.4 145.9L331.7 147.5L332.7 149.0L330.8 150.2L332.3 151.0L334.1 151.0L336.9 150.0L338.7 149.8Z M309.4 126.8L310.3 127.2L316.7 127.9L322.2 126.2L325.0 124.6L323.1 122.5L319.5 121.9L314.9 122.7L311.2 123.8L308.5 122.1L305.7 123.8L309.4 124.8L305.7 125.2L308.5 126.8L309.4 126.8Z M369.8 98.5L379.0 102.0L388.2 100.4L399.2 95.5L386.3 94.6L379.0 95.9L369.8 96.5L369.8 98.5Z M444.9 112.1L446.8 113.5L455.0 113.9L451.4 110.2L454.1 106.3L461.4 103.3L474.3 101.6L468.8 103.7L459.6 106.3L454.1 109.2L453.2 112.1L444.9 112.1Z M523.7 96.5L532.9 95.9L542.0 97.9L534.7 99.0L525.5 97.9L523.7 96.5Z M598.8 104.3L606.1 103.3L615.3 104.3L609.8 105.7L600.6 105.7L598.8 104.3Z M437.6 94.6L450.4 93.6L463.3 94.6L452.3 95.5L437.6 94.6Z M609.8 161.9L612.5 160.9L610.7 158.4L612.0 155.5L614.0 156.1L612.2 152.2L612.0 148.6L611.6 146.3L610.2 145.7L609.8 149.2L609.2 152.2L609.8 156.1L609.8 159.0L609.6 160.9L609.8 161.9Z M589.5 185.4L592.4 184.8L594.8 184.4L597.3 184.2L597.2 185.7L598.8 186.3L600.5 184.8L601.6 184.2L603.9 184.2L604.7 183.0L605.8 183.6L607.6 182.0L607.2 179.9L608.0 177.0L609.1 175.8L609.8 174.6L608.9 172.7L608.7 170.9L606.7 171.3L606.1 173.1L606.1 174.6L605.2 177.5L603.4 178.7L601.2 179.9L600.1 178.9L598.8 181.8L597.3 182.0L594.2 182.4L592.4 182.6L590.2 184.6L589.5 185.4Z M606.1 170.7L608.3 170.1L609.4 168.6L612.2 169.7L614.4 167.8L616.2 167.2L614.4 165.8L610.7 163.1L609.1 163.5L609.1 166.2L607.0 167.2L606.0 168.8L606.1 170.7Z M587.5 186.3L589.6 185.6L591.5 187.3L590.2 190.4L588.9 191.2L588.2 189.3L587.5 187.9L587.5 186.3Z M592.4 187.3L594.2 186.5L596.4 185.7L596.2 185.0L593.3 185.4L592.4 187.3Z M569.7 206.8L570.8 208.8L571.3 207.8L572.4 204.9L573.2 202.9L571.3 202.7L569.9 205.3L569.7 206.8Z M548.6 214.3L550.3 216.2L552.1 215.2L553.0 213.3L552.1 212.5L549.7 212.9L548.6 214.3Z M570.6 215.6L573.5 215.6L574.1 218.6L572.4 220.9L572.8 224.0L575.9 224.8L577.0 227.1L575.0 226.4L572.8 224.6L570.6 223.4L569.5 220.5L570.2 217.6L570.6 215.6Z M573.2 238.1L575.9 236.5L577.7 235.2L579.6 232.8L581.4 236.1L580.9 239.4L579.2 240.8L576.8 239.4L573.2 238.1Z M577.4 227.3L579.9 227.9L579.6 230.3L577.7 232.2L577.4 229.3L577.4 227.3Z M573.2 228.7L575.0 230.3L573.2 231.2L573.0 228.7Z M574.1 230.7L575.9 231.8L575.0 234.0L574.1 230.7Z M570.4 225.4L572.2 226.0L571.3 227.7L570.4 225.4Z M564.4 235.3L569.1 231.2L568.2 229.7L564.4 235.3Z M549.4 248.8L550.5 247.8L553.0 248.6L556.7 245.5L558.5 242.8L561.3 241.6L563.5 238.3L565.3 239.6L567.7 241.6L566.2 243.2L565.5 245.9L567.3 249.8L565.5 250.8L564.6 253.5L563.3 255.3L562.5 258.6L559.6 259.6L556.7 258.0L554.3 257.6L551.5 257.4L551.4 255.1L549.7 252.1L549.4 248.8Z M524.3 240.8L528.3 241.6L530.5 244.5L533.6 247.5L535.6 248.2L538.4 250.8L539.8 253.7L541.1 255.3L543.9 258.0L543.5 263.1L541.3 263.3L538.4 260.1L535.6 257.2L533.6 253.7L531.0 249.8L529.8 247.8L526.5 244.3L524.3 240.8Z M542.4 265.0L544.8 263.5L548.1 264.1L552.1 265.0L555.9 265.2L559.2 267.0L559.4 268.5L555.8 268.2L551.2 267.6L547.5 267.0L544.6 266.2L542.4 265.0Z M559.4 267.6L561.6 268.2L560.7 268.9L559.4 267.6Z M562.2 268.2L567.7 267.8L566.8 269.1L562.2 269.1L562.2 268.2Z M569.1 268.3L575.0 267.8L574.1 268.9L569.5 269.1L569.1 268.3Z M567.7 270.3L571.0 270.9L569.5 271.9L567.7 270.3Z M576.5 271.9L579.0 270.3L582.9 268.2L581.4 269.1L577.7 271.3L576.5 271.9Z M568.4 262.7L568.8 258.6L567.3 256.8L569.1 251.8L569.7 250.2L572.2 249.8L575.0 250.0L577.7 248.8L579.0 248.6L577.7 250.8L575.9 251.2L572.2 250.8L570.8 252.7L571.3 253.7L575.4 253.3L574.1 254.7L571.9 255.5L573.2 257.6L575.0 260.7L573.2 260.7L572.2 259.6L571.1 257.2L570.2 262.5L568.4 262.7Z M583.2 247.8L585.1 249.8L584.2 251.8L585.4 253.3L583.8 252.7L583.2 247.8Z M584.2 257.6L588.7 258.0L587.8 259.2L585.1 258.8L584.2 257.6Z M580.5 258.0L582.7 258.0L582.3 259.2L580.5 258.0Z M589.6 254.3L592.4 252.5L595.1 253.5L597.0 258.2L601.6 254.7L604.3 256.0L608.0 256.8L612.5 258.6L615.3 260.1L617.1 262.5L619.9 263.9L620.4 264.8L618.6 266.4L620.8 268.3L623.5 270.9L625.9 272.1L623.5 271.9L619.9 271.5L617.1 268.3L614.4 266.6L612.5 268.3L610.7 269.9L608.0 269.5L605.2 267.8L603.4 268.2L602.5 266.4L603.9 265.0L602.5 262.5L599.7 260.9L596.1 259.6L593.3 259.6L591.5 257.2L594.2 256.2L591.5 255.7L589.6 254.3Z M621.7 262.5L624.5 262.5L627.2 260.5L628.5 260.0L627.2 261.9L625.4 263.9L622.6 263.7L621.7 262.5Z M625.9 256.8L628.1 258.2L629.9 260.7L629.4 261.1L627.7 259.2L625.9 256.8Z M632.9 261.9L635.3 264.4L634.5 265.2L632.9 261.9Z M636.4 265.4L640.0 267.4L638.7 268.0L636.4 265.4Z M641.9 268.9L644.6 270.7L642.8 270.9L641.9 268.9Z M644.2 268.0L645.5 270.3L644.6 269.7L644.2 268.0Z M654.7 281.0L656.0 282.6L656.5 284.0L655.2 282.6L654.7 281.0Z M650.1 291.2L652.8 292.8L655.6 295.3L654.7 295.7L651.0 292.8L650.1 291.2Z M674.5 285.9L676.8 285.7L676.3 287.3L674.6 286.9L674.5 285.9Z M33.7 278.1L35.6 278.7L34.1 278.9L33.7 278.1Z M557.6 294.7L558.9 295.7L557.6 299.6L558.5 303.5L560.2 308.4L560.3 313.3L561.6 316.8L560.3 318.7L563.1 320.1L565.8 320.1L569.5 318.1L573.2 318.1L576.8 316.2L580.5 314.8L586.0 313.5L589.6 313.3L593.3 314.6L595.7 316.6L597.9 319.7L598.8 318.1L601.6 316.2L602.1 318.5L600.6 321.3L603.4 320.1L602.8 321.3L605.4 322.6L607.0 326.0L609.8 326.7L612.5 327.5L615.3 326.9L617.7 328.1L619.9 326.0L623.5 325.0L624.5 323.0L625.9 319.1L627.2 316.2L629.0 314.2L629.9 311.3L631.0 307.4L630.1 304.5L629.9 300.6L627.2 298.6L625.4 295.7L622.6 292.8L620.8 290.4L618.0 288.9L616.8 284.9L615.8 281.0L614.4 279.5L612.5 276.2L610.7 272.6L609.4 276.2L609.1 281.0L608.5 284.0L607.0 285.9L605.2 285.5L602.1 283.4L598.8 281.0L597.9 280.1L599.7 275.6L597.9 275.2L593.3 274.2L590.6 274.0L588.7 276.2L586.9 280.1L584.2 281.0L581.4 279.1L578.7 281.0L575.9 284.0L573.7 285.9L572.2 288.9L567.7 290.8L564.0 292.2L561.3 293.1L559.4 294.3L557.6 294.7Z M614.7 331.2L618.0 332.0L621.3 331.6L621.3 334.2L619.9 336.1L617.1 336.7L615.7 334.4L614.7 331.2Z M666.0 318.9L669.3 321.1L671.2 324.0L673.0 325.4L676.7 325.4L675.4 328.3L673.7 329.1L672.1 332.4L670.6 333.0L669.5 332.2L670.2 329.9L668.0 328.5L669.3 326.9L669.5 324.0L667.5 321.1L666.0 318.9Z M666.0 330.8L669.0 332.2L668.2 334.4L666.2 336.5L663.3 338.5L662.5 341.2L659.8 342.7L657.1 342.2L654.7 341.2L655.6 339.2L658.3 337.3L662.0 335.3L663.8 333.2L664.9 331.4L666.0 330.8Z M496.1 238.3L496.2 235.2L496.8 232.6L498.4 235.2L499.7 237.7L498.6 239.6L496.6 240.0L496.1 238.3Z M440.0 275.2L441.6 280.1L442.0 282.6L440.6 284.9L439.1 289.8L437.4 295.7L436.0 300.4L432.5 301.5L430.3 300.4L429.0 295.7L429.6 292.8L430.8 290.8L430.3 285.9L431.0 283.4L434.5 282.4L437.3 280.1L439.1 277.1L440.0 275.2Z M454.8 290.8L455.6 291.2L455.0 291.8L454.8 290.8Z M451.0 292.6L451.9 293.0L451.4 293.5L451.0 292.6Z M475.5 347.0L478.5 347.4L477.6 348.6L475.7 348.4L475.5 347.0Z M447.3 226.9L449.5 227.1L448.6 227.7L447.3 226.9Z M421.5 263.1L422.1 263.5L421.9 264.2L421.5 263.1Z M372.4 177.3L378.3 177.0L377.4 180.1L372.4 178.3L372.4 177.3Z M365.1 175.6L367.3 175.4L367.7 171.7L364.7 171.9L365.1 175.6Z M365.5 170.9L366.9 170.9L367.1 167.8L365.5 169.0L365.5 170.9Z M392.7 182.4L397.9 182.8L397.5 183.4L393.7 183.2L392.7 182.4Z M408.9 184.0L413.1 182.0L411.6 183.4L409.8 184.2L408.9 184.0Z M354.1 174.4L355.9 174.0L355.6 175.0L354.1 174.4Z M318.9 196.3L321.5 197.1L325.0 195.3L318.9 196.3Z M305.7 220.5L307.6 222.5L306.7 222.7L305.7 220.5Z M296.9 176.4L300.2 176.2L298.4 176.8L296.9 176.4Z M519.5 225.4L520.0 228.3L519.3 229.3L519.5 225.4Z M583.4 199.2L584.7 199.8L583.8 200.8L583.4 199.2Z M182.1 252.1L184.3 252.5L183.0 253.7L182.1 252.1Z M169.3 116.0L173.9 115.4L174.8 117.4L171.1 118.0L169.3 116.0Z M173.9 104.9L179.4 104.7L178.4 106.1L174.8 106.1L173.9 104.9Z M203.2 108.0L209.6 108.4L207.7 109.6L204.1 109.2L203.2 108.0Z M197.7 129.1L201.3 129.7L199.5 130.5L197.7 129.1Z M202.8 130.1L204.1 131.1L202.6 131.5L202.8 130.1Z M204.1 141.4L205.9 142.4L204.4 142.8L204.1 141.4Z M172.0 98.3L175.7 98.8L173.9 99.8L172.0 98.3Z M162.9 97.7L166.5 98.3L164.7 99.4L162.9 97.7Z M147.3 99.0L155.5 99.4L151.9 100.4L147.3 99.0Z M212.3 119.0L215.1 119.5L213.2 120.1L212.3 119.0Z M200.4 148.1L202.3 148.6L201.0 148.8L200.4 148.1Z M230.6 131.5L231.6 132.0L230.3 132.0L230.6 131.5Z M131.7 102.9L135.4 103.3L133.6 104.1L131.7 102.9Z M154.6 108.2L156.5 108.6L155.2 109.2L154.6 108.2Z M437.6 116.4L440.4 116.6L439.5 117.4L437.6 116.4Z M457.8 114.5L460.5 115.1L458.7 115.4L457.8 114.5Z M532.9 98.5L540.2 99.4L536.5 100.2L532.9 98.5Z M608.0 108.0L612.5 108.4L609.8 109.0L608.0 108.0Z M452.3 94.0L459.6 94.4L455.9 95.1L452.3 94.0Z M430.3 94.9L437.6 95.3L434.0 95.9L430.3 94.9Z M384.5 94.9L399.2 95.3L393.7 96.9L384.5 94.9Z M388.2 99.4L392.7 99.4L390.0 100.6L388.2 99.4Z M192.2 127.2L194.0 127.7L191.3 128.1L192.2 127.2Z M249.9 115.1L253.5 114.7L251.7 116.2L249.9 115.1Z M339.4 181.4L338.2 179.9L336.1 179.1L333.4 179.5L333.6 176.6L332.3 176.0L333.4 172.7L333.6 169.7L332.7 167.8L335.0 166.4L338.7 166.6L342.4 167.0L346.4 167.0L347.5 164.3L347.5 161.9L345.7 159.8L341.5 158.4L341.1 157.0L344.2 156.5L347.0 156.6L346.2 154.7L347.9 155.3L350.1 155.1L352.4 153.7L354.3 152.0L356.3 151.4L357.9 149.2L358.5 148.3L361.6 147.3L364.4 147.1L365.6 146.3L365.5 143.4L364.5 141.2L365.5 140.2L368.9 139.3L368.6 141.4L369.7 141.8L368.0 144.3L369.5 145.7L372.6 145.5L375.3 146.3L379.0 145.7L383.6 144.9L386.2 144.5L388.5 143.4L388.2 140.8L389.3 139.5L391.1 139.1L392.7 140.4L394.2 139.9L394.4 137.9L392.7 136.7L396.4 135.6L401.0 135.6L404.6 134.6L402.8 134.2L398.2 133.8L391.8 134.8L389.1 133.2L388.7 129.7L390.9 127.2L394.6 125.0L396.2 124.0L394.0 123.3L390.5 123.5L388.5 125.2L385.4 127.6L382.7 129.3L381.4 131.8L383.6 134.2L384.5 135.6L382.7 136.7L380.1 138.7L379.7 141.4L376.3 142.4L373.3 143.4L372.8 141.8L371.5 139.5L370.2 136.9L369.1 135.6L367.1 136.5L364.4 138.3L361.6 138.1L360.0 136.5L359.2 133.6L358.9 131.7L359.8 129.7L363.4 128.3L366.2 127.6L368.9 125.8L371.7 123.8L373.5 121.3L376.3 119.4L379.0 117.8L382.7 115.8L386.3 115.1L390.9 114.1L396.4 112.9L401.0 113.1L405.6 114.5L406.5 115.4L410.1 116.2L414.7 116.6L420.2 118.2L424.8 119.9L423.9 122.1L419.3 122.9L413.8 121.9L411.1 121.9L412.9 124.4L413.4 126.0L417.5 127.0L419.3 125.4L423.0 125.6L424.8 123.8L428.5 122.5L430.7 122.5L430.3 119.0L434.0 118.4L437.6 119.5L443.1 118.2L447.7 117.4L450.4 118.2L455.9 117.8L459.6 117.0L461.4 115.6L466.9 116.4L472.4 117.8L475.2 118.6L476.1 117.0L472.4 115.1L472.8 113.1L475.2 110.2L477.0 109.2L479.7 109.6L482.5 112.7L481.6 116.0L484.3 118.6L487.1 117.0L486.2 114.1L484.3 112.1L488.0 110.2L491.7 110.2L497.1 108.2L503.6 107.6L509.1 107.2L514.5 104.7L523.7 103.3L530.1 102.8L534.7 101.8L540.2 100.0L543.9 101.0L547.5 102.4L553.0 102.2L557.6 103.7L556.7 107.6L565.8 108.8L575.0 108.6L582.3 108.2L586.0 110.2L589.6 113.1L597.0 111.9L606.1 110.4L613.5 110.0L624.5 111.9L629.0 113.1L637.3 113.1L642.8 114.5L648.3 115.6L655.6 115.8L661.1 115.3L664.7 115.3L672.1 115.4L676.7 116.4L679.4 117.2L679.4 124.8L676.7 125.8L674.8 129.5L669.3 131.1L664.7 133.0L662.0 134.6L655.6 134.0L651.9 135.0L648.8 135.0L646.4 138.1L648.6 139.5L647.3 141.8L646.1 144.3L642.8 147.7L640.0 148.6L636.7 152.2L635.4 149.2L635.1 144.3L636.9 139.5L640.0 138.5L643.7 135.6L647.3 132.6L642.8 131.1L637.3 131.7L632.7 135.6L628.1 136.5L622.6 135.8L616.2 136.0L609.8 136.5L605.2 139.5L601.6 141.4L598.8 144.3L602.5 145.9L607.0 147.3L608.5 150.2L607.0 154.1L607.0 157.0L604.3 160.0L602.5 162.9L598.8 165.8L596.1 167.4L593.3 168.2L590.6 167.8L589.1 169.1L587.3 171.9L586.9 173.6L584.7 176.0L586.7 179.5L586.7 182.4L585.1 183.4L582.3 184.2L581.0 184.0L581.4 181.8L582.0 179.9L580.7 178.1L579.2 177.9L578.7 176.0L578.1 174.0L574.1 172.9L571.7 176.0L573.0 173.6L570.4 173.2L568.6 174.6L565.8 175.6L565.1 176.6L566.8 178.5L568.0 179.1L570.8 177.9L574.1 178.7L573.7 179.9L570.4 181.4L568.2 183.4L570.0 184.8L571.1 188.3L573.0 189.8L573.0 191.4L573.2 193.4L572.2 196.1L570.4 198.6L568.8 201.0L567.7 202.5L565.5 204.3L563.1 206.4L560.3 207.4L558.1 208.2L555.8 209.2L553.0 210.0L551.7 212.1L550.6 209.8L548.4 209.6L545.7 210.9L544.8 212.3L543.5 214.6L544.8 217.0L546.6 219.5L549.0 222.1L549.9 225.4L549.7 229.1L547.5 230.9L545.1 231.4L542.4 234.8L541.7 232.6L541.1 231.2L538.4 229.9L537.4 227.9L534.7 226.9L533.2 225.4L532.7 227.3L531.4 231.2L532.7 233.8L533.6 237.5L535.2 238.3L536.9 239.6L538.9 242.0L539.3 244.9L540.6 249.0L539.3 249.2L536.5 247.3L535.2 246.1L533.6 243.0L533.4 240.4L532.3 238.5L530.3 235.7L529.8 233.6L530.3 231.2L530.5 228.3L529.6 225.4L528.7 220.5L527.9 218.9L526.5 219.5L524.4 220.9L522.4 220.5L522.8 217.6L521.9 215.0L520.0 212.9L518.6 210.7L517.8 208.2L515.5 208.8L513.6 209.2L511.8 209.6L509.1 210.0L508.7 211.7L505.4 213.9L503.6 216.0L500.4 219.3L498.6 220.7L496.6 222.5L496.6 225.8L496.1 229.3L495.9 231.6L494.4 233.6L492.9 234.4L491.7 235.9L490.0 234.4L489.3 232.2L488.4 229.3L486.7 226.4L485.8 223.4L484.3 220.5L483.2 215.6L483.0 212.7L482.7 210.4L482.5 208.2L478.8 211.1L476.1 208.2L477.9 207.0L475.2 205.9L473.0 203.9L471.7 202.1L467.8 202.3L463.3 202.7L460.5 202.1L456.9 201.8L454.7 201.2L453.7 199.0L452.6 198.8L449.9 200.0L447.7 199.4L444.9 197.5L442.7 195.1L441.3 192.8L439.3 192.8L437.6 193.4L438.5 196.1L440.4 199.0L441.6 200.0L442.4 202.9L443.7 200.8L444.2 202.5L444.0 204.3L446.8 204.5L449.5 204.5L451.9 202.5L452.8 200.4L453.0 203.1L455.0 205.3L457.2 205.9L459.2 207.8L458.3 210.0L456.9 211.9L455.6 213.7L454.1 214.8L452.8 216.8L451.0 218.2L447.7 219.1L445.3 220.9L441.3 222.5L438.5 224.4L434.9 225.6L432.1 226.8L429.4 226.9L428.1 223.4L427.5 220.5L426.1 217.6L423.9 213.7L421.5 209.8L420.2 205.9L418.4 202.9L416.6 200.4L414.7 197.5L413.8 194.1L413.1 196.1L412.4 197.6L411.2 196.5L409.4 193.4L409.6 195.1L410.7 197.1L412.0 199.8L413.8 203.9L415.1 206.8L417.1 208.8L418.0 212.7L418.4 215.6L420.4 217.6L421.7 220.9L423.0 222.1L425.2 224.4L427.5 226.8L429.0 228.7L431.2 231.4L434.9 230.9L438.5 229.9L443.5 228.5L443.1 231.2L442.2 234.2L440.4 238.1L437.6 243.0L434.9 246.9L431.2 249.4L427.5 253.3L425.2 255.7L423.3 258.0L421.5 260.9L421.0 264.2L421.9 267.4L422.2 271.3L423.7 273.2L424.1 278.1L424.2 281.0L422.1 284.0L418.4 286.5L415.6 288.9L413.4 290.4L414.5 294.7L414.7 298.6L410.1 301.5L409.8 304.5L409.0 307.6L407.0 309.4L405.0 312.7L401.9 315.6L399.2 317.4L396.6 317.9L394.6 318.5L390.9 318.1L386.3 319.7L384.1 318.7L383.4 317.9L382.7 315.8L381.4 312.3L379.9 307.6L377.7 304.5L377.0 301.5L376.3 296.7L374.4 292.8L372.6 288.9L371.3 285.5L371.7 282.6L372.6 278.1L374.8 274.8L373.9 270.3L372.2 265.4L371.7 263.1L371.3 260.5L368.9 257.6L367.1 255.7L366.7 252.7L367.1 249.8L367.7 246.3L367.1 244.3L365.8 243.0L363.4 243.2L360.7 243.4L359.2 241.0L357.9 239.4L355.2 239.3L352.4 239.8L349.7 240.8L347.0 242.0L343.3 241.8L340.5 241.8L336.0 243.2L333.2 242.0L330.5 239.6L328.6 238.1L326.8 237.1L325.3 234.6L324.6 233.0L323.1 231.2L321.7 229.9L319.5 227.7L318.9 224.8L317.6 223.0L319.5 220.1L320.0 216.6L319.5 213.7L318.6 210.7L319.5 207.8L320.8 205.3L322.4 202.9L323.3 200.6L325.5 197.9L328.6 196.7L331.4 194.7L331.9 192.2L331.7 190.2L333.2 188.1L336.0 186.1L337.8 184.8L338.9 181.8L340.0 181.6L341.5 183.0L345.1 183.2L347.9 182.0L351.5 180.5L355.2 179.9L358.9 179.9L363.4 179.5L367.7 178.9L369.8 179.5L368.9 181.1L369.8 182.4L368.9 184.4L368.0 185.4L369.8 186.7L372.6 187.7L377.5 188.7L378.1 190.2L381.8 191.2L384.5 192.6L386.3 191.2L386.3 189.3L388.2 187.7L390.9 187.7L392.7 188.9L395.5 189.7L399.2 190.6L402.8 191.4L405.6 190.2L408.7 190.6L412.3 190.6L413.3 189.3L413.8 187.3L414.7 185.4L415.5 182.8L415.8 180.3L414.7 180.3L412.9 179.9L411.1 181.1L409.2 181.3L406.5 179.9L403.7 181.1L401.4 180.1L399.7 178.5L398.2 176.6L398.8 174.6L397.7 173.4L400.1 172.9L402.8 171.9L401.0 171.3L397.3 172.1L394.6 171.9L393.1 173.2L391.1 172.7L391.6 174.6L392.4 176.2L393.7 177.2L391.8 178.5L391.3 180.5L390.4 180.3L389.4 179.7L388.7 177.9L388.2 176.6L386.9 175.0L386.2 174.0L385.2 173.1L385.4 170.7L383.6 168.8L380.8 167.4L378.8 166.4L377.2 164.9L375.3 163.7L374.6 162.5L372.2 163.3L372.2 164.9L374.6 166.8L376.6 169.7L379.0 170.7L382.7 172.5L383.6 173.4L380.8 172.7L379.9 174.2L381.0 175.8L379.2 177.5L378.5 177.0L378.8 174.6L377.2 173.2L375.3 172.1L372.6 170.7L370.2 169.0L368.9 167.8L368.4 165.8L365.8 165.0L363.4 166.2L361.6 167.6L358.9 167.0L357.0 166.8L355.2 168.2L355.6 169.9L353.4 171.1L351.2 172.3L349.7 174.0L349.2 175.0L350.1 176.0L348.8 177.2L348.2 178.3L346.4 179.9L345.7 180.1L341.6 180.1L339.4 181.4Z M20.0 117.2L25.5 118.4L30.1 120.5L34.7 121.1L38.3 122.5L34.7 124.4L31.9 126.0L29.2 124.8L25.5 123.8L22.4 123.3L20.0 124.8L20.0 117.2Z M20.0 416.8L38.3 417.3L53.0 417.7L64.0 415.8L71.3 409.9L76.8 403.1L84.1 400.2L93.3 399.2L111.6 397.2L129.9 396.3L148.2 397.2L166.5 395.3L184.8 394.3L203.2 395.3L212.3 391.4L221.5 386.5L227.0 381.6L232.5 377.7L245.3 375.4L243.5 377.7L238.0 381.6L236.1 385.5L238.0 389.4L236.1 394.3L239.8 397.2L238.0 400.2L239.8 402.1L258.1 404.1L276.4 404.1L285.6 403.1L294.8 400.2L303.9 397.2L313.1 395.3L322.2 392.4L331.4 391.0L349.7 389.0L368.0 388.4L386.3 388.1L404.6 387.5L413.8 387.1L423.0 386.5L432.1 383.6L441.3 382.2L450.4 381.6L459.6 383.6L468.8 383.8L477.9 385.5L481.6 388.4L477.9 392.4L487.1 387.5L496.2 383.6L505.4 382.2L514.5 381.6L523.7 381.6L532.9 380.2L542.0 380.6L551.2 381.0L560.3 382.2L569.5 382.2L578.7 381.2L587.8 381.0L597.0 380.6L606.1 382.0L615.3 383.6L624.5 385.7L633.6 386.9L642.8 388.4L651.9 390.4L661.1 391.4L657.4 395.3L651.9 398.2L647.3 402.1L642.8 407.0L648.3 410.9L657.4 413.8L668.4 414.8L679.4 416.8L679.4 427.5L20.0 427.5Z"/></clipPath><filter id="bl1" x="-50%" y="-50%" width="200%" height="200%"><feGaussianBlur stdDeviation="1"/></filter><filter id="bl2" x="-50%" y="-50%" width="200%" height="200%"><feGaussianBlur stdDeviation="2"/></filter><filter id="bl3" x="-50%" y="-50%" width="200%" height="200%"><feGaussianBlur stdDeviation="3"/></filter><filter id="bl4" x="-50%" y="-50%" width="200%" height="200%"><feGaussianBlur stdDeviation="4"/></filter><filter id="lb" x="-5%" y="-5%" width="110%" height="110%"><feGaussianBlur stdDeviation="1.2"/></filter></defs><rect x="0.5" y="0.5" width="699" height="496" fill="#fff" stroke="#d8d8d8" stroke-width="1"/><rect x="16.2" y="72.9" width="667.4" height="358.4" fill="#000"/><rect x="17.00" y="74" width="57.95" height="2" fill="#fff"/><rect x="17.00" y="427.50" width="57.95" height="2.5" fill="#fff"/><rect x="74.95" y="74" width="54.95" height="2" fill="#000"/><rect x="74.95" y="427.50" width="54.95" height="2.5" fill="#000"/><rect x="129.90" y="74" width="54.95" height="2" fill="#fff"/><rect x="129.90" y="427.50" width="54.95" height="2.5" fill="#fff"/><rect x="184.85" y="74" width="54.95" height="2" fill="#000"/><rect x="184.85" y="427.50" width="54.95" height="2.5" fill="#000"/><rect x="239.80" y="74" width="54.95" height="2" fill="#fff"/><rect x="239.80" y="427.50" width="54.95" height="2.5" fill="#fff"/><rect x="294.75" y="74" width="54.95" height="2" fill="#000"/><rect x="294.75" y="427.50" width="54.95" height="2.5" fill="#000"/><rect x="349.70" y="74" width="54.95" height="2" fill="#fff"/><rect x="349.70" y="427.50" width="54.95" height="2.5" fill="#fff"/><rect x="404.65" y="74" width="54.95" height="2" fill="#000"/><rect x="404.65" y="427.50" width="54.95" height="2.5" fill="#000"/><rect x="459.60" y="74" width="54.95" height="2" fill="#fff"/><rect x="459.60" y="427.50" width="54.95" height="2.5" fill="#fff"/><rect x="514.55" y="74" width="54.95" height="2" fill="#000"/><rect x="514.55" y="427.50" width="54.95" height="2.5" fill="#000"/><rect x="569.50" y="74" width="54.95" height="2" fill="#fff"/><rect x="569.50" y="427.50" width="54.95" height="2.5" fill="#fff"/><rect x="624.45" y="74" width="54.95" height="2" fill="#000"/><rect x="624.45" y="427.50" width="54.95" height="2.5" fill="#000"/><rect x="17.5" y="76.00" width="2.5" height="58.58" fill="#000"/><rect x="679.4" y="76.00" width="2.5" height="58.58" fill="#000"/><rect x="17.5" y="134.58" width="2.5" height="58.58" fill="#fff"/><rect x="679.4" y="134.58" width="2.5" height="58.58" fill="#fff"/><rect x="17.5" y="193.17" width="2.5" height="58.58" fill="#000"/><rect x="679.4" y="193.17" width="2.5" height="58.58" fill="#000"/><rect x="17.5" y="251.75" width="2.5" height="58.58" fill="#fff"/><rect x="679.4" y="251.75" width="2.5" height="58.58" fill="#fff"/><rect x="17.5" y="310.33" width="2.5" height="58.58" fill="#000"/><rect x="679.4" y="310.33" width="2.5" height="58.58" fill="#000"/><rect x="17.5" y="368.92" width="2.5" height="58.58" fill="#fff"/><rect x="679.4" y="368.92" width="2.5" height="58.58" fill="#fff"/><rect x="679.4" y="74" width="2.5" height="2" fill="#fff"/><g clip-path="url(#mapclip)"><g shape-rendering="crispEdges"><rect x="20.00" y="76.0" width="14.74" height="351.5" fill="url(#s0)"/><rect x="33.74" y="76.0" width="14.74" height="351.5" fill="url(#s1)"/><rect x="47.48" y="76.0" width="14.74" height="351.5" fill="url(#s2)"/><rect x="61.21" y="76.0" width="14.74" height="351.5" fill="url(#s3)"/><rect x="74.95" y="76.0" width="14.74" height="351.5" fill="url(#s4)"/><rect x="88.69" y="76.0" width="14.74" height="351.5" fill="url(#s5)"/><rect x="102.42" y="76.0" width="14.74" height="351.5" fill="url(#s6)"/><rect x="116.16" y="76.0" width="14.74" height="351.5" fill="url(#s7)"/><rect x="129.90" y="76.0" width="14.74" height="351.5" fill="url(#s8)"/><rect x="143.64" y="76.0" width="14.74" height="351.5" fill="url(#s9)"/><rect x="157.38" y="76.0" width="14.74" height="351.5" fill="url(#s10)"/><rect x="171.11" y="76.0" width="14.74" height="351.5" fill="url(#s11)"/><rect x="184.85" y="76.0" width="14.74" height="351.5" fill="url(#s12)"/><rect x="198.59" y="76.0" width="14.74" height="351.5" fill="url(#s13)"/><rect x="212.32" y="76.0" width="14.74" height="351.5" fill="url(#s14)"/><rect x="226.06" y="76.0" width="14.74" height="351.5" fill="url(#s15)"/><rect x="239.80" y="76.0" width="14.74" height="351.5" fill="url(#s16)"/><rect x="253.54" y="76.0" width="14.74" height="351.5" fill="url(#s17)"/><rect x="267.27" y="76.0" width="14.74" height="351.5" fill="url(#s18)"/><rect x="281.01" y="76.0" width="14.74" height="351.5" fill="url(#s19)"/><rect x="294.75" y="76.0" width="14.74" height="351.5" fill="url(#s20)"/><rect x="308.49" y="76.0" width="14.74" height="351.5" fill="url(#s21)"/><rect x="322.23" y="76.0" width="14.74" height="351.5" fill="url(#s22)"/><rect x="335.96" y="76.0" width="14.74" height="351.5" fill="url(#s23)"/><rect x="349.70" y="76.0" width="14.74" height="351.5" fill="url(#s24)"/><rect x="363.44" y="76.0" width="14.74" height="351.5" fill="url(#s25)"/><rect x="377.18" y="76.0" width="14.74" height="351.5" fill="url(#s26)"/><rect x="390.91" y="76.0" width="14.74" height="351.5" fill="url(#s27)"/><rect x="404.65" y="76.0" width="14.74" height="351.5" fill="url(#s28)"/><rect x="418.39" y="76.0" width="14.74" height="351.5" fill="url(#s29)"/><rect x="432.12" y="76.0" width="14.74" height="351.5" fill="url(#s30)"/><rect x="445.86" y="76.0" width="14.74" height="351.5" fill="url(#s31)"/><rect x="459.60" y="76.0" width="14.74" height="351.5" fill="url(#s32)"/><rect x="473.34" y="76.0" width="14.74" height="351.5" fill="url(#s33)"/><rect x="487.07" y="76.0" width="14.74" height="351.5" fill="url(#s34)"/><rect x="500.81" y="76.0" width="14.74" height="351.5" fill="url(#s35)"/><rect x="514.55" y="76.0" width="14.74" height="351.5" fill="url(#s36)"/><rect x="528.29" y="76.0" width="14.74" height="351.5" fill="url(#s37)"/><rect x="542.02" y="76.0" width="14.74" height="351.5" fill="url(#s38)"/><rect x="555.76" y="76.0" width="14.74" height="351.5" fill="url(#s39)"/><rect x="569.50" y="76.0" width="14.74" height="351.5" fill="url(#s40)"/><rect x="583.24" y="76.0" width="14.74" height="351.5" fill="url(#s41)"/><rect x="596.98" y="76.0" width="14.74" height="351.5" fill="url(#s42)"/><rect x="610.71" y="76.0" width="14.74" height="351.5" fill="url(#s43)"/><rect x="624.45" y="76.0" width="14.74" height="351.5" fill="url(#s44)"/><rect x="638.19" y="76.0" width="14.74" height="351.5" fill="url(#s45)"/><rect x="651.92" y="76.0" width="14.74" height="351.5" fill="url(#s46)"/><rect x="665.66" y="76.0" width="14.74" height="351.5" fill="url(#s47)"/></g><g filter="url(#lb)"><g clip-path="url(#landclip)" shape-rendering="crispEdges"><rect x="20.00" y="150.21" width="28.48" height="210.90" fill="url(#l0)"/><rect x="47.48" y="150.21" width="28.48" height="210.90" fill="url(#l1)"/><rect x="74.95" y="150.21" width="28.47" height="210.90" fill="url(#l2)"/><rect x="102.42" y="150.21" width="28.48" height="210.90" fill="url(#l3)"/><rect x="129.90" y="150.21" width="28.47" height="210.90" fill="url(#l4)"/><rect x="157.38" y="150.21" width="28.47" height="210.90" fill="url(#l5)"/><rect x="184.85" y="150.21" width="28.47" height="210.90" fill="url(#l6)"/><rect x="212.32" y="150.21" width="28.48" height="210.90" fill="url(#l7)"/><rect x="239.80" y="150.21" width="28.47" height="210.90" fill="url(#l8)"/><rect x="267.27" y="150.21" width="28.48" height="210.90" fill="url(#l9)"/><rect x="294.75" y="150.21" width="28.48" height="210.90" fill="url(#l10)"/><rect x="322.23" y="150.21" width="28.47" height="210.90" fill="url(#l11)"/><rect x="349.70" y="150.21" width="28.48" height="210.90" fill="url(#l12)"/><rect x="377.18" y="150.21" width="28.47" height="210.90" fill="url(#l13)"/><rect x="404.65" y="150.21" width="28.48" height="210.90" fill="url(#l14)"/><rect x="432.12" y="150.21" width="28.48" height="210.90" fill="url(#l15)"/><rect x="459.60" y="150.21" width="28.47" height="210.90" fill="url(#l16)"/><rect x="487.07" y="150.21" width="28.47" height="210.90" fill="url(#l17)"/><rect x="514.55" y="150.21" width="28.48" height="210.90" fill="url(#l18)"/><rect x="542.02" y="150.21" width="28.48" height="210.90" fill="url(#l19)"/><rect x="569.50" y="150.21" width="28.48" height="210.90" fill="url(#l20)"/><rect x="596.98" y="150.21" width="28.48" height="210.90" fill="url(#l21)"/><rect x="624.45" y="150.21" width="28.47" height="210.90" fill="url(#l22)"/><rect x="651.92" y="150.21" width="28.48" height="210.90" fill="url(#l23)"/></g></g><ellipse cx="395.5" cy="230.3" rx="22.0" ry="9.4" fill="#ff9800" filter="url(#bl3)"/><ellipse cx="146.4" cy="179.5" rx="22.0" ry="11.7" fill="#00ff7d" filter="url(#bl4)"/><ellipse cx="161.0" cy="206.8" rx="8.8" ry="9.4" fill="#ffe600" filter="url(#bl3)"/><ellipse cx="230.6" cy="242.0" rx="5.5" ry="3.5" fill="#fe0091" filter="url(#bl1)"/><ellipse cx="420.2" cy="234.2" rx="6.6" ry="9.4" fill="#ff0070" filter="url(#bl2)"/><ellipse cx="410.1" cy="255.7" rx="11.0" ry="9.4" fill="#ff5100" filter="url(#bl3)"/><ellipse cx="403.7" cy="254.7" rx="3.3" ry="4.7" fill="#fd009d" filter="url(#bl1)"/><ellipse cx="412.0" cy="252.7" rx="6.6" ry="5.9" fill="#ff0076" filter="url(#bl2)"/><ellipse cx="416.6" cy="257.6" rx="4.4" ry="4.7" fill="#ff0076" filter="url(#bl1)"/><ellipse cx="507.2" cy="187.3" rx="28.6" ry="9.4" fill="#8dff00" filter="url(#bl3)"/><ellipse cx="485.2" cy="181.4" rx="6.6" ry="4.7" fill="#00ff56" filter="url(#bl1)"/><ellipse cx="604.3" cy="260.0" rx="6.6" ry="2.8" fill="#fa00af" filter="url(#bl1)"/><ellipse cx="613.5" cy="262.5" rx="5.5" ry="2.8" fill="#fa00ad" filter="url(#bl1)"/><ellipse cx="558.5" cy="250.8" rx="6.6" ry="5.9" fill="#ff3020" filter="url(#bl2)"/><ellipse cx="571.3" cy="255.7" rx="4.0" ry="4.7" fill="#ff1050" filter="url(#bl1)"/><path d="M213.2 238.1 L209.6 243.9 L206.8 249.8 L205.9 257.6 L207.7 265.4 L211.4 272.3 L216.9 279.1 L222.4 284.0 L225.1 288.9 L226.4 294.7" fill="none" stroke="#f600cb" stroke-width="4" stroke-linecap="round" stroke-linejoin="round" filter="url(#bl1)"/></g><g stroke="#000" stroke-width="1.6" stroke-opacity="0.72" stroke-dasharray="2.0 2.2" clip-path="url(#brightclip)"><line x1="74.95" y1="76.0" x2="74.95" y2="427.5"/><line x1="129.90" y1="76.0" x2="129.90" y2="427.5"/><line x1="184.85" y1="76.0" x2="184.85" y2="427.5"/><line x1="239.80" y1="76.0" x2="239.80" y2="427.5"/><line x1="294.75" y1="76.0" x2="294.75" y2="427.5"/><line x1="349.70" y1="76.0" x2="349.70" y2="427.5"/><line x1="404.65" y1="76.0" x2="404.65" y2="427.5"/><line x1="459.60" y1="76.0" x2="459.60" y2="427.5"/><line x1="514.55" y1="76.0" x2="514.55" y2="427.5"/><line x1="569.50" y1="76.0" x2="569.50" y2="427.5"/><line x1="624.45" y1="76.0" x2="624.45" y2="427.5"/><line x1="20.0" y1="368.92" x2="679.4" y2="368.92"/><line x1="20.0" y1="310.33" x2="679.4" y2="310.33"/><line x1="20.0" y1="251.75" x2="679.4" y2="251.75"/><line x1="20.0" y1="193.17" x2="679.4" y2="193.17"/><line x1="20.0" y1="134.58" x2="679.4" y2="134.58"/></g><g stroke="#000" stroke-width="1.1" stroke-opacity="0.32" clip-path="url(#darkclip)"><line x1="74.95" y1="76.0" x2="74.95" y2="427.5"/><line x1="129.90" y1="76.0" x2="129.90" y2="427.5"/><line x1="184.85" y1="76.0" x2="184.85" y2="427.5"/><line x1="239.80" y1="76.0" x2="239.80" y2="427.5"/><line x1="294.75" y1="76.0" x2="294.75" y2="427.5"/><line x1="349.70" y1="76.0" x2="349.70" y2="427.5"/><line x1="404.65" y1="76.0" x2="404.65" y2="427.5"/><line x1="459.60" y1="76.0" x2="459.60" y2="427.5"/><line x1="514.55" y1="76.0" x2="514.55" y2="427.5"/><line x1="569.50" y1="76.0" x2="569.50" y2="427.5"/><line x1="624.45" y1="76.0" x2="624.45" y2="427.5"/></g><g stroke="#000" stroke-width="1.6" stroke-opacity="0.4" stroke-dasharray="2.0 2.2" clip-path="url(#darkclip)"><line x1="20.0" y1="368.92" x2="679.4" y2="368.92"/><line x1="20.0" y1="310.33" x2="679.4" y2="310.33"/><line x1="20.0" y1="251.75" x2="679.4" y2="251.75"/><line x1="20.0" y1="193.17" x2="679.4" y2="193.17"/><line x1="20.0" y1="134.58" x2="679.4" y2="134.58"/></g><path d="M41.8 123.6L45.3 122.5L48.6 121.7L49.9 122.7L53.5 122.7L52.1 121.1L49.7 119.5L46.7 119.0L44.2 118.3L45.5 117.2L51.1 115.6L54.8 114.5L60.3 113.4L62.9 112.4L66.7 113.3L71.3 113.4L75.9 114.1L82.3 114.8L87.2 114.9L91.4 115.7L95.1 116.0L98.8 117.1L102.4 116.2L105.2 116.1L109.8 115.3L112.5 115.1L115.2 114.3L118.9 116.0L121.7 116.2L126.2 115.4L129.9 116.2L134.5 117.0L139.1 117.2L142.7 118.0L148.2 119.0L151.9 117.8L155.5 117.4L159.2 118.8L164.7 119.4L169.3 119.4L172.0 118.0L174.8 118.8L177.5 117.0L176.6 114.1L174.8 111.5L178.4 111.7L181.2 114.7L182.1 116.0L184.8 117.8L188.5 118.6L190.3 120.3L193.1 117.2L194.0 115.4L198.6 115.8L200.8 118.0L200.4 120.3L196.8 122.5L192.2 122.3L190.3 124.4L188.5 126.4L183.9 127.7L178.4 131.7L176.6 135.6L177.5 137.1L180.3 140.1L184.8 140.4L188.5 141.8L194.0 143.8L199.0 144.2L199.1 148.4L202.3 151.6L205.0 151.2L205.4 148.3L205.0 145.3L208.7 142.8L209.6 139.5L207.7 136.5L208.1 133.6L206.8 130.1L211.4 130.1L216.0 130.7L218.7 132.2L221.5 132.6L222.4 135.6L225.1 137.3L227.9 137.1L230.6 135.4L231.6 134.0L233.4 136.9L236.1 139.5L237.1 142.0L239.8 143.8L243.5 145.5L244.7 147.9L247.7 149.8L245.3 151.2L239.8 153.7L234.3 153.5L227.9 153.7L224.2 155.7L221.5 158.0L219.7 160.2L223.3 158.0L227.9 155.7L231.9 156.3L231.0 158.4L230.6 160.0L231.6 161.3L233.4 162.3L237.1 162.7L239.8 162.1L238.0 163.3L233.4 164.7L229.4 166.6L228.4 164.7L231.6 163.3L227.0 164.3L224.2 165.4L221.1 166.6L220.0 168.6L221.5 170.1L220.6 170.7L218.7 170.9L215.1 171.9L214.2 172.7L214.0 174.0L212.5 175.8L212.1 177.0L210.5 179.1L211.0 181.6L211.4 183.0L209.6 184.0L207.0 185.6L204.6 186.9L202.3 188.7L201.0 190.2L200.6 192.6L202.1 196.1L203.2 199.4L202.8 202.0L201.3 202.5L200.1 201.0L198.4 198.0L198.0 195.5L196.4 193.4L194.9 193.2L193.3 193.8L191.3 192.4L188.5 192.0L185.8 192.8L186.3 194.7L183.9 194.9L181.2 193.9L177.9 193.8L175.7 194.5L172.9 196.3L171.5 198.0L171.3 201.0L170.7 203.9L170.6 207.8L171.7 211.1L173.1 213.7L174.8 215.2L176.6 216.2L180.3 215.4L182.5 215.4L183.9 213.1L184.1 210.7L187.6 209.8L190.3 209.8L189.6 211.7L188.9 214.6L188.0 216.0L188.1 218.6L187.4 220.7L189.4 220.9L192.2 220.7L194.9 220.9L197.1 222.5L196.9 225.4L196.4 229.3L196.6 230.7L198.6 233.2L200.4 234.6L203.2 233.6L205.0 233.2L207.7 235.0L208.7 235.0L209.9 233.6L211.2 231.2L212.7 230.3L215.1 229.7L217.5 228.5L219.1 227.7L218.6 230.3L219.7 231.8L220.9 229.3L221.5 228.3L222.4 229.3L224.6 231.1L227.9 231.1L231.6 231.8L234.3 230.9L236.3 230.9L235.2 232.2L238.0 234.2L239.8 235.3L241.6 237.1L243.5 238.5L245.3 240.0L249.0 240.2L251.7 241.0L254.5 242.6L255.7 243.9L257.2 247.8L258.1 249.8L258.3 251.8L257.2 252.7L260.9 253.1L262.7 252.9L266.4 254.3L268.7 256.6L271.9 257.2L275.5 257.2L279.2 259.0L281.6 261.3L284.7 261.9L285.6 264.4L285.8 267.4L284.9 270.3L282.8 272.4L281.0 275.2L279.2 277.1L278.3 280.1L278.3 284.9L277.0 289.8L275.5 292.4L274.6 294.7L272.8 296.7L269.1 296.9L265.4 298.6L262.7 300.4L260.9 302.5L260.7 306.0L259.0 308.4L257.2 311.9L255.4 313.8L253.5 316.2L251.7 317.8L249.9 319.3L247.1 319.9L244.4 319.1L242.5 318.5L244.4 321.1L245.8 323.0L244.4 326.0L241.6 327.5L237.1 327.9L235.6 328.9L235.8 331.0L233.4 332.0L230.6 331.8L231.6 334.2L233.0 334.9L231.0 336.1L230.1 338.6L227.9 339.6L226.1 341.6L227.9 343.5L229.0 345.1L226.1 347.4L224.2 349.8L223.3 351.3L224.4 353.9L224.0 355.2L226.1 357.2L230.3 358.6L227.9 359.2L224.2 359.9L220.6 359.2L216.9 357.2L214.2 354.3L212.3 352.3L211.4 347.4L213.2 343.5L211.4 342.6L214.2 339.6L215.1 336.7L214.2 333.8L214.7 330.8L215.3 327.9L214.9 324.6L216.4 321.7L218.2 318.1L218.7 314.2L218.6 310.3L218.9 306.4L220.0 302.5L220.6 298.6L221.1 294.7L221.1 290.8L220.9 287.7L218.7 285.7L216.0 284.0L212.3 281.8L210.1 278.9L209.0 276.2L207.4 273.2L205.9 270.3L204.4 267.0L203.2 265.0L201.2 263.5L201.0 261.5L200.8 260.0L202.6 258.4L203.5 256.6L201.5 256.0L201.7 253.7L203.0 250.8L203.2 249.8L205.2 248.8L205.9 246.9L207.7 244.9L208.1 243.0L207.9 240.0L207.2 238.1L206.1 235.7L204.1 234.4L202.6 235.7L202.4 237.3L201.0 236.9L199.9 235.9L197.7 235.5L196.4 235.0L194.4 232.6L192.7 232.4L192.5 230.3L190.7 227.7L189.2 226.2L187.6 226.0L184.8 224.8L182.1 224.4L180.3 223.2L178.4 221.3L176.6 220.1L173.9 221.1L171.1 220.5L168.4 219.3L165.6 218.2L163.2 216.8L160.1 216.0L158.3 214.3L156.5 212.1L156.8 209.8L155.9 207.6L154.1 205.5L151.9 202.9L149.5 200.0L147.3 197.5L145.5 195.5L143.6 193.2L142.4 190.8L139.4 189.7L140.0 192.8L141.8 195.1L143.1 197.5L144.6 200.0L146.4 202.9L147.7 204.5L149.3 206.4L148.2 207.0L146.4 204.9L144.2 203.3L144.0 201.0L141.8 199.4L140.0 197.5L140.5 196.1L138.1 194.1L136.7 191.6L135.8 189.7L135.0 187.9L134.5 186.5L132.8 185.4L131.2 184.8L128.8 184.2L128.4 182.4L126.4 180.3L125.5 178.5L124.4 177.3L123.1 175.6L122.6 173.6L122.0 172.7L122.4 170.1L121.8 168.2L122.4 165.8L122.6 161.5L121.5 157.2L123.5 157.6L124.8 156.1L123.5 155.1L120.9 154.1L119.8 153.1L117.1 152.2L115.8 150.2L114.3 148.6L112.1 145.9L110.7 144.7L108.8 143.4L107.0 141.4L105.2 139.5L103.3 137.9L100.6 137.5L97.8 136.7L94.2 135.2L90.5 134.6L86.9 134.6L83.2 133.6L79.5 132.8L77.7 134.0L75.9 135.2L73.1 136.0L71.5 135.2L72.2 133.0L75.0 132.2L71.3 133.6L69.5 135.6L67.6 136.9L64.9 138.5L63.0 139.9L60.3 141.4L57.5 142.8L54.8 143.6L52.1 144.3L49.3 144.9L47.8 145.3L50.2 144.2L53.0 142.6L55.7 141.8L58.5 139.9L61.2 137.9L59.4 136.9L55.7 137.1L53.3 136.9L52.6 135.0L49.7 134.6L47.8 133.4L46.9 131.7L45.6 130.3L47.8 129.1L48.4 128.3L52.1 127.7L54.8 126.8L54.8 125.8L51.5 126.0L48.4 125.8L45.3 125.6L44.2 124.4L41.8 123.6Z M216.9 98.5L227.0 96.5L231.6 93.6L239.8 91.6L258.1 90.6L276.4 88.7L294.8 88.7L309.4 90.6L318.6 92.6L327.7 92.6L316.7 95.5L314.9 98.5L315.8 101.4L313.1 104.3L311.2 107.2L309.4 110.2L309.4 113.1L304.8 115.1L302.1 118.0L294.8 119.0L289.3 119.9L285.6 122.5L280.1 123.8L276.4 125.8L274.6 128.7L271.9 131.7L270.0 134.6L267.3 134.2L263.6 133.0L260.9 131.7L258.1 129.1L256.3 126.8L253.5 123.8L251.7 120.9L252.6 118.0L256.3 116.0L254.5 114.1L249.9 112.1L249.0 110.2L245.3 107.2L241.6 104.3L236.1 102.9L228.8 103.3L223.3 102.4L218.7 100.4L216.9 98.5Z M203.2 107.8L210.5 109.6L217.8 112.1L224.2 114.5L227.0 116.4L231.6 120.3L236.5 121.9L234.3 124.8L230.6 126.4L231.6 128.3L227.9 130.7L223.3 129.5L218.7 127.7L214.2 125.8L215.1 122.9L216.9 120.3L213.2 118.0L207.7 116.0L203.2 115.1L199.5 114.7L194.9 112.5L191.3 110.2L194.0 108.0L203.2 107.8Z M131.7 112.1L134.5 109.6L140.9 108.8L146.4 109.6L153.7 108.2L157.4 110.2L162.9 113.1L164.7 115.1L159.2 117.4L153.7 117.0L148.2 117.4L142.7 117.8L135.4 116.0L132.6 114.1L131.7 112.1Z M120.7 110.6L123.5 106.9L129.9 106.7L135.4 108.2L130.8 110.2L126.2 112.7L120.7 111.5L120.7 110.6Z M184.8 102.4L199.5 102.8L206.8 101.4L206.8 98.5L214.2 96.5L221.5 94.6L232.5 92.0L236.1 90.6L221.5 89.7L203.2 89.7L184.8 92.6L181.2 94.6L188.5 96.5L184.8 98.5L186.7 100.4L184.8 102.4Z M181.2 106.3L199.5 106.3L203.2 105.3L199.5 103.3L188.5 102.4L181.2 103.7L181.2 106.3Z M137.2 103.3L148.2 102.8L159.2 103.3L157.4 104.7L148.2 104.7L137.2 105.3L134.5 104.3L137.2 103.3Z M173.9 99.4L181.2 94.9L188.5 96.5L184.8 98.5L177.5 100.4L173.9 99.4Z M164.7 110.2L170.2 107.6L173.9 109.2L172.0 111.5L166.5 111.2L164.7 110.2Z M175.7 111.2L179.4 107.2L183.0 107.8L182.1 110.2L175.7 111.2Z M189.4 126.8L195.8 126.4L201.3 125.8L197.7 124.2L194.0 123.8L191.3 122.9L190.3 124.4L189.4 126.8Z M164.7 104.3L172.0 102.4L173.9 104.3L170.2 105.7L164.7 104.3Z M126.2 102.4L135.4 100.4L139.1 101.8L133.6 103.3L126.2 102.4Z M240.9 158.8L242.7 157.0L243.8 155.1L245.3 152.7L248.0 151.0L247.9 153.7L250.8 155.1L252.1 157.0L253.2 159.0L251.7 160.6L250.4 159.4L248.0 160.2L246.2 158.8L240.9 158.8Z M114.7 152.5L119.8 156.5L123.7 157.2L121.7 154.9L117.1 153.1L114.7 152.5Z M194.2 209.0L196.8 207.0L199.5 206.4L202.3 206.8L205.9 208.0L208.3 209.6L211.0 210.5L213.8 212.3L211.4 212.9L207.7 213.1L208.1 211.3L205.9 209.8L202.3 208.8L199.5 208.2L197.7 208.8L194.2 209.0Z M213.4 215.8L216.4 212.9L219.7 212.9L223.3 214.3L224.4 215.4L222.4 215.8L219.7 216.6L216.9 216.2L213.4 215.8Z M206.3 215.8L209.6 216.2L209.9 216.8L207.7 217.0L206.3 215.8Z M226.6 215.6L229.5 215.8L229.4 216.6L226.6 216.6L226.6 215.6Z M206.8 199.4L208.7 200.0L208.3 201.2L206.8 199.4Z M206.5 202.5L207.4 204.3L207.7 204.9L206.5 202.5Z M210.1 202.5L210.9 204.3L211.8 204.9L210.1 202.5Z M64.1 212.3L65.8 213.5L64.5 214.8L64.0 213.3L64.1 212.3Z M62.7 210.9L64.0 211.1L63.2 211.5L62.7 210.9Z M59.7 209.6L60.8 210.0L60.1 210.2L59.7 209.6Z M57.0 208.4L57.9 208.6L57.5 209.0L57.0 208.4Z M237.4 352.3L240.7 351.9L243.8 352.5L242.5 353.7L238.9 353.7L237.4 352.3Z M279.7 357.2L283.8 357.8L282.8 358.6L279.7 357.2Z M44.7 146.5L46.6 146.1L45.3 147.3L44.7 146.5Z M40.1 148.6L42.0 147.7L41.1 148.4L40.1 148.6Z M30.1 150.0L33.7 149.6L31.9 150.2L30.1 150.0Z M24.6 150.6L27.3 150.4L26.4 151.0L24.6 150.6Z M674.8 150.6L677.6 151.2L676.1 150.4L674.8 150.6Z M665.7 148.3L667.5 148.6L666.6 149.2L665.7 148.3Z M66.7 138.7L70.7 138.9L68.5 140.4L66.7 138.7Z M35.2 127.2L40.1 128.1L37.4 128.7L35.2 127.2Z M44.7 133.8L46.6 134.4L45.3 135.0L44.7 133.8Z M339.4 181.4L338.2 179.9L336.1 179.1L333.4 179.5L333.6 176.6L332.3 176.0L333.4 172.7L333.6 169.7L332.7 167.8L335.0 166.4L338.7 166.6L342.4 167.0L346.4 167.0L347.5 164.3L347.5 161.9L345.7 159.8L341.5 158.4L341.1 157.0L344.2 156.5L347.0 156.6L346.2 154.7L347.9 155.3L350.1 155.1L352.4 153.7L354.3 152.0L356.3 151.4L357.9 149.2L358.5 148.3L361.6 147.3L364.4 147.1L365.6 146.3L365.5 143.4L364.5 141.2L365.5 140.2L368.9 139.3L368.6 141.4L369.7 141.8L368.0 144.3L369.5 145.7L372.6 145.5L375.3 146.3L379.0 145.7L383.6 144.9L386.2 144.5L388.5 143.4L388.2 140.8L389.3 139.5L391.1 139.1L392.7 140.4L394.2 139.9L394.4 137.9L392.7 136.7L396.4 135.6L401.0 135.6L404.6 134.6L402.8 134.2L398.2 133.8L391.8 134.8L389.1 133.2L388.7 129.7L390.9 127.2L394.6 125.0L396.2 124.0L394.0 123.3L390.5 123.5L388.5 125.2L385.4 127.6L382.7 129.3L381.4 131.8L383.6 134.2L384.5 135.6L382.7 136.7L380.1 138.7L379.7 141.4L376.3 142.4L373.3 143.4L372.8 141.8L371.5 139.5L370.2 136.9L369.1 135.6L367.1 136.5L364.4 138.3L361.6 138.1L360.0 136.5L359.2 133.6L358.9 131.7L359.8 129.7L363.4 128.3L366.2 127.6L368.9 125.8L371.7 123.8L373.5 121.3L376.3 119.4L379.0 117.8L382.7 115.8L386.3 115.1L390.9 114.1L396.4 112.9L401.0 113.1L405.6 114.5L406.5 115.4L410.1 116.2L414.7 116.6L420.2 118.2L424.8 119.9L423.9 122.1L419.3 122.9L413.8 121.9L411.1 121.9L412.9 124.4L413.4 126.0L417.5 127.0L419.3 125.4L423.0 125.6L424.8 123.8L428.5 122.5L430.7 122.5L430.3 119.0L434.0 118.4L437.6 119.5L443.1 118.2L447.7 117.4L450.4 118.2L455.9 117.8L459.6 117.0L461.4 115.6L466.9 116.4L472.4 117.8L475.2 118.6L476.1 117.0L472.4 115.1L472.8 113.1L475.2 110.2L477.0 109.2L479.7 109.6L482.5 112.7L481.6 116.0L484.3 118.6L487.1 117.0L486.2 114.1L484.3 112.1L488.0 110.2L491.7 110.2L497.1 108.2L503.6 107.6L509.1 107.2L514.5 104.7L523.7 103.3L530.1 102.8L534.7 101.8L540.2 100.0L543.9 101.0L547.5 102.4L553.0 102.2L557.6 103.7L556.7 107.6L565.8 108.8L575.0 108.6L582.3 108.2L586.0 110.2L589.6 113.1L597.0 111.9L606.1 110.4L613.5 110.0L624.5 111.9L629.0 113.1L637.3 113.1L642.8 114.5L648.3 115.6L655.6 115.8L661.1 115.3L664.7 115.3L672.1 115.4L676.7 116.4L679.4 117.2 M20.0 117.2L25.5 118.4L30.1 120.5L34.7 121.1L38.3 122.5L34.7 124.4L31.9 126.0L29.2 124.8L25.5 123.8L22.4 123.3L20.0 124.8 M679.4 124.8L676.7 125.8L674.8 129.5L669.3 131.1L664.7 133.0L662.0 134.6L655.6 134.0L651.9 135.0L648.8 135.0L646.4 138.1L648.6 139.5L647.3 141.8L646.1 144.3L642.8 147.7L640.0 148.6L636.7 152.2L635.4 149.2L635.1 144.3L636.9 139.5L640.0 138.5L643.7 135.6L647.3 132.6L642.8 131.1L637.3 131.7L632.7 135.6L628.1 136.5L622.6 135.8L616.2 136.0L609.8 136.5L605.2 139.5L601.6 141.4L598.8 144.3L602.5 145.9L607.0 147.3L608.5 150.2L607.0 154.1L607.0 157.0L604.3 160.0L602.5 162.9L598.8 165.8L596.1 167.4L593.3 168.2L590.6 167.8L589.1 169.1L587.3 171.9L586.9 173.6L584.7 176.0L586.7 179.5L586.7 182.4L585.1 183.4L582.3 184.2L581.0 184.0L581.4 181.8L582.0 179.9L580.7 178.1L579.2 177.9L578.7 176.0L578.1 174.0L574.1 172.9L571.7 176.0L573.0 173.6L570.4 173.2L568.6 174.6L565.8 175.6L565.1 176.6L566.8 178.5L568.0 179.1L570.8 177.9L574.1 178.7L573.7 179.9L570.4 181.4L568.2 183.4L570.0 184.8L571.1 188.3L573.0 189.8L573.0 191.4L573.2 193.4L572.2 196.1L570.4 198.6L568.8 201.0L567.7 202.5L565.5 204.3L563.1 206.4L560.3 207.4L558.1 208.2L555.8 209.2L553.0 210.0L551.7 212.1L550.6 209.8L548.4 209.6L545.7 210.9L544.8 212.3L543.5 214.6L544.8 217.0L546.6 219.5L549.0 222.1L549.9 225.4L549.7 229.1L547.5 230.9L545.1 231.4L542.4 234.8L541.7 232.6L541.1 231.2L538.4 229.9L537.4 227.9L534.7 226.9L533.2 225.4L532.7 227.3L531.4 231.2L532.7 233.8L533.6 237.5L535.2 238.3L536.9 239.6L538.9 242.0L539.3 244.9L540.6 249.0L539.3 249.2L536.5 247.3L535.2 246.1L533.6 243.0L533.4 240.4L532.3 238.5L530.3 235.7L529.8 233.6L530.3 231.2L530.5 228.3L529.6 225.4L528.7 220.5L527.9 218.9L526.5 219.5L524.4 220.9L522.4 220.5L522.8 217.6L521.9 215.0L520.0 212.9L518.6 210.7L517.8 208.2L515.5 208.8L513.6 209.2L511.8 209.6L509.1 210.0L508.7 211.7L505.4 213.9L503.6 216.0L500.4 219.3L498.6 220.7L496.6 222.5L496.6 225.8L496.1 229.3L495.9 231.6L494.4 233.6L492.9 234.4L491.7 235.9L490.0 234.4L489.3 232.2L488.4 229.3L486.7 226.4L485.8 223.4L484.3 220.5L483.2 215.6L483.0 212.7L482.7 210.4L482.5 208.2L478.8 211.1L476.1 208.2L477.9 207.0L475.2 205.9L473.0 203.9L471.7 202.1L467.8 202.3L463.3 202.7L460.5 202.1L456.9 201.8L454.7 201.2L453.7 199.0L452.6 198.8L449.9 200.0L447.7 199.4L444.9 197.5L442.7 195.1L441.3 192.8L439.3 192.8L437.6 193.4L438.5 196.1L440.4 199.0L441.6 200.0L442.4 202.9L443.7 200.8L444.2 202.5L444.0 204.3L446.8 204.5L449.5 204.5L451.9 202.5L452.8 200.4L453.0 203.1L455.0 205.3L457.2 205.9L459.2 207.8L458.3 210.0L456.9 211.9L455.6 213.7L454.1 214.8L452.8 216.8L451.0 218.2L447.7 219.1L445.3 220.9L441.3 222.5L438.5 224.4L434.9 225.6L432.1 226.8L429.4 226.9L428.1 223.4L427.5 220.5L426.1 217.6L423.9 213.7L421.5 209.8L420.2 205.9L418.4 202.9L416.6 200.4L414.7 197.5L413.8 194.1L413.1 196.1L412.4 197.6L411.2 196.5L409.4 193.4L409.6 195.1L410.7 197.1L412.0 199.8L413.8 203.9L415.1 206.8L417.1 208.8L418.0 212.7L418.4 215.6L420.4 217.6L421.7 220.9L423.0 222.1L425.2 224.4L427.5 226.8L429.0 228.7L431.2 231.4L434.9 230.9L438.5 229.9L443.5 228.5L443.1 231.2L442.2 234.2L440.4 238.1L437.6 243.0L434.9 246.9L431.2 249.4L427.5 253.3L425.2 255.7L423.3 258.0L421.5 260.9L421.0 264.2L421.9 267.4L422.2 271.3L423.7 273.2L424.1 278.1L424.2 281.0L422.1 284.0L418.4 286.5L415.6 288.9L413.4 290.4L414.5 294.7L414.7 298.6L410.1 301.5L409.8 304.5L409.0 307.6L407.0 309.4L405.0 312.7L401.9 315.6L399.2 317.4L396.6 317.9L394.6 318.5L390.9 318.1L386.3 319.7L384.1 318.7L383.4 317.9L382.7 315.8L381.4 312.3L379.9 307.6L377.7 304.5L377.0 301.5L376.3 296.7L374.4 292.8L372.6 288.9L371.3 285.5L371.7 282.6L372.6 278.1L374.8 274.8L373.9 270.3L372.2 265.4L371.7 263.1L371.3 260.5L368.9 257.6L367.1 255.7L366.7 252.7L367.1 249.8L367.7 246.3L367.1 244.3L365.8 243.0L363.4 243.2L360.7 243.4L359.2 241.0L357.9 239.4L355.2 239.3L352.4 239.8L349.7 240.8L347.0 242.0L343.3 241.8L340.5 241.8L336.0 243.2L333.2 242.0L330.5 239.6L328.6 238.1L326.8 237.1L325.3 234.6L324.6 233.0L323.1 231.2L321.7 229.9L319.5 227.7L318.9 224.8L317.6 223.0L319.5 220.1L320.0 216.6L319.5 213.7L318.6 210.7L319.5 207.8L320.8 205.3L322.4 202.9L323.3 200.6L325.5 197.9L328.6 196.7L331.4 194.7L331.9 192.2L331.7 190.2L333.2 188.1L336.0 186.1L337.8 184.8L338.9 181.8L340.0 181.6L341.5 183.0L345.1 183.2L347.9 182.0L351.5 180.5L355.2 179.9L358.9 179.9L363.4 179.5L367.7 178.9L369.8 179.5L368.9 181.1L369.8 182.4L368.9 184.4L368.0 185.4L369.8 186.7L372.6 187.7L377.5 188.7L378.1 190.2L381.8 191.2L384.5 192.6L386.3 191.2L386.3 189.3L388.2 187.7L390.9 187.7L392.7 188.9L395.5 189.7L399.2 190.6L402.8 191.4L405.6 190.2L408.7 190.6L412.3 190.6L413.3 189.3L413.8 187.3L414.7 185.4L415.5 182.8L415.8 180.3L414.7 180.3L412.9 179.9L411.1 181.1L409.2 181.3L406.5 179.9L403.7 181.1L401.4 180.1L399.7 178.5L398.2 176.6L398.8 174.6L397.7 173.4L400.1 172.9L402.8 171.9L401.0 171.3L397.3 172.1L394.6 171.9L393.1 173.2L391.1 172.7L391.6 174.6L392.4 176.2L393.7 177.2L391.8 178.5L391.3 180.5L390.4 180.3L389.4 179.7L388.7 177.9L388.2 176.6L386.9 175.0L386.2 174.0L385.2 173.1L385.4 170.7L383.6 168.8L380.8 167.4L378.8 166.4L377.2 164.9L375.3 163.7L374.6 162.5L372.2 163.3L372.2 164.9L374.6 166.8L376.6 169.7L379.0 170.7L382.7 172.5L383.6 173.4L380.8 172.7L379.9 174.2L381.0 175.8L379.2 177.5L378.5 177.0L378.8 174.6L377.2 173.2L375.3 172.1L372.6 170.7L370.2 169.0L368.9 167.8L368.4 165.8L365.8 165.0L363.4 166.2L361.6 167.6L358.9 167.0L357.0 166.8L355.2 168.2L355.6 169.9L353.4 171.1L351.2 172.3L349.7 174.0L349.2 175.0L350.1 176.0L348.8 177.2L348.2 178.3L346.4 179.9L345.7 180.1L341.6 180.1L339.4 181.4 M401.0 171.3L402.8 171.3L406.5 171.5L410.1 169.9L413.8 169.7L416.6 171.1L420.2 171.9L423.9 171.7L425.9 170.5L425.9 168.6L423.0 167.0L420.2 165.2L418.0 164.3L416.6 163.3L414.7 163.7L412.9 164.9L411.1 164.7L409.2 163.3L411.1 162.3L408.3 161.1L406.5 160.8L405.0 162.3L403.9 163.5L402.3 165.2L401.0 167.8L401.0 171.3Z M414.7 163.7L416.7 163.1L419.3 160.6L421.5 159.6L419.7 159.8L413.8 161.3L413.4 162.7L414.7 163.7Z M435.8 164.1L436.7 162.7L439.5 160.8L443.5 159.8L446.8 160.0L447.1 161.9L443.7 163.3L443.7 164.9L445.9 167.8L446.4 170.1L448.6 171.7L446.8 172.7L447.1 175.0L448.4 178.9L444.0 180.1L441.3 178.7L439.5 177.5L439.3 176.0L440.2 173.2L441.8 173.1L440.4 172.5L438.5 170.1L436.7 167.8L436.7 165.8L435.4 164.7L435.8 164.1Z M456.3 162.9L458.7 162.1L461.4 163.9L461.8 165.8L459.6 166.8L456.9 166.4L456.3 162.9Z M485.2 161.3L488.9 160.8L494.4 160.4L494.8 161.5L490.7 162.1L487.1 162.5L485.2 161.3Z M539.8 151.0L542.9 150.2L546.6 147.7L550.3 143.4L550.8 144.3L548.4 147.3L544.8 149.6L541.1 151.4L539.8 151.0Z M405.6 133.0L409.2 133.2L409.8 132.0L406.5 131.3L405.6 133.0Z M412.9 132.6L416.0 132.0L414.7 129.1L412.9 130.7L412.9 132.6Z M407.9 252.7L409.2 251.2L411.1 251.4L412.0 252.7L411.6 255.7L409.8 256.8L407.8 255.7L407.9 252.7Z M403.0 258.2L403.7 263.5L405.7 268.5L406.5 268.3L404.6 263.9L403.6 258.6L403.0 258.2Z M412.0 270.3L412.5 274.2L413.4 279.1L414.2 279.7L413.4 274.8L412.5 270.5L412.0 270.3Z M374.6 225.4L376.3 224.8L376.8 226.4L375.3 226.8L374.6 225.4Z M415.5 243.0L416.2 243.4L416.6 246.9L415.8 246.1L415.5 243.0Z M181.0 160.6L184.8 160.8L188.5 159.2L194.0 160.6L194.7 160.9L194.4 159.0L192.4 156.5L187.6 157.0L185.8 158.0L181.0 160.6Z M188.7 170.3L190.9 170.1L191.6 167.8L191.3 164.9L192.9 163.5L194.4 162.3L192.2 162.1L189.2 163.3L188.5 164.9L188.9 167.8L188.7 170.3Z M194.7 162.1L196.8 162.1L200.1 162.1L202.3 163.3L203.2 164.7L200.1 165.8L198.8 167.8L198.2 165.8L196.9 164.9L197.1 163.9L194.7 162.1Z M196.9 170.3L199.5 170.9L203.5 169.3L205.2 168.0L202.3 168.6L198.6 169.7L196.9 170.3Z M203.5 167.2L206.8 167.2L209.9 166.8L209.9 165.4L207.7 165.8L204.4 166.4L203.5 167.2Z M172.0 153.1L169.3 149.2L171.1 146.7L172.9 150.2L172.0 153.1Z M135.4 132.2L140.9 131.5L146.4 129.7L142.7 129.1L137.2 131.1L135.4 132.2Z M120.7 124.8L126.2 121.9L131.7 121.3L133.6 123.3L128.1 124.4L120.7 124.8Z M339.3 153.9L343.3 153.5L347.9 152.7L352.3 151.8L352.8 149.0L350.2 147.5L349.3 146.1L347.0 143.8L345.9 142.4L345.1 141.2L346.4 139.5L343.7 137.3L340.5 137.3L339.6 139.5L339.3 141.8L340.5 143.0L340.9 144.7L343.3 144.5L343.8 146.1L344.2 147.5L341.5 147.5L342.0 148.4L342.2 149.6L340.2 150.6L342.0 151.0L344.2 151.8L342.0 151.8L339.3 153.9Z M338.7 149.8L338.5 147.7L338.7 146.3L339.3 144.7L337.8 143.8L336.0 143.8L334.1 144.9L334.1 145.9L331.4 145.9L331.7 147.5L332.7 149.0L330.8 150.2L332.3 151.0L334.1 151.0L336.9 150.0L338.7 149.8Z M309.4 126.8L310.3 127.2L316.7 127.9L322.2 126.2L325.0 124.6L323.1 122.5L319.5 121.9L314.9 122.7L311.2 123.8L308.5 122.1L305.7 123.8L309.4 124.8L305.7 125.2L308.5 126.8L309.4 126.8Z M369.8 98.5L379.0 102.0L388.2 100.4L399.2 95.5L386.3 94.6L379.0 95.9L369.8 96.5L369.8 98.5Z M444.9 112.1L446.8 113.5L455.0 113.9L451.4 110.2L454.1 106.3L461.4 103.3L474.3 101.6L468.8 103.7L459.6 106.3L454.1 109.2L453.2 112.1L444.9 112.1Z M523.7 96.5L532.9 95.9L542.0 97.9L534.7 99.0L525.5 97.9L523.7 96.5Z M598.8 104.3L606.1 103.3L615.3 104.3L609.8 105.7L600.6 105.7L598.8 104.3Z M437.6 94.6L450.4 93.6L463.3 94.6L452.3 95.5L437.6 94.6Z M677.2 112.5M20.9 112.1L24.6 112.7L21.8 113.3M677.2 112.5Z M609.8 161.9L612.5 160.9L610.7 158.4L612.0 155.5L614.0 156.1L612.2 152.2L612.0 148.6L611.6 146.3L610.2 145.7L609.8 149.2L609.2 152.2L609.8 156.1L609.8 159.0L609.6 160.9L609.8 161.9Z M589.5 185.4L592.4 184.8L594.8 184.4L597.3 184.2L597.2 185.7L598.8 186.3L600.5 184.8L601.6 184.2L603.9 184.2L604.7 183.0L605.8 183.6L607.6 182.0L607.2 179.9L608.0 177.0L609.1 175.8L609.8 174.6L608.9 172.7L608.7 170.9L606.7 171.3L606.1 173.1L606.1 174.6L605.2 177.5L603.4 178.7L601.2 179.9L600.1 178.9L598.8 181.8L597.3 182.0L594.2 182.4L592.4 182.6L590.2 184.6L589.5 185.4Z M606.1 170.7L608.3 170.1L609.4 168.6L612.2 169.7L614.4 167.8L616.2 167.2L614.4 165.8L610.7 163.1L609.1 163.5L609.1 166.2L607.0 167.2L606.0 168.8L606.1 170.7Z M587.5 186.3L589.6 185.6L591.5 187.3L590.2 190.4L588.9 191.2L588.2 189.3L587.5 187.9L587.5 186.3Z M592.4 187.3L594.2 186.5L596.4 185.7L596.2 185.0L593.3 185.4L592.4 187.3Z M569.7 206.8L570.8 208.8L571.3 207.8L572.4 204.9L573.2 202.9L571.3 202.7L569.9 205.3L569.7 206.8Z M548.6 214.3L550.3 216.2L552.1 215.2L553.0 213.3L552.1 212.5L549.7 212.9L548.6 214.3Z M570.6 215.6L573.5 215.6L574.1 218.6L572.4 220.9L572.8 224.0L575.9 224.8L577.0 227.1L575.0 226.4L572.8 224.6L570.6 223.4L569.5 220.5L570.2 217.6L570.6 215.6Z M573.2 238.1L575.9 236.5L577.7 235.2L579.6 232.8L581.4 236.1L580.9 239.4L579.2 240.8L576.8 239.4L573.2 238.1Z M577.4 227.3L579.9 227.9L579.6 230.3L577.7 232.2L577.4 229.3L577.4 227.3Z M573.2 228.7L575.0 230.3L573.2 231.2L573.0 228.7Z M574.1 230.7L575.9 231.8L575.0 234.0L574.1 230.7Z M570.4 225.4L572.2 226.0L571.3 227.7L570.4 225.4Z M564.4 235.3L569.1 231.2L568.2 229.7L564.4 235.3Z M549.4 248.8L550.5 247.8L553.0 248.6L556.7 245.5L558.5 242.8L561.3 241.6L563.5 238.3L565.3 239.6L567.7 241.6L566.2 243.2L565.5 245.9L567.3 249.8L565.5 250.8L564.6 253.5L563.3 255.3L562.5 258.6L559.6 259.6L556.7 258.0L554.3 257.6L551.5 257.4L551.4 255.1L549.7 252.1L549.4 248.8Z M524.3 240.8L528.3 241.6L530.5 244.5L533.6 247.5L535.6 248.2L538.4 250.8L539.8 253.7L541.1 255.3L543.9 258.0L543.5 263.1L541.3 263.3L538.4 260.1L535.6 257.2L533.6 253.7L531.0 249.8L529.8 247.8L526.5 244.3L524.3 240.8Z M542.4 265.0L544.8 263.5L548.1 264.1L552.1 265.0L555.9 265.2L559.2 267.0L559.4 268.5L555.8 268.2L551.2 267.6L547.5 267.0L544.6 266.2L542.4 265.0Z M559.4 267.6L561.6 268.2L560.7 268.9L559.4 267.6Z M562.2 268.2L567.7 267.8L566.8 269.1L562.2 269.1L562.2 268.2Z M569.1 268.3L575.0 267.8L574.1 268.9L569.5 269.1L569.1 268.3Z M567.7 270.3L571.0 270.9L569.5 271.9L567.7 270.3Z M576.5 271.9L579.0 270.3L582.9 268.2L581.4 269.1L577.7 271.3L576.5 271.9Z M568.4 262.7L568.8 258.6L567.3 256.8L569.1 251.8L569.7 250.2L572.2 249.8L575.0 250.0L577.7 248.8L579.0 248.6L577.7 250.8L575.9 251.2L572.2 250.8L570.8 252.7L571.3 253.7L575.4 253.3L574.1 254.7L571.9 255.5L573.2 257.6L575.0 260.7L573.2 260.7L572.2 259.6L571.1 257.2L570.2 262.5L568.4 262.7Z M583.2 247.8L585.1 249.8L584.2 251.8L585.4 253.3L583.8 252.7L583.2 247.8Z M584.2 257.6L588.7 258.0L587.8 259.2L585.1 258.8L584.2 257.6Z M580.5 258.0L582.7 258.0L582.3 259.2L580.5 258.0Z M589.6 254.3L592.4 252.5L595.1 253.5L597.0 258.2L601.6 254.7L604.3 256.0L608.0 256.8L612.5 258.6L615.3 260.1L617.1 262.5L619.9 263.9L620.4 264.8L618.6 266.4L620.8 268.3L623.5 270.9L625.9 272.1L623.5 271.9L619.9 271.5L617.1 268.3L614.4 266.6L612.5 268.3L610.7 269.9L608.0 269.5L605.2 267.8L603.4 268.2L602.5 266.4L603.9 265.0L602.5 262.5L599.7 260.9L596.1 259.6L593.3 259.6L591.5 257.2L594.2 256.2L591.5 255.7L589.6 254.3Z M621.7 262.5L624.5 262.5L627.2 260.5L628.5 260.0L627.2 261.9L625.4 263.9L622.6 263.7L621.7 262.5Z M625.9 256.8L628.1 258.2L629.9 260.7L629.4 261.1L627.7 259.2L625.9 256.8Z M632.9 261.9L635.3 264.4L634.5 265.2L632.9 261.9Z M636.4 265.4L640.0 267.4L638.7 268.0L636.4 265.4Z M641.9 268.9L644.6 270.7L642.8 270.9L641.9 268.9Z M644.2 268.0L645.5 270.3L644.6 269.7L644.2 268.0Z M654.7 281.0L656.0 282.6L656.5 284.0L655.2 282.6L654.7 281.0Z M650.1 291.2L652.8 292.8L655.6 295.3L654.7 295.7L651.0 292.8L650.1 291.2Z M674.5 285.9L676.8 285.7L676.3 287.3L674.6 286.9L674.5 285.9Z M677.2 283.8M20.2 283.4M678.5 284.8L677.2 283.8Z M33.7 278.1L35.6 278.7L34.1 278.9L33.7 278.1Z M557.6 294.7L558.9 295.7L557.6 299.6L558.5 303.5L560.2 308.4L560.3 313.3L561.6 316.8L560.3 318.7L563.1 320.1L565.8 320.1L569.5 318.1L573.2 318.1L576.8 316.2L580.5 314.8L586.0 313.5L589.6 313.3L593.3 314.6L595.7 316.6L597.9 319.7L598.8 318.1L601.6 316.2L602.1 318.5L600.6 321.3L603.4 320.1L602.8 321.3L605.4 322.6L607.0 326.0L609.8 326.7L612.5 327.5L615.3 326.9L617.7 328.1L619.9 326.0L623.5 325.0L624.5 323.0L625.9 319.1L627.2 316.2L629.0 314.2L629.9 311.3L631.0 307.4L630.1 304.5L629.9 300.6L627.2 298.6L625.4 295.7L622.6 292.8L620.8 290.4L618.0 288.9L616.8 284.9L615.8 281.0L614.4 279.5L612.5 276.2L610.7 272.6L609.4 276.2L609.1 281.0L608.5 284.0L607.0 285.9L605.2 285.5L602.1 283.4L598.8 281.0L597.9 280.1L599.7 275.6L597.9 275.2L593.3 274.2L590.6 274.0L588.7 276.2L586.9 280.1L584.2 281.0L581.4 279.1L578.7 281.0L575.9 284.0L573.7 285.9L572.2 288.9L567.7 290.8L564.0 292.2L561.3 293.1L559.4 294.3L557.6 294.7Z M614.7 331.2L618.0 332.0L621.3 331.6L621.3 334.2L619.9 336.1L617.1 336.7L615.7 334.4L614.7 331.2Z M666.0 318.9L669.3 321.1L671.2 324.0L673.0 325.4L676.7 325.4L675.4 328.3L673.7 329.1L672.1 332.4L670.6 333.0L669.5 332.2L670.2 329.9L668.0 328.5L669.3 326.9L669.5 324.0L667.5 321.1L666.0 318.9Z M666.0 330.8L669.0 332.2L668.2 334.4L666.2 336.5L663.3 338.5L662.5 341.2L659.8 342.7L657.1 342.2L654.7 341.2L655.6 339.2L658.3 337.3L662.0 335.3L663.8 333.2L664.9 331.4L666.0 330.8Z M496.1 238.3L496.2 235.2L496.8 232.6L498.4 235.2L499.7 237.7L498.6 239.6L496.6 240.0L496.1 238.3Z M440.0 275.2L441.6 280.1L442.0 282.6L440.6 284.9L439.1 289.8L437.4 295.7L436.0 300.4L432.5 301.5L430.3 300.4L429.0 295.7L429.6 292.8L430.8 290.8L430.3 285.9L431.0 283.4L434.5 282.4L437.3 280.1L439.1 277.1L440.0 275.2Z M454.8 290.8L455.6 291.2L455.0 291.8L454.8 290.8Z M451.0 292.6L451.9 293.0L451.4 293.5L451.0 292.6Z M475.5 347.0L478.5 347.4L477.6 348.6L475.7 348.4L475.5 347.0Z M447.3 226.9L449.5 227.1L448.6 227.7L447.3 226.9Z M421.5 263.1L422.1 263.5L421.9 264.2L421.5 263.1Z M372.4 177.3L378.3 177.0L377.4 180.1L372.4 178.3L372.4 177.3Z M365.1 175.6L367.3 175.4L367.7 171.7L364.7 171.9L365.1 175.6Z M365.5 170.9L366.9 170.9L367.1 167.8L365.5 169.0L365.5 170.9Z M392.7 182.4L397.9 182.8L397.5 183.4L393.7 183.2L392.7 182.4Z M408.9 184.0L413.1 182.0L411.6 183.4L409.8 184.2L408.9 184.0Z M354.1 174.4L355.9 174.0L355.6 175.0L354.1 174.4Z M318.9 196.3L321.5 197.1L325.0 195.3L318.9 196.3Z M305.7 220.5L307.6 222.5L306.7 222.7L305.7 220.5Z M296.9 176.4L300.2 176.2L298.4 176.8L296.9 176.4Z M519.5 225.4L520.0 228.3L519.3 229.3L519.5 225.4Z M583.4 199.2L584.7 199.8L583.8 200.8L583.4 199.2Z M617.1 166.4L621.7 163.9L625.4 161.5L628.1 159.6L631.8 157.0L634.5 154.1L636.0 152.7 M182.1 252.1L184.3 252.5L183.0 253.7L182.1 252.1Z M20.0 416.8L38.3 417.3L53.0 417.7L64.0 415.8L71.3 409.9L76.8 403.1L84.1 400.2L93.3 399.2L111.6 397.2L129.9 396.3L148.2 397.2L166.5 395.3L184.8 394.3L203.2 395.3L212.3 391.4L221.5 386.5L227.0 381.6L232.5 377.7L245.3 375.4L243.5 377.7L238.0 381.6L236.1 385.5L238.0 389.4L236.1 394.3L239.8 397.2L238.0 400.2L239.8 402.1L258.1 404.1L276.4 404.1L285.6 403.1L294.8 400.2L303.9 397.2L313.1 395.3L322.2 392.4L331.4 391.0L349.7 389.0L368.0 388.4L386.3 388.1L404.6 387.5L413.8 387.1L423.0 386.5L432.1 383.6L441.3 382.2L450.4 381.6L459.6 383.6L468.8 383.8L477.9 385.5L481.6 388.4L477.9 392.4L487.1 387.5L496.2 383.6L505.4 382.2L514.5 381.6L523.7 381.6L532.9 380.2L542.0 380.6L551.2 381.0L560.3 382.2L569.5 382.2L578.7 381.2L587.8 381.0L597.0 380.6L606.1 382.0L615.3 383.6L624.5 385.7L633.6 386.9L642.8 388.4L651.9 390.4L661.1 391.4L657.4 395.3L651.9 398.2L647.3 402.1L642.8 407.0L648.3 410.9L657.4 413.8L668.4 414.8L679.4 416.8 M169.3 116.0L173.9 115.4L174.8 117.4L171.1 118.0L169.3 116.0Z M173.9 104.9L179.4 104.7L178.4 106.1L174.8 106.1L173.9 104.9Z M203.2 108.0L209.6 108.4L207.7 109.6L204.1 109.2L203.2 108.0Z M197.7 129.1L201.3 129.7L199.5 130.5L197.7 129.1Z M202.8 130.1L204.1 131.1L202.6 131.5L202.8 130.1Z M204.1 141.4L205.9 142.4L204.4 142.8L204.1 141.4Z M172.0 98.3L175.7 98.8L173.9 99.8L172.0 98.3Z M162.9 97.7L166.5 98.3L164.7 99.4L162.9 97.7Z M147.3 99.0L155.5 99.4L151.9 100.4L147.3 99.0Z M212.3 119.0L215.1 119.5L213.2 120.1L212.3 119.0Z M200.4 148.1L202.3 148.6L201.0 148.8L200.4 148.1Z M230.6 131.5L231.6 132.0L230.3 132.0L230.6 131.5Z M131.7 102.9L135.4 103.3L133.6 104.1L131.7 102.9Z M154.6 108.2L156.5 108.6L155.2 109.2L154.6 108.2Z M437.6 116.4L440.4 116.6L439.5 117.4L437.6 116.4Z M457.8 114.5L460.5 115.1L458.7 115.4L457.8 114.5Z M532.9 98.5L540.2 99.4L536.5 100.2L532.9 98.5Z M608.0 108.0L612.5 108.4L609.8 109.0L608.0 108.0Z M452.3 94.0L459.6 94.4L455.9 95.1L452.3 94.0Z M430.3 94.9L437.6 95.3L434.0 95.9L430.3 94.9Z M384.5 94.9L399.2 95.3L393.7 96.9L384.5 94.9Z M388.2 99.4L392.7 99.4L390.0 100.6L388.2 99.4Z M192.2 127.2L194.0 127.7L191.3 128.1L192.2 127.2Z M249.9 115.1L253.5 114.7L251.7 116.2L249.9 115.1Z" fill="none" stroke="#000" stroke-width="1.1" stroke-linejoin="round" clip-path="url(#mapclip)"/><rect x="17" y="458.5" width="666" height="15.3" fill="url(#cbg)"/><g style='font-family:"Liberation Sans",Arial,Helvetica,sans-serif'><text x="17.6" y="21.4" font-size="22.5" fill="#000" textLength="335.3" lengthAdjust="spacing">Erythemal UV index -- climatology</text><text x="17.7" y="47.4" font-size="18" fill="#1c1c84" textLength="162" lengthAdjust="spacing">GOME - KNMI/ESA</text><text x="526.0" y="21.5" font-size="22.5" fill="#000" textLength="156.5" lengthAdjust="spacing">local solar noon</text><text x="605.5" y="47.0" font-size="22.5" fill="#000" textLength="76.6" lengthAdjust="spacing">full year</text><text x="130.4" y="70.9" font-size="14" text-anchor="middle" fill="#000">-120</text><text x="130.4" y="443.0" font-size="14" text-anchor="middle" fill="#000">-120</text><text x="240.3" y="70.9" font-size="14" text-anchor="middle" fill="#000">-60</text><text x="240.3" y="443.0" font-size="14" text-anchor="middle" fill="#000">-60</text><text x="350.2" y="70.9" font-size="14" text-anchor="middle" fill="#000">0</text><text x="350.2" y="443.0" font-size="14" text-anchor="middle" fill="#000">0</text><text x="460.1" y="70.9" font-size="14" text-anchor="middle" fill="#000">60</text><text x="460.1" y="443.0" font-size="14" text-anchor="middle" fill="#000">60</text><text x="570.0" y="70.9" font-size="14" text-anchor="middle" fill="#000">120</text><text x="570.0" y="443.0" font-size="14" text-anchor="middle" fill="#000">120</text><text x="15.0" y="134.58" font-size="14" text-anchor="middle" fill="#000" transform="rotate(-90 15.0 134.58)">60</text><text x="684.6" y="134.58" font-size="14" text-anchor="middle" fill="#000" transform="rotate(90 684.6 134.58)">60</text><text x="15.0" y="251.75" font-size="14" text-anchor="middle" fill="#000" transform="rotate(-90 15.0 251.75)">0</text><text x="684.6" y="251.75" font-size="14" text-anchor="middle" fill="#000" transform="rotate(90 684.6 251.75)">0</text><text x="15.0" y="368.92" font-size="14" text-anchor="middle" fill="#000" transform="rotate(-90 15.0 368.92)">-60</text><text x="684.6" y="368.92" font-size="14" text-anchor="middle" fill="#000" transform="rotate(90 684.6 368.92)">-60</text><text x="17" y="493.2" font-size="17.5" text-anchor="middle" fill="#000">0</text><text x="91" y="493.2" font-size="17.5" text-anchor="middle" fill="#000">2</text><text x="165" y="493.2" font-size="17.5" text-anchor="middle" fill="#000">4</text><text x="239" y="493.2" font-size="17.5" text-anchor="middle" fill="#000">6</text><text x="313" y="493.2" font-size="17.5" text-anchor="middle" fill="#000">8</text><text x="387" y="493.2" font-size="17.5" text-anchor="middle" fill="#000">10</text><text x="461" y="493.2" font-size="17.5" text-anchor="middle" fill="#000">12</text><text x="535" y="493.2" font-size="17.5" text-anchor="middle" fill="#000">14</text><text x="609" y="493.2" font-size="17.5" text-anchor="middle" fill="#000">16</text><text x="683" y="493.2" font-size="17.5" text-anchor="middle" fill="#000">18</text></g></svg></div></body></html>
